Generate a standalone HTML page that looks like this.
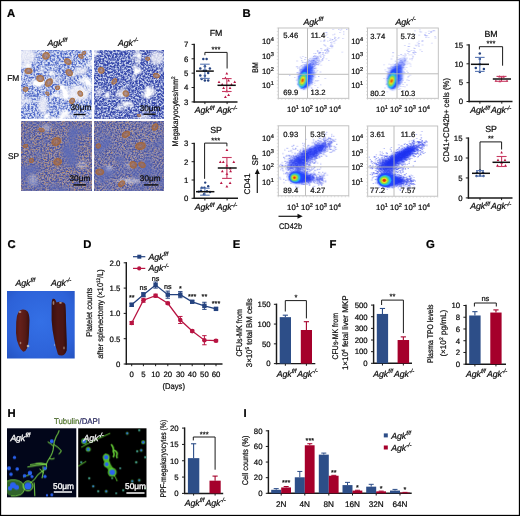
<!DOCTYPE html>
<html><head><meta charset="utf-8"><style>html,body{margin:0;padding:0;background:#fff;overflow:hidden}svg{display:block;will-change:transform}text{font-family:"Liberation Sans",sans-serif;stroke-width:0.22px;text-rendering:geometricPrecision}</style></head>
<body>
<svg width="520" height="516" viewBox="0 0 520 516" font-family='"Liberation Sans", sans-serif'>
<defs>
<filter id="fmA" x="0" y="0" width="100%" height="100%" color-interpolation-filters="sRGB">
 <feTurbulence type="fractalNoise" baseFrequency="0.55" numOctaves="2" seed="3" result="hf"/>
 <feColorMatrix in="hf" type="matrix" values="0 0 0 0 0.30  0 0 0 0 0.40  0 0 0 0 0.78  -3 0 0 0 1.95" result="dots"/>
 <feTurbulence type="fractalNoise" baseFrequency="0.08" numOctaves="2" seed="9" result="lf"/>
 <feColorMatrix in="lf" type="matrix" values="0 0 0 0 1  0 0 0 0 1  0 0 0 0 1  5 0 0 0 -2.75" result="white"/>
 <feMerge result="m"><feMergeNode in="dots"/><feMergeNode in="white"/></feMerge>
 <feGaussianBlur in="m" stdDeviation="0.3"/>
</filter>
<filter id="fmB" x="0" y="0" width="100%" height="100%" color-interpolation-filters="sRGB">
 <feTurbulence type="fractalNoise" baseFrequency="0.55" numOctaves="2" seed="5" result="hf"/>
 <feColorMatrix in="hf" type="matrix" values="0 0 0 0 0.21  0 0 0 0 0.28  0 0 0 0 0.67  -3 0 0 0 2.1" result="dots"/>
 <feTurbulence type="fractalNoise" baseFrequency="0.08" numOctaves="2" seed="4" result="lf"/>
 <feColorMatrix in="lf" type="matrix" values="0 0 0 0 1  0 0 0 0 1  0 0 0 0 1  5 0 0 0 -3.0" result="white"/>
 <feMerge result="m"><feMergeNode in="dots"/><feMergeNode in="white"/></feMerge>
 <feGaussianBlur in="m" stdDeviation="0.3"/>
</filter>
<filter id="spA" x="0" y="0" width="100%" height="100%" color-interpolation-filters="sRGB">
 <feTurbulence type="fractalNoise" baseFrequency="0.6" numOctaves="2" seed="11" result="hf"/>
 <feColorMatrix in="hf" type="matrix" values="0 0 0 0 0.27  0 0 0 0 0.32  0 0 0 0 0.64  -3 0 0 0 1.95" result="dots"/>
 <feTurbulence type="fractalNoise" baseFrequency="0.7" numOctaves="1" seed="12" result="hf2"/>
 <feColorMatrix in="hf2" type="matrix" values="0 0 0 0 0.72  0 0 0 0 0.53  0 0 0 0 0.36  -3 0 0 0 1.75" result="tan"/>
 <feTurbulence type="fractalNoise" baseFrequency="0.05" numOctaves="2" seed="13" result="lf"/>
 <feColorMatrix in="lf" type="matrix" values="0 0 0 0 0.36  0 0 0 0 0.42  0 0 0 0 0.72  3 0 0 0 -1.45" result="bl"/>
 <feMerge result="m"><feMergeNode in="tan"/><feMergeNode in="dots"/><feMergeNode in="bl"/></feMerge>
 <feGaussianBlur in="m" stdDeviation="0.45"/>
</filter>
<filter id="spB" x="0" y="0" width="100%" height="100%" color-interpolation-filters="sRGB">
 <feTurbulence type="fractalNoise" baseFrequency="0.6" numOctaves="2" seed="21" result="hf"/>
 <feColorMatrix in="hf" type="matrix" values="0 0 0 0 0.27  0 0 0 0 0.32  0 0 0 0 0.64  -3 0 0 0 1.95" result="dots"/>
 <feTurbulence type="fractalNoise" baseFrequency="0.7" numOctaves="1" seed="22" result="hf2"/>
 <feColorMatrix in="hf2" type="matrix" values="0 0 0 0 0.72  0 0 0 0 0.53  0 0 0 0 0.36  -3 0 0 0 1.5" result="tan"/>
 <feTurbulence type="fractalNoise" baseFrequency="0.05" numOctaves="2" seed="23" result="lf"/>
 <feColorMatrix in="lf" type="matrix" values="0 0 0 0 0.36  0 0 0 0 0.42  0 0 0 0 0.72  3 0 0 0 -1.45" result="bl"/>
 <feMerge result="m"><feMergeNode in="tan"/><feMergeNode in="dots"/><feMergeNode in="bl"/></feMerge>
 <feGaussianBlur in="m" stdDeviation="0.45"/>
</filter>
<filter id="b05"><feGaussianBlur stdDeviation="0.5"/></filter>
<filter id="b1" x="-50%" y="-50%" width="200%" height="200%"><feGaussianBlur stdDeviation="1"/></filter>
<filter id="b15" x="-50%" y="-50%" width="200%" height="200%"><feGaussianBlur stdDeviation="1.5"/></filter>
<filter id="b25" x="-50%" y="-50%" width="200%" height="200%"><feGaussianBlur stdDeviation="2.5"/></filter>
<radialGradient id="mk" cx="50%" cy="50%" r="50%"><stop offset="0" stop-color="#9a8090" stop-opacity="0.75"/><stop offset="0.5" stop-color="#a87858" stop-opacity="0.88"/><stop offset="0.75" stop-color="#a86838" stop-opacity="0.92"/><stop offset="0.9" stop-color="#b88858" stop-opacity="0.55"/><stop offset="1" stop-color="#c09068" stop-opacity="0"/></radialGradient>
<radialGradient id="mk2" cx="50%" cy="50%" r="50%"><stop offset="0" stop-color="#9a7068" stop-opacity="0.6"/><stop offset="0.5" stop-color="#a46a44" stop-opacity="0.8"/><stop offset="0.78" stop-color="#a8642e" stop-opacity="0.85"/><stop offset="1" stop-color="#b07848" stop-opacity="0"/></radialGradient>
<radialGradient id="cbg" cx="50%" cy="45%" r="75%"><stop offset="0" stop-color="#3470e6"/><stop offset="0.7" stop-color="#2d62d8"/><stop offset="1" stop-color="#2452c0"/></radialGradient>
<linearGradient id="spl1" x1="0" y1="0" x2="1" y2="0"><stop offset="0" stop-color="#521815"/><stop offset="0.3" stop-color="#66201a"/><stop offset="0.7" stop-color="#541a16"/><stop offset="1" stop-color="#3a0f0d"/></linearGradient><linearGradient id="spl2" x1="0" y1="0" x2="1" y2="0"><stop offset="0" stop-color="#3a0f0e"/><stop offset="0.4" stop-color="#4e1714"/><stop offset="0.75" stop-color="#4a1614"/><stop offset="1" stop-color="#300c0b"/></linearGradient>
</defs>
<rect x="0.00" y="0.00" width="520.00" height="516.00" fill="#fff"/>
<text x="7.00" y="16.60" font-size="11.3" font-weight="bold" fill="#000" stroke="#000">A</text>
<text x="242.50" y="16.50" font-size="11.3" font-weight="bold" fill="#000" stroke="#000">B</text>
<text x="7.60" y="248.30" font-size="11.3" font-weight="bold" fill="#000" stroke="#000">C</text>
<text x="83.20" y="248.30" font-size="11.3" font-weight="bold" fill="#000" stroke="#000">D</text>
<text x="232.80" y="248.30" font-size="11.3" font-weight="bold" fill="#000" stroke="#000">E</text>
<text x="329.60" y="248.30" font-size="11.3" font-weight="bold" fill="#000" stroke="#000">F</text>
<text x="426.00" y="248.30" font-size="11.3" font-weight="bold" fill="#000" stroke="#000">G</text>
<text x="7.50" y="416.90" font-size="11.3" font-weight="bold" fill="#000" stroke="#000">H</text>
<text x="243.60" y="416.70" font-size="11.3" font-weight="bold" fill="#000" stroke="#000">I</text>
<svg x="21" y="50" width="71" height="69" overflow="hidden">
<rect x="0" y="0" width="71" height="69" fill="#d8e0f4"/>
<rect x="0" y="0" width="71" height="69" filter="url(#fmA)"/>
<ellipse cx="6" cy="6" rx="9" ry="8" fill="#f4f4fa" opacity="0.85" filter="url(#b15)"/>
<ellipse cx="57" cy="43" rx="10" ry="8" fill="#f4f4fa" opacity="0.9" filter="url(#b15)"/>
<ellipse cx="22" cy="55" rx="5" ry="9" fill="#f4f4fa" opacity="0.85" filter="url(#b15)"/>
<ellipse cx="46" cy="66" rx="6" ry="3" fill="#f4f4fa" opacity="0.8" filter="url(#b15)"/>
<ellipse cx="60" cy="21" rx="7" ry="4" fill="#f4f4fa" opacity="0.8" filter="url(#b15)"/>
<ellipse cx="1" cy="50" rx="3" ry="8" fill="#f4f4fa" opacity="0.7" filter="url(#b15)"/>
<ellipse cx="35" cy="30" rx="4" ry="3" fill="#f4f4fa" opacity="0.6" filter="url(#b15)"/>
<ellipse cx="0" cy="0" rx="4.6" ry="4.2" fill="url(#mk)" transform="translate(25.0 5.8) rotate(-44)"/>
<ellipse cx="0" cy="0" rx="4.6" ry="3.5" fill="url(#mk)" transform="translate(46.8 11.6) rotate(32)"/>
<ellipse cx="0" cy="0" rx="4.6" ry="3.7" fill="url(#mk)" transform="translate(7.5 21.0) rotate(-1)"/>
<ellipse cx="0" cy="0" rx="4.6" ry="4.1" fill="url(#mk)" transform="translate(19.2 28.5) rotate(18)"/>
<ellipse cx="0" cy="0" rx="5.5" ry="3.9" fill="url(#mk)" transform="translate(27.9 32.6) rotate(-49)"/>
<ellipse cx="0" cy="0" rx="4.6" ry="3.7" fill="url(#mk)" transform="translate(48.2 22.7) rotate(40)"/>
<ellipse cx="0" cy="0" rx="3.4" ry="2.4" fill="url(#mk)" transform="translate(59.9 6.4) rotate(31)"/>
<ellipse cx="0" cy="0" rx="3.4" ry="3.0" fill="url(#mk)" transform="translate(4.6 39.2) rotate(-7)"/>
<ellipse cx="0" cy="0" rx="2.9" ry="2.7" fill="url(#mk)" transform="translate(36.6 37.8) rotate(-33)"/>
<ellipse cx="0" cy="0" rx="2.9" ry="2.0" fill="url(#mk)" transform="translate(26.4 43.6) rotate(48)"/>
<ellipse cx="0" cy="0" rx="3.8" ry="3.2" fill="url(#mk)" transform="translate(51.1 50.9) rotate(-57)"/>
<ellipse cx="0" cy="0" rx="3.8" ry="3.1" fill="url(#mk)" transform="translate(59.3 43.6) rotate(53)"/>
<ellipse cx="0" cy="0" rx="2.8" ry="2.2" fill="url(#mk)" transform="translate(62.8 3.0) rotate(-34)"/>
</svg>
<svg x="94" y="50" width="70" height="69" overflow="hidden">
<rect x="0" y="0" width="70" height="69" fill="#cfd8f0"/>
<rect x="0" y="0" width="70" height="69" filter="url(#fmB)"/>
<ellipse cx="28" cy="44" rx="6" ry="4" fill="#f4f4fa" opacity="0.85" filter="url(#b15)"/>
<ellipse cx="63" cy="8" rx="7" ry="7" fill="#f4f4fa" opacity="0.8" filter="url(#b15)"/>
<ellipse cx="5" cy="42" rx="3" ry="4" fill="#f4f4fa" opacity="0.7" filter="url(#b15)"/>
<ellipse cx="52" cy="60" rx="4" ry="3" fill="#f4f4fa" opacity="0.5" filter="url(#b15)"/>
<ellipse cx="0" cy="0" rx="4.0" ry="3.7" fill="url(#mk)" transform="translate(7.2 20.3) rotate(55)"/>
<ellipse cx="0" cy="0" rx="4.0" ry="2.9" fill="url(#mk)" transform="translate(20.3 31.4) rotate(-53)"/>
<ellipse cx="0" cy="0" rx="4.0" ry="3.5" fill="url(#mk)" transform="translate(31.9 43.6) rotate(40)"/>
<ellipse cx="0" cy="0" rx="4.0" ry="3.1" fill="url(#mk)" transform="translate(62.4 25.6) rotate(20)"/>
<ellipse cx="0" cy="0" rx="2.8" ry="2.4" fill="url(#mk)" transform="translate(53.7 8.7) rotate(13)"/>
<ellipse cx="0" cy="0" rx="2.4" ry="1.8" fill="url(#mk)" transform="translate(45.0 65.4) rotate(10)"/>
</svg>
<svg x="21" y="121" width="71" height="70" overflow="hidden">
<rect x="0" y="0" width="71" height="70" fill="#a098b0"/>
<rect x="0" y="0" width="71" height="70" filter="url(#spA)"/>
<ellipse cx="25" cy="7" rx="5" ry="3.5" fill="#f4f4fa" opacity="0.35" filter="url(#b15)"/>
<ellipse cx="12" cy="59" rx="5" ry="6" fill="#f4f4fa" opacity="0.3" filter="url(#b15)"/>
<ellipse cx="61" cy="44" rx="5" ry="5" fill="#f4f4fa" opacity="0.25" filter="url(#b15)"/>
<ellipse cx="0" cy="0" rx="5.8" ry="4.8" fill="url(#mk2)" transform="translate(35.2 20.6) rotate(-31)"/>
<ellipse cx="0" cy="0" rx="5.0" ry="4.3" fill="url(#mk2)" transform="translate(36.6 40.9) rotate(-16)"/>
<ellipse cx="0" cy="0" rx="3.6" ry="2.6" fill="url(#mk2)" transform="translate(20.6 9.0) rotate(15)"/>
<ellipse cx="0" cy="0" rx="3.1" ry="2.8" fill="url(#mk2)" transform="translate(10.4 39.5) rotate(-58)"/>
<ellipse cx="0" cy="0" rx="3.1" ry="2.4" fill="url(#mk2)" transform="translate(4.6 25.0) rotate(-29)"/>
</svg>
<svg x="94" y="121" width="70" height="70" overflow="hidden">
<rect x="0" y="0" width="70" height="70" fill="#a098b0"/>
<rect x="0" y="0" width="70" height="70" filter="url(#spB)"/>
<ellipse cx="35" cy="60" rx="12" ry="2.2" fill="#f4f4fa" opacity="0.55" filter="url(#b15)"/>
<ellipse cx="15" cy="47" rx="3" ry="3" fill="#f4f4fa" opacity="0.4" filter="url(#b15)"/>
<ellipse cx="35" cy="44" rx="4" ry="2.5" fill="#f4f4fa" opacity="0.3" filter="url(#b15)"/>
<ellipse cx="0" cy="0" rx="5.2" ry="3.7" fill="url(#mk2)" transform="translate(32.0 13.3) rotate(-32)"/>
<ellipse cx="0" cy="0" rx="6.2" ry="4.6" fill="url(#mk2)" transform="translate(46.5 25.0) rotate(-12)"/>
<ellipse cx="0" cy="0" rx="4.6" ry="3.6" fill="url(#mk2)" transform="translate(61.0 6.0) rotate(-52)"/>
<ellipse cx="0" cy="0" rx="4.6" ry="4.1" fill="url(#mk2)" transform="translate(39.2 43.8) rotate(50)"/>
<ellipse cx="0" cy="0" rx="4.6" ry="3.4" fill="url(#mk2)" transform="translate(48.0 43.8) rotate(32)"/>
<ellipse cx="0" cy="0" rx="5.0" ry="3.9" fill="url(#mk2)" transform="translate(5.8 51.0) rotate(4)"/>
<ellipse cx="0" cy="0" rx="4.6" ry="3.3" fill="url(#mk2)" transform="translate(27.6 62.7) rotate(-39)"/>
<ellipse cx="0" cy="0" rx="3.2" ry="3.0" fill="url(#mk2)" transform="translate(4.3 25.0) rotate(-34)"/>
</svg>
<text x="80.90" y="109.70" font-size="8.2" text-anchor="middle" fill="#0a0a0a" stroke="#0a0a0a">30μm</text>
<line x1="73.60" y1="114.50" x2="85.50" y2="114.50" stroke="#0a0a0a" stroke-width="1.4"/>
<text x="150.00" y="111.30" font-size="8.2" text-anchor="middle" fill="#0a0a0a" stroke="#0a0a0a">30μm</text>
<line x1="143.50" y1="114.20" x2="155.70" y2="114.20" stroke="#0a0a0a" stroke-width="1.4"/>
<text x="79.90" y="180.50" font-size="8.2" text-anchor="middle" fill="#0a0a0a" stroke="#0a0a0a">30μm</text>
<line x1="73.30" y1="184.90" x2="85.90" y2="184.90" stroke="#0a0a0a" stroke-width="1.4"/>
<text x="150.20" y="181.20" font-size="8.2" text-anchor="middle" fill="#0a0a0a" stroke="#0a0a0a">30μm</text>
<line x1="143.90" y1="184.90" x2="158.50" y2="184.90" stroke="#0a0a0a" stroke-width="1.4"/>
<text x="47.50" y="45.60" font-size="8.8" font-style="italic" stroke="#1a1a1a" letter-spacing="-0.15">Agk<tspan font-size="5.98" dy="-3.52" dx="0.3">f/f</tspan></text>
<text x="118.00" y="45.60" font-size="8.8" font-style="italic" stroke="#1a1a1a" letter-spacing="-0.15">Agk<tspan font-size="5.98" dy="-3.52" dx="0.3">-/-</tspan></text>
<text x="7.20" y="81.40" font-size="8.4" stroke="#1a1a1a">FM</text>
<text x="8.00" y="159.00" font-size="8.4" stroke="#1a1a1a">SP</text>
<text x="177.95" y="111.40" font-size="8.2" text-anchor="middle" stroke="#1a1a1a" textLength="70" lengthAdjust="spacingAndGlyphs" transform="rotate(-90 177.95 111.40)">Megakaryocytes/mm<tspan font-size="5.2" dy="-3.2">2</tspan></text>
<text x="216.00" y="36.30" font-size="8.8" text-anchor="middle" stroke="#1a1a1a">FM</text>
<line x1="194.20" y1="43.70" x2="194.20" y2="102.55" stroke="#1a1a1a" stroke-width="1.45"/>
<line x1="193.55" y1="101.90" x2="237.50" y2="101.90" stroke="#1a1a1a" stroke-width="1.45"/>
<line x1="191.60" y1="44.40" x2="194.20" y2="44.40" stroke="#1a1a1a" stroke-width="1"/>
<text x="188.30" y="47.21" font-size="7.8" text-anchor="end" stroke="#1a1a1a">7</text>
<line x1="191.60" y1="58.78" x2="194.20" y2="58.78" stroke="#1a1a1a" stroke-width="1"/>
<text x="188.30" y="61.58" font-size="7.8" text-anchor="end" stroke="#1a1a1a">6</text>
<line x1="191.60" y1="73.15" x2="194.20" y2="73.15" stroke="#1a1a1a" stroke-width="1"/>
<text x="188.30" y="75.96" font-size="7.8" text-anchor="end" stroke="#1a1a1a">5</text>
<line x1="191.60" y1="87.53" x2="194.20" y2="87.53" stroke="#1a1a1a" stroke-width="1"/>
<text x="188.30" y="90.33" font-size="7.8" text-anchor="end" stroke="#1a1a1a">4</text>
<line x1="191.60" y1="101.90" x2="194.20" y2="101.90" stroke="#1a1a1a" stroke-width="1"/>
<text x="188.30" y="104.71" font-size="7.8" text-anchor="end" stroke="#1a1a1a">3</text>
<line x1="204.90" y1="101.90" x2="204.90" y2="104.10" stroke="#1a1a1a" stroke-width="1"/>
<line x1="227.10" y1="101.90" x2="227.10" y2="104.10" stroke="#1a1a1a" stroke-width="1"/>
<text x="194.80" y="113.30" font-size="8.8" font-style="italic" stroke="#1a1a1a" letter-spacing="-0.15">Agk<tspan font-size="5.98" dy="-3.52" dx="0.3">f/f</tspan></text>
<text x="216.80" y="113.30" font-size="8.8" font-style="italic" stroke="#1a1a1a" letter-spacing="-0.15">Agk<tspan font-size="5.98" dy="-3.52" dx="0.3">-/-</tspan></text>
<circle cx="203.3" cy="59.0" r="1.25" fill="#24427f"/>
<circle cx="206.6" cy="59.0" r="1.25" fill="#24427f"/>
<circle cx="204.9" cy="66.2" r="1.25" fill="#24427f"/>
<circle cx="200.3" cy="68.5" r="1.25" fill="#24427f"/>
<circle cx="209.9" cy="68.5" r="1.25" fill="#24427f"/>
<circle cx="203.9" cy="70.7" r="1.25" fill="#24427f"/>
<circle cx="205.9" cy="70.7" r="1.25" fill="#24427f"/>
<circle cx="208.2" cy="73.1" r="1.25" fill="#24427f"/>
<circle cx="200.3" cy="75.6" r="1.25" fill="#24427f"/>
<circle cx="204.9" cy="75.8" r="1.25" fill="#24427f"/>
<circle cx="201.6" cy="79.0" r="1.25" fill="#24427f"/>
<circle cx="204.9" cy="80.4" r="1.25" fill="#24427f"/>
<circle cx="208.2" cy="80.4" r="1.25" fill="#24427f"/>
<line x1="204.90" y1="64.20" x2="204.90" y2="78.40" stroke="#5a78b4" stroke-width="1.1"/>
<line x1="200.10" y1="64.20" x2="209.70" y2="64.20" stroke="#5a78b4" stroke-width="1.1"/>
<line x1="200.10" y1="78.40" x2="209.70" y2="78.40" stroke="#5a78b4" stroke-width="1.1"/>
<line x1="196.00" y1="71.10" x2="213.80" y2="71.10" stroke="#111" stroke-width="1.5"/>
<path d="M226.8 72.0L228.2 74.5L225.4 74.5Z" fill="#b81442"/>
<path d="M225.4 76.5L226.8 79.0L224.0 79.0Z" fill="#b81442"/>
<path d="M228.6 79.0L230.0 81.5L227.2 81.5Z" fill="#b81442"/>
<path d="M219.0 80.5L220.4 83.0L217.6 83.0Z" fill="#b81442"/>
<path d="M234.7 80.5L236.1 83.0L233.3 83.0Z" fill="#b81442"/>
<path d="M222.2 83.1L223.6 85.6L220.8 85.6Z" fill="#b81442"/>
<path d="M231.5 83.1L232.9 85.6L230.1 85.6Z" fill="#b81442"/>
<path d="M223.6 86.5L225.0 89.0L222.2 89.0Z" fill="#b81442"/>
<path d="M230.0 86.5L231.4 89.0L228.6 89.0Z" fill="#b81442"/>
<path d="M226.8 89.8L228.2 92.3L225.4 92.3Z" fill="#b81442"/>
<path d="M228.6 93.4L230.0 95.9L227.2 95.9Z" fill="#b81442"/>
<path d="M225.4 95.5L226.8 98.0L224.0 98.0Z" fill="#b81442"/>
<line x1="226.80" y1="78.60" x2="226.80" y2="91.50" stroke="#c83a62" stroke-width="1.1"/>
<line x1="222.00" y1="78.60" x2="231.60" y2="78.60" stroke="#c83a62" stroke-width="1.1"/>
<line x1="222.00" y1="91.50" x2="231.60" y2="91.50" stroke="#c83a62" stroke-width="1.1"/>
<line x1="217.50" y1="85.30" x2="235.80" y2="85.30" stroke="#111" stroke-width="1.5"/>
<path d="M204.90 55.20V52.40H227.10V68.50" fill="none" stroke="#1a1a1a" stroke-width="1"/>
<text x="216.00" y="52.00" font-size="7.5" text-anchor="middle" stroke="#1a1a1a">***</text>
<text x="216.00" y="132.60" font-size="8.8" text-anchor="middle" stroke="#1a1a1a">SP</text>
<line x1="194.20" y1="142.70" x2="194.20" y2="198.95" stroke="#1a1a1a" stroke-width="1.45"/>
<line x1="193.55" y1="198.30" x2="238.00" y2="198.30" stroke="#1a1a1a" stroke-width="1.45"/>
<line x1="191.60" y1="143.40" x2="194.20" y2="143.40" stroke="#1a1a1a" stroke-width="1"/>
<text x="188.30" y="146.21" font-size="7.8" text-anchor="end" stroke="#1a1a1a">3</text>
<line x1="191.60" y1="161.70" x2="194.20" y2="161.70" stroke="#1a1a1a" stroke-width="1"/>
<text x="188.30" y="164.51" font-size="7.8" text-anchor="end" stroke="#1a1a1a">2</text>
<line x1="191.60" y1="180.00" x2="194.20" y2="180.00" stroke="#1a1a1a" stroke-width="1"/>
<text x="188.30" y="182.81" font-size="7.8" text-anchor="end" stroke="#1a1a1a">1</text>
<line x1="191.60" y1="198.30" x2="194.20" y2="198.30" stroke="#1a1a1a" stroke-width="1"/>
<text x="188.30" y="201.11" font-size="7.8" text-anchor="end" stroke="#1a1a1a">0</text>
<line x1="204.90" y1="198.30" x2="204.90" y2="200.50" stroke="#1a1a1a" stroke-width="1"/>
<line x1="227.10" y1="198.30" x2="227.10" y2="200.50" stroke="#1a1a1a" stroke-width="1"/>
<text x="194.80" y="210.30" font-size="8.8" font-style="italic" stroke="#1a1a1a" letter-spacing="-0.15">Agk<tspan font-size="5.98" dy="-3.52" dx="0.3">f/f</tspan></text>
<text x="216.80" y="210.30" font-size="8.8" font-style="italic" stroke="#1a1a1a" letter-spacing="-0.15">Agk<tspan font-size="5.98" dy="-3.52" dx="0.3">-/-</tspan></text>
<circle cx="205.2" cy="182.6" r="1.2" fill="#24427f"/>
<circle cx="201.8" cy="187.8" r="1.2" fill="#24427f"/>
<circle cx="204.4" cy="187.6" r="1.2" fill="#24427f"/>
<circle cx="208.2" cy="186.3" r="1.2" fill="#24427f"/>
<circle cx="201.0" cy="190.8" r="1.2" fill="#24427f"/>
<circle cx="207.0" cy="191.3" r="1.2" fill="#24427f"/>
<circle cx="204.0" cy="194.2" r="1.2" fill="#24427f"/>
<circle cx="210.0" cy="192.0" r="1.2" fill="#24427f"/>
<circle cx="198.7" cy="191.6" r="1.2" fill="#24427f"/>
<line x1="204.90" y1="188.20" x2="204.90" y2="195.20" stroke="#5a78b4" stroke-width="1.1"/>
<line x1="200.10" y1="188.20" x2="209.70" y2="188.20" stroke="#5a78b4" stroke-width="1.1"/>
<line x1="200.10" y1="195.20" x2="209.70" y2="195.20" stroke="#5a78b4" stroke-width="1.1"/>
<line x1="196.00" y1="191.70" x2="214.40" y2="191.70" stroke="#111" stroke-width="1.5"/>
<path d="M226.9 148.5L228.3 151.0L225.5 151.0Z" fill="#b81442"/>
<path d="M220.3 160.5L221.7 163.0L218.9 163.0Z" fill="#b81442"/>
<path d="M223.3 160.5L224.7 163.0L221.9 163.0Z" fill="#b81442"/>
<path d="M233.8 160.5L235.2 163.0L232.4 163.0Z" fill="#b81442"/>
<path d="M226.9 164.1L228.3 166.6L225.5 166.6Z" fill="#b81442"/>
<path d="M230.2 167.0L231.6 169.5L228.8 169.5Z" fill="#b81442"/>
<path d="M222.3 169.7L223.7 172.2L220.9 172.2Z" fill="#b81442"/>
<path d="M230.6 169.7L232.0 172.2L229.2 172.2Z" fill="#b81442"/>
<path d="M226.9 172.5L228.3 175.0L225.5 175.0Z" fill="#b81442"/>
<path d="M221.3 181.5L222.7 184.0L219.9 184.0Z" fill="#b81442"/>
<path d="M230.1 181.5L231.5 184.0L228.7 184.0Z" fill="#b81442"/>
<path d="M226.9 185.0L228.3 187.5L225.5 187.5Z" fill="#b81442"/>
<line x1="226.90" y1="157.50" x2="226.90" y2="178.40" stroke="#c83a62" stroke-width="1.1"/>
<line x1="222.10" y1="157.50" x2="231.70" y2="157.50" stroke="#c83a62" stroke-width="1.1"/>
<line x1="222.10" y1="178.40" x2="231.70" y2="178.40" stroke="#c83a62" stroke-width="1.1"/>
<line x1="217.80" y1="168.00" x2="236.70" y2="168.00" stroke="#111" stroke-width="1.5"/>
<path d="M204.60 178.80V143.10H226.90V146.30" fill="none" stroke="#1a1a1a" stroke-width="1"/>
<text x="215.75" y="142.50" font-size="7.5" text-anchor="middle" stroke="#1a1a1a">***</text>
<svg x="278.3" y="28" width="70.5" height="70.3" overflow="hidden"><g transform="translate(-278.3 -28)">
<g filter="url(#b15)" opacity="0.45">
<ellipse cx="0" cy="0" rx="9" ry="3.5" fill="#3050ff" transform="translate(311 65) rotate(-55)"/>
</g>
<path d="M307.6 61.6h0.8v0.8h-0.8zM309.8 62.9h0.8v0.8h-0.8zM304.6 70.7h0.8v0.8h-0.8zM332.0 45.3h0.8v0.8h-0.8zM307.1 69.6h0.8v0.8h-0.8zM309.9 71.5h0.8v0.8h-0.8zM319.4 51.8h0.8v0.8h-0.8zM305.5 71.9h0.8v0.8h-0.8zM307.0 71.2h0.8v0.8h-0.8zM308.7 64.8h0.8v0.8h-0.8zM313.0 58.2h0.8v0.8h-0.8zM318.6 53.4h0.8v0.8h-0.8zM322.7 52.1h0.8v0.8h-0.8zM311.3 70.2h0.8v0.8h-0.8zM312.3 63.8h0.8v0.8h-0.8zM308.8 69.5h0.8v0.8h-0.8zM320.2 52.1h0.8v0.8h-0.8zM304.2 75.2h0.8v0.8h-0.8zM329.0 48.0h0.8v0.8h-0.8zM308.8 72.7h0.8v0.8h-0.8zM305.2 70.3h0.8v0.8h-0.8zM306.9 69.9h0.8v0.8h-0.8zM323.1 56.2h0.8v0.8h-0.8zM306.7 74.8h0.8v0.8h-0.8zM326.3 51.3h0.8v0.8h-0.8zM304.7 72.5h0.8v0.8h-0.8zM328.6 59.9h0.8v0.8h-0.8zM307.1 73.3h0.8v0.8h-0.8zM309.1 68.6h0.8v0.8h-0.8zM305.2 71.2h0.8v0.8h-0.8zM316.0 58.8h0.8v0.8h-0.8zM332.8 29.0h0.8v0.8h-0.8zM334.9 39.7h0.8v0.8h-0.8zM338.5 29.3h0.8v0.8h-0.8zM306.7 66.9h0.8v0.8h-0.8zM310.3 69.6h0.8v0.8h-0.8zM317.2 56.9h0.8v0.8h-0.8zM307.1 71.7h0.8v0.8h-0.8zM323.3 56.9h0.8v0.8h-0.8zM317.7 58.5h0.8v0.8h-0.8zM327.0 49.9h0.8v0.8h-0.8zM319.0 55.4h0.8v0.8h-0.8zM309.4 68.5h0.8v0.8h-0.8zM305.8 73.6h0.8v0.8h-0.8zM306.7 73.2h0.8v0.8h-0.8zM319.0 60.0h0.8v0.8h-0.8zM343.3 33.8h0.8v0.8h-0.8zM321.1 49.7h0.8v0.8h-0.8zM309.3 72.3h0.8v0.8h-0.8zM324.2 49.9h0.8v0.8h-0.8zM314.7 54.9h0.8v0.8h-0.8zM309.8 68.1h0.8v0.8h-0.8zM315.5 53.3h0.8v0.8h-0.8zM323.4 40.6h0.8v0.8h-0.8zM332.2 39.4h0.8v0.8h-0.8zM340.1 29.7h0.8v0.8h-0.8zM332.5 39.0h0.8v0.8h-0.8zM316.3 57.9h0.8v0.8h-0.8zM322.7 58.1h0.8v0.8h-0.8zM310.5 63.2h0.8v0.8h-0.8zM312.8 63.3h0.8v0.8h-0.8zM331.7 47.5h0.8v0.8h-0.8zM314.1 66.2h0.8v0.8h-0.8zM309.8 57.9h0.8v0.8h-0.8zM309.4 69.7h0.8v0.8h-0.8zM322.8 53.7h0.8v0.8h-0.8zM331.8 41.8h0.8v0.8h-0.8zM304.4 71.9h0.8v0.8h-0.8zM341.2 28.8h0.8v0.8h-0.8zM316.9 58.8h0.8v0.8h-0.8zM316.7 57.4h0.8v0.8h-0.8zM326.9 48.4h0.8v0.8h-0.8zM305.5 71.4h0.8v0.8h-0.8zM305.3 71.6h0.8v0.8h-0.8zM312.1 66.3h0.8v0.8h-0.8zM306.3 71.7h0.8v0.8h-0.8zM320.8 48.1h0.8v0.8h-0.8zM331.1 43.6h0.8v0.8h-0.8zM317.1 64.2h0.8v0.8h-0.8zM307.9 70.4h0.8v0.8h-0.8zM315.3 56.2h0.8v0.8h-0.8zM324.1 44.9h0.8v0.8h-0.8zM323.8 55.1h0.8v0.8h-0.8zM308.7 71.0h0.8v0.8h-0.8zM325.5 51.9h0.8v0.8h-0.8zM308.9 65.1h0.8v0.8h-0.8zM319.1 52.3h0.8v0.8h-0.8zM330.3 42.2h0.8v0.8h-0.8zM309.0 59.9h0.8v0.8h-0.8zM306.5 64.6h0.8v0.8h-0.8zM333.8 41.1h0.8v0.8h-0.8zM322.3 58.6h0.8v0.8h-0.8zM325.7 35.3h0.8v0.8h-0.8zM311.1 67.6h0.8v0.8h-0.8zM312.3 66.1h0.8v0.8h-0.8zM311.6 68.3h0.8v0.8h-0.8zM316.6 55.8h0.8v0.8h-0.8zM306.2 71.5h0.8v0.8h-0.8zM331.2 46.3h0.8v0.8h-0.8zM330.1 45.5h0.8v0.8h-0.8zM314.0 55.7h0.8v0.8h-0.8zM326.8 49.4h0.8v0.8h-0.8zM343.5 31.4h0.8v0.8h-0.8zM314.2 64.5h0.8v0.8h-0.8zM313.8 53.2h0.8v0.8h-0.8zM315.5 61.2h0.8v0.8h-0.8zM335.0 36.9h0.8v0.8h-0.8zM338.6 37.2h0.8v0.8h-0.8zM318.3 61.4h0.8v0.8h-0.8zM313.9 61.0h0.8v0.8h-0.8zM324.4 40.5h0.8v0.8h-0.8zM327.1 52.6h0.8v0.8h-0.8zM316.3 63.8h0.8v0.8h-0.8zM307.2 69.5h0.8v0.8h-0.8zM314.0 59.8h0.8v0.8h-0.8zM312.8 64.1h0.8v0.8h-0.8zM320.7 54.6h0.8v0.8h-0.8zM330.8 44.7h0.8v0.8h-0.8zM306.9 68.8h0.8v0.8h-0.8zM309.2 66.4h0.8v0.8h-0.8zM328.5 51.3h0.8v0.8h-0.8zM308.5 71.7h0.8v0.8h-0.8zM310.4 65.9h0.8v0.8h-0.8zM316.4 61.7h0.8v0.8h-0.8zM317.2 51.4h0.8v0.8h-0.8zM325.1 31.9h0.8v0.8h-0.8zM307.4 67.0h0.8v0.8h-0.8zM334.4 38.1h0.8v0.8h-0.8zM341.9 51.7h0.8v0.8h-0.8zM337.9 38.0h0.8v0.8h-0.8zM324.7 50.0h0.8v0.8h-0.8zM323.8 44.0h0.8v0.8h-0.8zM304.5 72.9h0.8v0.8h-0.8zM306.7 74.2h0.8v0.8h-0.8zM339.7 32.3h0.8v0.8h-0.8zM314.6 58.2h0.8v0.8h-0.8zM323.1 52.4h0.8v0.8h-0.8zM308.2 72.1h0.8v0.8h-0.8zM313.5 60.2h0.8v0.8h-0.8zM307.8 73.8h0.8v0.8h-0.8zM307.7 71.4h0.8v0.8h-0.8zM324.8 49.6h0.8v0.8h-0.8zM311.6 62.4h0.8v0.8h-0.8zM305.1 69.2h0.8v0.8h-0.8zM304.3 71.6h0.8v0.8h-0.8zM311.7 66.7h0.8v0.8h-0.8zM320.3 61.5h0.8v0.8h-0.8zM326.8 33.8h0.8v0.8h-0.8zM316.0 57.2h0.8v0.8h-0.8zM319.1 60.8h0.8v0.8h-0.8zM310.4 68.0h0.8v0.8h-0.8zM329.6 40.3h0.8v0.8h-0.8zM327.6 40.8h0.8v0.8h-0.8zM327.9 50.1h0.8v0.8h-0.8zM315.5 63.1h0.8v0.8h-0.8zM318.4 52.4h0.8v0.8h-0.8zM317.3 50.9h0.8v0.8h-0.8zM313.8 66.0h0.8v0.8h-0.8zM324.2 39.4h0.8v0.8h-0.8zM304.2 70.4h0.8v0.8h-0.8zM307.4 69.9h0.8v0.8h-0.8zM306.5 71.2h0.8v0.8h-0.8zM309.6 68.5h0.8v0.8h-0.8zM317.9 60.5h0.8v0.8h-0.8zM304.0 70.4h0.8v0.8h-0.8zM306.8 71.6h0.8v0.8h-0.8zM314.7 65.3h0.8v0.8h-0.8zM326.0 58.5h0.8v0.8h-0.8zM308.7 64.3h0.8v0.8h-0.8zM309.5 69.7h0.8v0.8h-0.8zM315.7 63.1h0.8v0.8h-0.8zM310.0 68.8h0.8v0.8h-0.8zM307.4 74.1h0.8v0.8h-0.8zM313.6 63.8h0.8v0.8h-0.8zM309.7 71.7h0.8v0.8h-0.8zM307.5 70.9h0.8v0.8h-0.8zM315.3 62.2h0.8v0.8h-0.8zM319.1 58.8h0.8v0.8h-0.8zM317.6 62.4h0.8v0.8h-0.8zM321.8 59.1h0.8v0.8h-0.8zM313.0 64.2h0.8v0.8h-0.8zM317.4 62.3h0.8v0.8h-0.8zM319.0 53.0h0.8v0.8h-0.8zM313.0 59.9h0.8v0.8h-0.8zM322.2 60.0h0.8v0.8h-0.8zM325.4 49.6h0.8v0.8h-0.8zM309.6 70.0h0.8v0.8h-0.8zM313.3 56.1h0.8v0.8h-0.8zM327.5 49.2h0.8v0.8h-0.8zM307.1 72.4h0.8v0.8h-0.8zM311.0 64.0h0.8v0.8h-0.8zM316.9 60.1h0.8v0.8h-0.8zM317.2 50.1h0.8v0.8h-0.8zM308.9 66.7h0.8v0.8h-0.8zM309.5 63.6h0.8v0.8h-0.8zM308.1 73.7h0.8v0.8h-0.8zM319.7 52.8h0.8v0.8h-0.8zM311.6 68.8h0.8v0.8h-0.8zM306.7 61.6h0.8v0.8h-0.8zM306.2 67.0h0.8v0.8h-0.8zM332.8 34.4h0.8v0.8h-0.8zM306.7 71.3h0.8v0.8h-0.8zM304.5 71.1h0.8v0.8h-0.8zM320.6 57.2h0.8v0.8h-0.8zM306.6 74.0h0.8v0.8h-0.8zM305.3 74.1h0.8v0.8h-0.8zM322.6 52.5h0.8v0.8h-0.8zM309.7 65.1h0.8v0.8h-0.8zM305.8 69.6h0.8v0.8h-0.8zM312.8 62.3h0.8v0.8h-0.8zM305.5 70.8h0.8v0.8h-0.8zM335.8 39.6h0.8v0.8h-0.8zM308.8 68.3h0.8v0.8h-0.8zM311.6 68.6h0.8v0.8h-0.8zM320.7 40.7h0.8v0.8h-0.8zM318.9 62.8h0.8v0.8h-0.8zM334.5 36.8h0.8v0.8h-0.8zM311.5 59.9h0.8v0.8h-0.8zM303.5 71.1h0.8v0.8h-0.8zM308.3 73.0h0.8v0.8h-0.8zM342.7 37.9h0.8v0.8h-0.8zM306.5 69.1h0.8v0.8h-0.8zM308.3 72.7h0.8v0.8h-0.8zM315.3 57.9h0.8v0.8h-0.8zM312.4 67.0h0.8v0.8h-0.8zM310.1 60.9h0.8v0.8h-0.8zM327.2 47.5h0.8v0.8h-0.8zM326.3 32.3h0.8v0.8h-0.8zM334.5 33.8h0.8v0.8h-0.8zM325.2 45.6h0.8v0.8h-0.8zM313.9 67.8h0.8v0.8h-0.8zM305.9 71.2h0.8v0.8h-0.8zM346.5 29.1h0.8v0.8h-0.8zM304.7 69.5h0.8v0.8h-0.8zM308.5 71.6h0.8v0.8h-0.8zM318.3 56.8h0.8v0.8h-0.8zM306.7 72.6h0.8v0.8h-0.8zM307.1 67.8h0.8v0.8h-0.8zM308.0 71.5h0.8v0.8h-0.8zM306.9 69.6h0.8v0.8h-0.8zM317.5 56.3h0.8v0.8h-0.8zM310.9 67.0h0.8v0.8h-0.8zM304.9 66.0h0.8v0.8h-0.8zM313.8 63.1h0.8v0.8h-0.8zM313.1 60.0h0.8v0.8h-0.8zM304.6 72.2h0.8v0.8h-0.8zM327.6 36.9h0.8v0.8h-0.8zM307.4 72.3h0.8v0.8h-0.8zM309.4 68.0h0.8v0.8h-0.8zM322.7 54.1h0.8v0.8h-0.8zM318.3 63.7h0.8v0.8h-0.8zM307.3 69.4h0.8v0.8h-0.8zM334.0 42.7h0.8v0.8h-0.8zM327.9 51.5h0.8v0.8h-0.8zM316.3 62.0h0.8v0.8h-0.8zM330.1 46.2h0.8v0.8h-0.8zM312.4 64.5h0.8v0.8h-0.8zM332.5 46.2h0.8v0.8h-0.8zM318.0 64.6h0.8v0.8h-0.8zM308.6 69.0h0.8v0.8h-0.8zM305.9 69.1h0.8v0.8h-0.8zM309.6 66.1h0.8v0.8h-0.8zM305.5 67.1h0.8v0.8h-0.8zM330.8 39.5h0.8v0.8h-0.8zM310.1 64.9h0.8v0.8h-0.8zM316.4 58.5h0.8v0.8h-0.8zM318.3 58.5h0.8v0.8h-0.8zM315.0 62.1h0.8v0.8h-0.8zM310.0 64.5h0.8v0.8h-0.8zM306.9 69.1h0.8v0.8h-0.8zM309.7 67.0h0.8v0.8h-0.8zM308.5 72.7h0.8v0.8h-0.8zM325.5 53.0h0.8v0.8h-0.8zM329.9 38.4h0.8v0.8h-0.8zM307.9 70.9h0.8v0.8h-0.8zM315.7 67.5h0.8v0.8h-0.8zM308.6 64.4h0.8v0.8h-0.8zM308.1 59.2h0.8v0.8h-0.8zM303.3 77.4h0.8v0.8h-0.8zM306.2 73.7h0.8v0.8h-0.8zM300.1 79.8h0.8v0.8h-0.8zM316.6 71.5h0.8v0.8h-0.8zM303.0 64.3h0.8v0.8h-0.8zM311.9 73.8h0.8v0.8h-0.8zM302.6 82.1h0.8v0.8h-0.8zM311.2 77.5h0.8v0.8h-0.8zM297.3 72.2h0.8v0.8h-0.8zM310.4 63.8h0.8v0.8h-0.8zM312.1 83.7h0.8v0.8h-0.8zM312.7 67.6h0.8v0.8h-0.8zM303.1 80.1h0.8v0.8h-0.8zM312.5 82.2h0.8v0.8h-0.8zM313.6 72.3h0.8v0.8h-0.8zM304.7 59.1h0.8v0.8h-0.8zM311.3 90.1h0.8v0.8h-0.8zM304.5 69.4h0.8v0.8h-0.8zM310.6 75.8h0.8v0.8h-0.8zM299.5 67.6h0.8v0.8h-0.8zM301.0 88.2h0.8v0.8h-0.8zM303.1 79.4h0.8v0.8h-0.8zM317.5 87.2h0.8v0.8h-0.8zM314.8 85.2h0.8v0.8h-0.8zM300.2 70.4h0.8v0.8h-0.8zM303.0 70.8h0.8v0.8h-0.8zM321.4 60.4h0.8v0.8h-0.8zM310.1 63.7h0.8v0.8h-0.8zM314.4 82.7h0.8v0.8h-0.8zM304.2 88.5h0.8v0.8h-0.8zM307.4 82.8h0.8v0.8h-0.8zM308.7 68.8h0.8v0.8h-0.8zM304.9 72.1h0.8v0.8h-0.8zM310.4 73.9h0.8v0.8h-0.8zM320.0 71.6h0.8v0.8h-0.8zM304.4 67.6h0.8v0.8h-0.8zM302.7 62.2h0.8v0.8h-0.8zM301.6 79.8h0.8v0.8h-0.8zM307.3 71.7h0.8v0.8h-0.8zM308.9 81.0h0.8v0.8h-0.8zM310.4 78.8h0.8v0.8h-0.8zM303.9 71.0h0.8v0.8h-0.8zM302.7 72.3h0.8v0.8h-0.8zM302.5 70.2h0.8v0.8h-0.8zM306.0 71.4h0.8v0.8h-0.8zM305.5 69.3h0.8v0.8h-0.8zM314.2 70.4h0.8v0.8h-0.8zM301.4 74.5h0.8v0.8h-0.8zM301.0 65.0h0.8v0.8h-0.8zM307.5 60.5h0.8v0.8h-0.8zM289.3 75.2h0.8v0.8h-0.8zM312.7 60.5h0.8v0.8h-0.8zM302.1 77.3h0.8v0.8h-0.8zM296.1 66.4h0.8v0.8h-0.8zM300.4 71.5h0.8v0.8h-0.8zM296.1 79.7h0.8v0.8h-0.8zM306.2 75.3h0.8v0.8h-0.8zM305.2 57.1h0.8v0.8h-0.8zM306.2 62.9h0.8v0.8h-0.8zM307.1 66.6h0.8v0.8h-0.8zM305.3 71.4h0.8v0.8h-0.8zM311.2 78.8h0.8v0.8h-0.8zM301.5 72.9h0.8v0.8h-0.8zM315.0 76.7h0.8v0.8h-0.8zM303.0 72.1h0.8v0.8h-0.8zM305.1 80.1h0.8v0.8h-0.8zM307.2 75.8h0.8v0.8h-0.8zM319.2 62.7h0.8v0.8h-0.8zM301.4 60.0h0.8v0.8h-0.8zM298.2 79.4h0.8v0.8h-0.8zM308.6 85.2h0.8v0.8h-0.8zM296.1 66.4h0.8v0.8h-0.8zM314.9 80.7h0.8v0.8h-0.8zM311.9 79.5h0.8v0.8h-0.8zM307.2 72.9h0.8v0.8h-0.8zM307.2 79.3h0.8v0.8h-0.8zM306.1 75.4h0.8v0.8h-0.8zM315.0 64.6h0.8v0.8h-0.8zM302.9 77.2h0.8v0.8h-0.8zM305.6 71.8h0.8v0.8h-0.8zM318.5 76.1h0.8v0.8h-0.8zM304.7 81.2h0.8v0.8h-0.8zM320.8 64.7h0.8v0.8h-0.8zM303.3 73.9h0.8v0.8h-0.8zM303.5 89.3h0.8v0.8h-0.8zM309.9 70.0h0.8v0.8h-0.8zM309.7 67.0h0.8v0.8h-0.8zM303.7 73.8h0.8v0.8h-0.8zM320.1 56.1h0.8v0.8h-0.8zM309.3 83.1h0.8v0.8h-0.8zM311.1 87.4h0.8v0.8h-0.8zM309.5 74.1h0.8v0.8h-0.8zM306.3 66.6h0.8v0.8h-0.8zM316.0 64.1h0.8v0.8h-0.8zM306.3 69.1h0.8v0.8h-0.8zM302.7 56.3h0.8v0.8h-0.8zM304.9 74.0h0.8v0.8h-0.8zM307.8 79.3h0.8v0.8h-0.8zM306.1 68.2h0.8v0.8h-0.8zM308.7 78.0h0.8v0.8h-0.8zM302.0 61.6h0.8v0.8h-0.8zM301.4 80.9h0.8v0.8h-0.8zM312.5 66.4h0.8v0.8h-0.8zM307.6 79.3h0.8v0.8h-0.8zM314.3 68.1h0.8v0.8h-0.8zM305.7 83.6h0.8v0.8h-0.8zM320.3 84.5h0.8v0.8h-0.8zM300.7 76.4h0.8v0.8h-0.8zM305.4 72.6h0.8v0.8h-0.8zM303.4 69.4h0.8v0.8h-0.8zM306.9 86.5h0.8v0.8h-0.8zM310.8 76.2h0.8v0.8h-0.8zM307.1 67.4h0.8v0.8h-0.8zM305.7 82.3h0.8v0.8h-0.8zM311.6 87.7h0.8v0.8h-0.8zM308.4 72.8h0.8v0.8h-0.8zM298.1 76.0h0.8v0.8h-0.8zM297.5 84.4h0.8v0.8h-0.8zM303.5 73.0h0.8v0.8h-0.8zM299.6 69.3h0.8v0.8h-0.8zM301.9 81.5h0.8v0.8h-0.8zM308.4 64.1h0.8v0.8h-0.8zM296.4 72.5h0.8v0.8h-0.8zM304.3 64.7h0.8v0.8h-0.8zM310.2 71.6h0.8v0.8h-0.8zM307.6 68.6h0.8v0.8h-0.8zM303.9 69.5h0.8v0.8h-0.8zM298.2 77.7h0.8v0.8h-0.8zM309.2 60.1h0.8v0.8h-0.8zM307.6 81.7h0.8v0.8h-0.8zM308.3 82.7h0.8v0.8h-0.8zM305.5 73.0h0.8v0.8h-0.8zM299.9 66.2h0.8v0.8h-0.8zM297.0 66.3h0.8v0.8h-0.8zM308.3 76.9h0.8v0.8h-0.8zM313.4 74.0h0.8v0.8h-0.8zM301.6 76.2h0.8v0.8h-0.8zM306.2 86.4h0.8v0.8h-0.8zM317.8 80.2h0.8v0.8h-0.8zM300.7 69.1h0.8v0.8h-0.8zM308.0 67.7h0.8v0.8h-0.8zM309.9 78.1h0.8v0.8h-0.8zM311.6 74.7h0.8v0.8h-0.8zM302.1 66.7h0.8v0.8h-0.8zM306.3 83.0h0.8v0.8h-0.8zM315.7 80.3h0.8v0.8h-0.8zM309.0 78.1h0.8v0.8h-0.8zM311.5 82.7h0.8v0.8h-0.8zM311.7 61.5h0.8v0.8h-0.8zM312.2 75.9h0.8v0.8h-0.8zM304.5 76.9h0.8v0.8h-0.8zM308.6 72.6h0.8v0.8h-0.8zM297.7 73.8h0.8v0.8h-0.8zM310.1 72.6h0.8v0.8h-0.8zM298.3 76.4h0.8v0.8h-0.8zM311.0 74.4h0.8v0.8h-0.8zM309.3 70.4h0.8v0.8h-0.8zM303.4 76.9h0.8v0.8h-0.8zM305.0 74.4h0.8v0.8h-0.8zM324.9 78.3h0.8v0.8h-0.8zM307.7 60.8h0.8v0.8h-0.8zM307.5 78.7h0.8v0.8h-0.8zM303.1 71.2h0.8v0.8h-0.8zM294.6 77.2h0.8v0.8h-0.8zM303.7 78.1h0.8v0.8h-0.8zM314.5 71.8h0.8v0.8h-0.8zM312.4 74.9h0.8v0.8h-0.8zM305.9 70.9h0.8v0.8h-0.8zM302.3 82.6h0.8v0.8h-0.8zM311.8 65.5h0.8v0.8h-0.8zM311.6 67.5h0.8v0.8h-0.8zM298.7 82.0h0.8v0.8h-0.8zM300.0 81.9h0.8v0.8h-0.8zM308.1 79.8h0.8v0.8h-0.8zM309.8 81.7h0.8v0.8h-0.8zM308.9 77.3h0.8v0.8h-0.8zM308.4 81.2h0.8v0.8h-0.8zM304.8 80.6h0.8v0.8h-0.8zM315.3 72.5h0.8v0.8h-0.8zM309.4 69.1h0.8v0.8h-0.8zM305.4 75.0h0.8v0.8h-0.8zM305.1 66.4h0.8v0.8h-0.8zM306.8 74.4h0.8v0.8h-0.8zM308.8 78.3h0.8v0.8h-0.8zM297.2 83.6h0.8v0.8h-0.8zM306.1 67.2h0.8v0.8h-0.8zM305.0 76.3h0.8v0.8h-0.8zM311.8 70.3h0.8v0.8h-0.8zM307.9 61.0h0.8v0.8h-0.8zM307.9 72.2h0.8v0.8h-0.8zM304.6 79.6h0.8v0.8h-0.8zM316.9 80.7h0.8v0.8h-0.8zM302.7 84.5h0.8v0.8h-0.8zM305.2 72.7h0.8v0.8h-0.8zM303.8 76.4h0.8v0.8h-0.8zM310.0 74.1h0.8v0.8h-0.8zM305.8 71.9h0.8v0.8h-0.8zM304.8 80.3h0.8v0.8h-0.8zM304.1 71.9h0.8v0.8h-0.8zM305.8 67.4h0.8v0.8h-0.8zM305.7 62.0h0.8v0.8h-0.8zM309.2 77.1h0.8v0.8h-0.8zM305.4 84.6h0.8v0.8h-0.8zM302.5 77.2h0.8v0.8h-0.8zM309.6 69.0h0.8v0.8h-0.8zM305.7 79.7h0.8v0.8h-0.8zM307.3 75.1h0.8v0.8h-0.8zM314.7 74.6h0.8v0.8h-0.8zM297.8 67.5h0.8v0.8h-0.8zM311.6 72.0h0.8v0.8h-0.8zM301.1 58.2h0.8v0.8h-0.8zM308.8 84.2h0.8v0.8h-0.8zM300.1 56.8h0.8v0.8h-0.8zM309.7 69.0h0.8v0.8h-0.8zM305.4 70.6h0.8v0.8h-0.8zM302.1 76.3h0.8v0.8h-0.8zM312.0 75.7h0.8v0.8h-0.8zM304.0 80.8h0.8v0.8h-0.8zM306.4 77.3h0.8v0.8h-0.8zM301.9 77.9h0.8v0.8h-0.8zM311.1 82.6h0.8v0.8h-0.8zM307.2 76.3h0.8v0.8h-0.8zM303.9 79.6h0.8v0.8h-0.8zM311.2 81.1h0.8v0.8h-0.8zM304.9 63.9h0.8v0.8h-0.8zM306.6 71.5h0.8v0.8h-0.8zM302.9 77.5h0.8v0.8h-0.8zM312.2 75.9h0.8v0.8h-0.8zM313.1 76.0h0.8v0.8h-0.8zM301.7 68.7h0.8v0.8h-0.8zM305.1 78.1h0.8v0.8h-0.8zM312.0 74.0h0.8v0.8h-0.8zM312.5 66.9h0.8v0.8h-0.8zM306.4 84.1h0.8v0.8h-0.8zM309.4 80.8h0.8v0.8h-0.8zM296.8 60.6h0.8v0.8h-0.8zM302.3 80.5h0.8v0.8h-0.8zM315.8 68.4h0.8v0.8h-0.8zM301.7 65.5h0.8v0.8h-0.8zM302.2 77.1h0.8v0.8h-0.8zM305.3 86.9h0.8v0.8h-0.8zM310.9 68.0h0.8v0.8h-0.8zM308.3 71.9h0.8v0.8h-0.8zM311.3 79.7h0.8v0.8h-0.8zM305.1 79.6h0.8v0.8h-0.8zM310.1 72.4h0.8v0.8h-0.8zM308.4 78.1h0.8v0.8h-0.8zM305.3 68.0h0.8v0.8h-0.8zM313.9 73.1h0.8v0.8h-0.8zM303.8 76.4h0.8v0.8h-0.8zM299.0 73.4h0.8v0.8h-0.8zM299.7 69.9h0.8v0.8h-0.8zM297.4 67.7h0.8v0.8h-0.8zM311.9 71.7h0.8v0.8h-0.8zM300.5 85.8h0.8v0.8h-0.8zM303.6 84.0h0.8v0.8h-0.8zM304.2 62.2h0.8v0.8h-0.8zM317.0 69.9h0.8v0.8h-0.8zM311.1 81.8h0.8v0.8h-0.8z" fill="#1a2ee8" opacity="0.5"/>
<g transform="translate(303 80) rotate(16)" filter="url(#b05)">
<ellipse cx="2" cy="-4" rx="7.5" ry="12.5" fill="#2448ff" opacity="0.75" filter="url(#b1)"/>
<ellipse cx="1" cy="-2" rx="5.5" ry="10.5" fill="#2448ff"/>
<ellipse cx="0" cy="0" rx="4.2" ry="8.3" fill="#22b8ec"/>
<ellipse cx="-0.3" cy="0.5" rx="3.1" ry="5.8" fill="#7fdc4c"/>
<ellipse cx="-0.3" cy="0.5" rx="2" ry="3.7" fill="#f2e41c"/>
<ellipse cx="-0.3" cy="0.5" rx="1.05" ry="1.9" fill="#e6300c"/>
</g></g></svg>
<line x1="307.50" y1="28.00" x2="307.50" y2="98.30" stroke="#b4b4b4" stroke-width="0.9"/>
<line x1="278.30" y1="74.30" x2="348.80" y2="74.30" stroke="#b4b4b4" stroke-width="0.9"/>
<rect x="278.3" y="28" width="70.5" height="70.3" fill="none" stroke="#bcbcbc" stroke-width="0.9"/>
<path d="M278.3 98.3v1.5M281.8 98.3v1.5M285.4 98.3v1.5M288.9 98.3v1.5M292.4 98.3v1.5M295.9 98.3v1.5M299.4 98.3v1.5M303.0 98.3v1.5M306.5 98.3v1.5M310.0 98.3v1.5M313.6 98.3v1.5M317.1 98.3v1.5M320.6 98.3v1.5M324.1 98.3v1.5M327.7 98.3v1.5M331.2 98.3v1.5M334.7 98.3v1.5M338.2 98.3v1.5M341.8 98.3v1.5M345.3 98.3v1.5M348.8 98.3v1.5M278.3 28.0h-1.5M278.3 31.5h-1.5M278.3 35.0h-1.5M278.3 38.5h-1.5M278.3 42.1h-1.5M278.3 45.6h-1.5M278.3 49.1h-1.5M278.3 52.6h-1.5M278.3 56.1h-1.5M278.3 59.6h-1.5M278.3 63.1h-1.5M278.3 66.7h-1.5M278.3 70.2h-1.5M278.3 73.7h-1.5M278.3 77.2h-1.5M278.3 80.7h-1.5M278.3 84.2h-1.5M278.3 87.8h-1.5M278.3 91.3h-1.5M278.3 94.8h-1.5M278.3 98.3h-1.5" stroke="#c8c8c8" stroke-width="0.6"/>
<text x="290.70" y="38.30" font-size="7.7" text-anchor="middle" stroke="#1a1a1a">5.46</text>
<text x="318.00" y="38.30" font-size="7.7" text-anchor="middle" stroke="#1a1a1a">11.4</text>
<text x="290.70" y="95.40" font-size="7.7" text-anchor="middle" stroke="#1a1a1a">69.9</text>
<text x="318.00" y="95.40" font-size="7.7" text-anchor="middle" stroke="#1a1a1a">13.2</text>
<svg x="367.5" y="28" width="70.8" height="70.3" overflow="hidden"><g transform="translate(-367.5 -28)">
<g filter="url(#b15)" opacity="0.45">
<ellipse cx="0" cy="0" rx="9" ry="3.5" fill="#3050ff" transform="translate(400 65.5) rotate(-55)"/>
</g>
<path d="M400.4 60.1h0.8v0.8h-0.8zM397.0 71.9h0.8v0.8h-0.8zM398.2 67.2h0.8v0.8h-0.8zM403.1 55.2h0.8v0.8h-0.8zM394.7 72.2h0.8v0.8h-0.8zM435.1 37.6h0.8v0.8h-0.8zM394.6 71.1h0.8v0.8h-0.8zM400.4 65.6h0.8v0.8h-0.8zM396.6 71.5h0.8v0.8h-0.8zM398.9 72.0h0.8v0.8h-0.8zM394.6 72.5h0.8v0.8h-0.8zM397.1 68.0h0.8v0.8h-0.8zM414.4 51.5h0.8v0.8h-0.8zM415.3 44.7h0.8v0.8h-0.8zM404.1 57.6h0.8v0.8h-0.8zM394.4 68.6h0.8v0.8h-0.8zM398.0 64.5h0.8v0.8h-0.8zM395.5 73.6h0.8v0.8h-0.8zM404.8 58.6h0.8v0.8h-0.8zM395.7 71.1h0.8v0.8h-0.8zM404.5 63.9h0.8v0.8h-0.8zM399.9 65.5h0.8v0.8h-0.8zM407.1 63.6h0.8v0.8h-0.8zM394.8 73.8h0.8v0.8h-0.8zM412.6 55.9h0.8v0.8h-0.8zM395.8 72.8h0.8v0.8h-0.8zM414.6 30.5h0.8v0.8h-0.8zM397.1 70.9h0.8v0.8h-0.8zM395.9 67.7h0.8v0.8h-0.8zM394.7 75.1h0.8v0.8h-0.8zM398.6 68.2h0.8v0.8h-0.8zM391.9 69.5h0.8v0.8h-0.8zM399.0 65.0h0.8v0.8h-0.8zM409.7 58.6h0.8v0.8h-0.8zM401.1 61.7h0.8v0.8h-0.8zM398.6 68.3h0.8v0.8h-0.8zM419.4 29.4h0.8v0.8h-0.8zM413.3 53.3h0.8v0.8h-0.8zM395.8 67.7h0.8v0.8h-0.8zM396.7 70.9h0.8v0.8h-0.8zM392.3 72.3h0.8v0.8h-0.8zM401.0 54.5h0.8v0.8h-0.8zM411.2 54.4h0.8v0.8h-0.8zM404.8 60.4h0.8v0.8h-0.8zM413.7 47.8h0.8v0.8h-0.8zM418.6 46.0h0.8v0.8h-0.8zM430.6 31.1h0.8v0.8h-0.8zM416.1 45.4h0.8v0.8h-0.8zM397.1 72.0h0.8v0.8h-0.8zM406.8 50.0h0.8v0.8h-0.8zM393.0 71.5h0.8v0.8h-0.8zM400.0 68.5h0.8v0.8h-0.8zM397.8 67.5h0.8v0.8h-0.8zM394.3 74.4h0.8v0.8h-0.8zM410.4 38.0h0.8v0.8h-0.8zM401.5 67.7h0.8v0.8h-0.8zM402.8 67.6h0.8v0.8h-0.8zM398.7 69.7h0.8v0.8h-0.8zM434.0 30.5h0.8v0.8h-0.8zM397.9 71.4h0.8v0.8h-0.8zM398.1 69.8h0.8v0.8h-0.8zM414.4 54.3h0.8v0.8h-0.8zM409.0 54.5h0.8v0.8h-0.8zM404.6 60.2h0.8v0.8h-0.8zM393.7 70.0h0.8v0.8h-0.8zM398.5 63.5h0.8v0.8h-0.8zM398.6 66.0h0.8v0.8h-0.8zM401.8 63.8h0.8v0.8h-0.8zM395.8 73.8h0.8v0.8h-0.8zM399.8 71.1h0.8v0.8h-0.8zM399.7 68.5h0.8v0.8h-0.8zM402.9 63.2h0.8v0.8h-0.8zM400.0 70.5h0.8v0.8h-0.8zM414.4 34.1h0.8v0.8h-0.8zM399.1 64.5h0.8v0.8h-0.8zM398.7 67.3h0.8v0.8h-0.8zM400.5 64.9h0.8v0.8h-0.8zM396.0 75.4h0.8v0.8h-0.8zM409.0 62.7h0.8v0.8h-0.8zM425.3 32.4h0.8v0.8h-0.8zM413.5 50.2h0.8v0.8h-0.8zM424.4 34.5h0.8v0.8h-0.8zM428.1 37.0h0.8v0.8h-0.8zM395.4 73.3h0.8v0.8h-0.8zM412.5 51.9h0.8v0.8h-0.8zM394.7 74.3h0.8v0.8h-0.8zM411.5 59.4h0.8v0.8h-0.8zM401.4 61.4h0.8v0.8h-0.8zM411.1 49.9h0.8v0.8h-0.8zM404.4 55.8h0.8v0.8h-0.8zM397.5 67.8h0.8v0.8h-0.8zM411.6 58.3h0.8v0.8h-0.8zM405.4 59.4h0.8v0.8h-0.8zM397.4 63.6h0.8v0.8h-0.8zM422.0 41.1h0.8v0.8h-0.8zM395.7 72.4h0.8v0.8h-0.8zM395.0 73.2h0.8v0.8h-0.8zM404.4 45.3h0.8v0.8h-0.8zM395.5 75.9h0.8v0.8h-0.8zM403.5 67.2h0.8v0.8h-0.8zM398.8 64.7h0.8v0.8h-0.8zM398.7 71.6h0.8v0.8h-0.8zM424.5 35.0h0.8v0.8h-0.8zM395.2 74.2h0.8v0.8h-0.8zM417.2 42.4h0.8v0.8h-0.8zM395.7 70.7h0.8v0.8h-0.8zM405.5 54.8h0.8v0.8h-0.8zM394.7 72.1h0.8v0.8h-0.8zM391.7 71.0h0.8v0.8h-0.8zM414.8 51.7h0.8v0.8h-0.8zM395.1 70.0h0.8v0.8h-0.8zM393.7 70.8h0.8v0.8h-0.8zM404.5 60.0h0.8v0.8h-0.8zM400.7 67.6h0.8v0.8h-0.8zM401.8 62.3h0.8v0.8h-0.8zM400.6 67.9h0.8v0.8h-0.8zM396.4 71.1h0.8v0.8h-0.8zM396.3 71.5h0.8v0.8h-0.8zM396.9 65.9h0.8v0.8h-0.8zM394.8 71.7h0.8v0.8h-0.8zM398.7 65.3h0.8v0.8h-0.8zM412.8 55.8h0.8v0.8h-0.8zM398.1 68.4h0.8v0.8h-0.8zM394.5 69.4h0.8v0.8h-0.8zM399.2 58.5h0.8v0.8h-0.8zM404.0 62.9h0.8v0.8h-0.8zM399.6 66.6h0.8v0.8h-0.8zM415.6 52.0h0.8v0.8h-0.8zM408.0 48.7h0.8v0.8h-0.8zM407.4 53.0h0.8v0.8h-0.8zM401.7 69.5h0.8v0.8h-0.8zM408.6 51.4h0.8v0.8h-0.8zM431.4 42.7h0.8v0.8h-0.8zM400.0 66.9h0.8v0.8h-0.8zM401.1 65.8h0.8v0.8h-0.8zM395.0 72.9h0.8v0.8h-0.8zM396.1 70.7h0.8v0.8h-0.8zM398.2 59.0h0.8v0.8h-0.8zM396.0 74.9h0.8v0.8h-0.8zM432.1 30.7h0.8v0.8h-0.8zM400.9 71.4h0.8v0.8h-0.8zM408.9 43.4h0.8v0.8h-0.8zM393.2 69.2h0.8v0.8h-0.8zM394.6 71.5h0.8v0.8h-0.8zM424.5 34.0h0.8v0.8h-0.8zM403.8 65.1h0.8v0.8h-0.8zM398.3 67.9h0.8v0.8h-0.8zM419.4 31.5h0.8v0.8h-0.8zM426.0 35.8h0.8v0.8h-0.8zM406.5 57.7h0.8v0.8h-0.8zM434.8 35.9h0.8v0.8h-0.8zM398.3 55.0h0.8v0.8h-0.8zM393.8 72.4h0.8v0.8h-0.8zM407.9 46.2h0.8v0.8h-0.8zM414.7 48.3h0.8v0.8h-0.8zM398.9 68.1h0.8v0.8h-0.8zM399.5 73.1h0.8v0.8h-0.8zM394.8 71.4h0.8v0.8h-0.8zM428.4 30.7h0.8v0.8h-0.8zM394.4 72.1h0.8v0.8h-0.8zM394.8 68.3h0.8v0.8h-0.8zM418.4 40.7h0.8v0.8h-0.8zM397.5 67.5h0.8v0.8h-0.8zM398.0 71.8h0.8v0.8h-0.8zM400.9 68.8h0.8v0.8h-0.8zM399.2 68.1h0.8v0.8h-0.8zM396.7 58.7h0.8v0.8h-0.8zM422.1 44.6h0.8v0.8h-0.8zM398.6 68.5h0.8v0.8h-0.8zM400.6 67.5h0.8v0.8h-0.8zM413.2 52.0h0.8v0.8h-0.8zM433.2 30.2h0.8v0.8h-0.8zM402.4 61.8h0.8v0.8h-0.8zM425.3 35.0h0.8v0.8h-0.8zM403.1 64.6h0.8v0.8h-0.8zM396.5 73.3h0.8v0.8h-0.8zM430.8 32.1h0.8v0.8h-0.8zM404.8 53.6h0.8v0.8h-0.8zM420.0 49.5h0.8v0.8h-0.8zM409.3 50.9h0.8v0.8h-0.8zM400.9 63.8h0.8v0.8h-0.8zM395.3 71.6h0.8v0.8h-0.8zM403.9 64.1h0.8v0.8h-0.8zM407.6 51.3h0.8v0.8h-0.8zM401.5 71.6h0.8v0.8h-0.8zM394.6 71.6h0.8v0.8h-0.8zM397.2 67.9h0.8v0.8h-0.8zM396.3 68.6h0.8v0.8h-0.8zM425.6 37.3h0.8v0.8h-0.8zM410.2 65.7h0.8v0.8h-0.8zM404.3 61.5h0.8v0.8h-0.8zM395.9 69.3h0.8v0.8h-0.8zM422.1 40.1h0.8v0.8h-0.8zM395.2 75.4h0.8v0.8h-0.8zM420.9 31.6h0.8v0.8h-0.8zM395.4 71.8h0.8v0.8h-0.8zM393.1 72.4h0.8v0.8h-0.8zM399.2 72.7h0.8v0.8h-0.8zM394.9 71.7h0.8v0.8h-0.8zM398.2 71.1h0.8v0.8h-0.8zM395.8 73.4h0.8v0.8h-0.8zM418.8 43.1h0.8v0.8h-0.8zM399.5 67.9h0.8v0.8h-0.8zM394.8 75.5h0.8v0.8h-0.8zM396.9 69.1h0.8v0.8h-0.8zM412.4 57.5h0.8v0.8h-0.8zM417.9 44.5h0.8v0.8h-0.8zM418.9 34.7h0.8v0.8h-0.8zM428.8 33.1h0.8v0.8h-0.8zM396.0 66.2h0.8v0.8h-0.8zM397.1 68.1h0.8v0.8h-0.8zM395.2 72.6h0.8v0.8h-0.8zM398.8 69.6h0.8v0.8h-0.8zM426.9 35.2h0.8v0.8h-0.8zM408.9 46.1h0.8v0.8h-0.8zM395.9 71.7h0.8v0.8h-0.8zM399.9 60.8h0.8v0.8h-0.8zM418.4 44.7h0.8v0.8h-0.8zM421.6 51.0h0.8v0.8h-0.8zM396.7 69.7h0.8v0.8h-0.8zM414.1 51.5h0.8v0.8h-0.8zM396.5 73.9h0.8v0.8h-0.8zM398.2 69.3h0.8v0.8h-0.8zM400.5 78.4h0.8v0.8h-0.8zM395.8 76.1h0.8v0.8h-0.8zM404.4 86.4h0.8v0.8h-0.8zM392.9 52.5h0.8v0.8h-0.8zM399.5 62.2h0.8v0.8h-0.8zM396.4 77.1h0.8v0.8h-0.8zM404.3 72.4h0.8v0.8h-0.8zM395.5 69.4h0.8v0.8h-0.8zM397.8 64.5h0.8v0.8h-0.8zM399.2 76.2h0.8v0.8h-0.8zM403.5 71.4h0.8v0.8h-0.8zM397.9 75.2h0.8v0.8h-0.8zM396.0 66.5h0.8v0.8h-0.8zM393.0 74.1h0.8v0.8h-0.8zM398.8 81.4h0.8v0.8h-0.8zM392.8 75.6h0.8v0.8h-0.8zM399.5 80.1h0.8v0.8h-0.8zM397.5 75.3h0.8v0.8h-0.8zM394.2 73.9h0.8v0.8h-0.8zM395.1 60.7h0.8v0.8h-0.8zM392.3 55.8h0.8v0.8h-0.8zM398.9 80.3h0.8v0.8h-0.8zM394.2 75.0h0.8v0.8h-0.8zM397.0 71.8h0.8v0.8h-0.8zM404.2 72.3h0.8v0.8h-0.8zM397.9 73.2h0.8v0.8h-0.8zM407.1 61.5h0.8v0.8h-0.8zM397.3 63.8h0.8v0.8h-0.8zM392.2 66.6h0.8v0.8h-0.8zM400.4 65.6h0.8v0.8h-0.8zM390.6 71.3h0.8v0.8h-0.8zM390.9 66.3h0.8v0.8h-0.8zM404.8 68.8h0.8v0.8h-0.8zM391.8 84.0h0.8v0.8h-0.8zM396.6 82.1h0.8v0.8h-0.8zM387.3 71.5h0.8v0.8h-0.8zM398.8 75.4h0.8v0.8h-0.8zM399.1 83.0h0.8v0.8h-0.8zM399.4 81.9h0.8v0.8h-0.8zM400.3 68.1h0.8v0.8h-0.8zM397.2 83.5h0.8v0.8h-0.8zM391.0 77.7h0.8v0.8h-0.8zM399.6 83.7h0.8v0.8h-0.8zM387.0 91.5h0.8v0.8h-0.8zM387.7 73.7h0.8v0.8h-0.8zM410.1 63.7h0.8v0.8h-0.8zM408.5 75.8h0.8v0.8h-0.8zM406.7 84.6h0.8v0.8h-0.8zM397.0 67.9h0.8v0.8h-0.8zM394.5 64.1h0.8v0.8h-0.8zM388.6 76.6h0.8v0.8h-0.8zM388.2 76.5h0.8v0.8h-0.8zM395.8 72.8h0.8v0.8h-0.8zM390.5 64.5h0.8v0.8h-0.8zM400.6 66.6h0.8v0.8h-0.8zM393.0 72.4h0.8v0.8h-0.8zM399.9 88.5h0.8v0.8h-0.8zM406.9 79.6h0.8v0.8h-0.8zM399.9 78.7h0.8v0.8h-0.8zM395.0 72.2h0.8v0.8h-0.8zM386.7 77.9h0.8v0.8h-0.8zM393.4 76.6h0.8v0.8h-0.8zM408.5 80.2h0.8v0.8h-0.8zM402.5 80.3h0.8v0.8h-0.8zM393.1 68.9h0.8v0.8h-0.8zM388.2 69.4h0.8v0.8h-0.8zM397.1 78.9h0.8v0.8h-0.8zM399.3 71.1h0.8v0.8h-0.8zM390.0 74.1h0.8v0.8h-0.8zM397.9 58.9h0.8v0.8h-0.8zM396.7 63.0h0.8v0.8h-0.8zM393.7 72.7h0.8v0.8h-0.8zM390.8 69.9h0.8v0.8h-0.8zM396.2 66.2h0.8v0.8h-0.8zM399.9 78.6h0.8v0.8h-0.8zM399.1 65.8h0.8v0.8h-0.8zM395.1 71.3h0.8v0.8h-0.8zM396.8 79.3h0.8v0.8h-0.8zM393.2 73.9h0.8v0.8h-0.8zM400.6 71.2h0.8v0.8h-0.8zM400.1 73.5h0.8v0.8h-0.8zM388.4 73.4h0.8v0.8h-0.8zM396.9 70.6h0.8v0.8h-0.8zM406.6 70.8h0.8v0.8h-0.8zM388.1 72.5h0.8v0.8h-0.8zM394.9 77.5h0.8v0.8h-0.8zM410.0 74.7h0.8v0.8h-0.8zM400.6 68.3h0.8v0.8h-0.8zM391.0 68.4h0.8v0.8h-0.8zM395.1 70.3h0.8v0.8h-0.8zM396.1 68.8h0.8v0.8h-0.8zM389.5 67.8h0.8v0.8h-0.8zM400.4 65.0h0.8v0.8h-0.8zM400.4 85.9h0.8v0.8h-0.8zM391.0 80.4h0.8v0.8h-0.8zM400.7 53.9h0.8v0.8h-0.8zM400.8 78.5h0.8v0.8h-0.8zM391.8 86.9h0.8v0.8h-0.8zM386.3 83.4h0.8v0.8h-0.8zM397.6 66.0h0.8v0.8h-0.8zM396.7 62.2h0.8v0.8h-0.8zM399.4 77.7h0.8v0.8h-0.8zM402.8 84.2h0.8v0.8h-0.8zM392.3 77.4h0.8v0.8h-0.8zM392.7 52.0h0.8v0.8h-0.8zM401.3 82.4h0.8v0.8h-0.8zM397.3 86.7h0.8v0.8h-0.8zM395.8 60.7h0.8v0.8h-0.8zM393.6 71.6h0.8v0.8h-0.8zM397.6 70.6h0.8v0.8h-0.8zM383.8 64.4h0.8v0.8h-0.8zM395.3 82.0h0.8v0.8h-0.8zM392.4 63.8h0.8v0.8h-0.8zM393.5 80.5h0.8v0.8h-0.8zM402.9 66.3h0.8v0.8h-0.8zM399.8 83.5h0.8v0.8h-0.8zM400.5 65.3h0.8v0.8h-0.8zM399.4 69.9h0.8v0.8h-0.8zM393.3 88.1h0.8v0.8h-0.8zM395.9 77.4h0.8v0.8h-0.8zM402.8 85.9h0.8v0.8h-0.8zM397.6 69.0h0.8v0.8h-0.8zM395.8 68.5h0.8v0.8h-0.8zM395.4 72.7h0.8v0.8h-0.8zM387.9 67.7h0.8v0.8h-0.8zM388.3 73.2h0.8v0.8h-0.8zM400.5 79.1h0.8v0.8h-0.8zM397.1 66.4h0.8v0.8h-0.8zM395.7 63.4h0.8v0.8h-0.8zM399.2 62.0h0.8v0.8h-0.8zM392.6 86.6h0.8v0.8h-0.8zM398.4 66.3h0.8v0.8h-0.8zM394.9 65.9h0.8v0.8h-0.8zM391.7 70.4h0.8v0.8h-0.8zM391.4 75.0h0.8v0.8h-0.8zM402.0 67.1h0.8v0.8h-0.8zM390.9 67.5h0.8v0.8h-0.8zM392.7 74.5h0.8v0.8h-0.8zM392.4 67.0h0.8v0.8h-0.8zM392.3 81.0h0.8v0.8h-0.8zM401.4 81.4h0.8v0.8h-0.8zM397.1 66.5h0.8v0.8h-0.8zM403.6 90.2h0.8v0.8h-0.8zM392.5 69.0h0.8v0.8h-0.8zM402.1 78.8h0.8v0.8h-0.8zM398.3 89.2h0.8v0.8h-0.8zM395.1 67.6h0.8v0.8h-0.8zM394.0 75.3h0.8v0.8h-0.8zM397.1 83.0h0.8v0.8h-0.8zM400.3 68.2h0.8v0.8h-0.8zM400.1 72.2h0.8v0.8h-0.8zM404.4 82.2h0.8v0.8h-0.8zM392.8 77.7h0.8v0.8h-0.8zM388.9 77.0h0.8v0.8h-0.8zM396.5 77.0h0.8v0.8h-0.8zM389.4 67.2h0.8v0.8h-0.8zM393.0 71.9h0.8v0.8h-0.8zM399.7 67.4h0.8v0.8h-0.8zM385.0 69.4h0.8v0.8h-0.8zM400.3 80.0h0.8v0.8h-0.8zM389.0 78.4h0.8v0.8h-0.8zM396.6 79.0h0.8v0.8h-0.8zM397.0 83.0h0.8v0.8h-0.8zM392.1 89.8h0.8v0.8h-0.8zM402.1 64.7h0.8v0.8h-0.8zM387.5 81.3h0.8v0.8h-0.8zM387.4 67.6h0.8v0.8h-0.8zM398.7 72.4h0.8v0.8h-0.8zM396.9 57.3h0.8v0.8h-0.8zM391.8 77.4h0.8v0.8h-0.8zM407.5 76.6h0.8v0.8h-0.8zM396.2 74.4h0.8v0.8h-0.8zM401.6 78.3h0.8v0.8h-0.8zM391.1 58.6h0.8v0.8h-0.8zM394.7 70.5h0.8v0.8h-0.8zM406.1 67.0h0.8v0.8h-0.8zM400.1 58.4h0.8v0.8h-0.8zM400.3 63.7h0.8v0.8h-0.8zM396.1 71.9h0.8v0.8h-0.8zM396.5 73.5h0.8v0.8h-0.8zM389.6 77.9h0.8v0.8h-0.8zM391.0 73.1h0.8v0.8h-0.8zM391.2 73.2h0.8v0.8h-0.8zM395.3 71.9h0.8v0.8h-0.8zM391.5 82.5h0.8v0.8h-0.8zM394.9 73.9h0.8v0.8h-0.8zM383.8 77.9h0.8v0.8h-0.8zM387.2 71.8h0.8v0.8h-0.8zM384.6 87.6h0.8v0.8h-0.8zM386.1 71.3h0.8v0.8h-0.8zM388.9 63.7h0.8v0.8h-0.8zM386.1 84.3h0.8v0.8h-0.8zM407.7 72.3h0.8v0.8h-0.8zM400.4 69.6h0.8v0.8h-0.8zM389.9 86.9h0.8v0.8h-0.8zM399.4 64.6h0.8v0.8h-0.8zM395.2 73.1h0.8v0.8h-0.8zM394.2 72.6h0.8v0.8h-0.8zM392.1 72.6h0.8v0.8h-0.8zM393.5 70.8h0.8v0.8h-0.8zM391.6 84.9h0.8v0.8h-0.8zM393.4 71.6h0.8v0.8h-0.8zM397.1 73.3h0.8v0.8h-0.8zM388.6 79.7h0.8v0.8h-0.8zM389.0 68.2h0.8v0.8h-0.8zM398.0 71.6h0.8v0.8h-0.8zM391.8 73.2h0.8v0.8h-0.8zM391.0 68.6h0.8v0.8h-0.8z" fill="#1a2ee8" opacity="0.5"/>
<g transform="translate(392 80.5) rotate(16)" filter="url(#b05)">
<ellipse cx="2" cy="-4" rx="7.5" ry="12.5" fill="#2448ff" opacity="0.75" filter="url(#b1)"/>
<ellipse cx="1" cy="-2" rx="5.5" ry="10.5" fill="#2448ff"/>
<ellipse cx="0" cy="0" rx="4.2" ry="8.3" fill="#22b8ec"/>
<ellipse cx="-0.3" cy="0.5" rx="3.1" ry="5.8" fill="#7fdc4c"/>
<ellipse cx="-0.3" cy="0.5" rx="2" ry="3.7" fill="#f2e41c"/>
<ellipse cx="-0.3" cy="0.5" rx="1.05" ry="1.9" fill="#e6300c"/>
</g></g></svg>
<line x1="397.00" y1="28.00" x2="397.00" y2="98.30" stroke="#b4b4b4" stroke-width="0.9"/>
<line x1="367.50" y1="73.80" x2="438.30" y2="73.80" stroke="#b4b4b4" stroke-width="0.9"/>
<rect x="367.5" y="28" width="70.8" height="70.3" fill="none" stroke="#bcbcbc" stroke-width="0.9"/>
<path d="M367.5 98.3v1.5M371.0 98.3v1.5M374.6 98.3v1.5M378.1 98.3v1.5M381.7 98.3v1.5M385.2 98.3v1.5M388.7 98.3v1.5M392.3 98.3v1.5M395.8 98.3v1.5M399.4 98.3v1.5M402.9 98.3v1.5M406.4 98.3v1.5M410.0 98.3v1.5M413.5 98.3v1.5M417.1 98.3v1.5M420.6 98.3v1.5M424.1 98.3v1.5M427.7 98.3v1.5M431.2 98.3v1.5M434.8 98.3v1.5M438.3 98.3v1.5M367.5 28.0h-1.5M367.5 31.5h-1.5M367.5 35.0h-1.5M367.5 38.5h-1.5M367.5 42.1h-1.5M367.5 45.6h-1.5M367.5 49.1h-1.5M367.5 52.6h-1.5M367.5 56.1h-1.5M367.5 59.6h-1.5M367.5 63.1h-1.5M367.5 66.7h-1.5M367.5 70.2h-1.5M367.5 73.7h-1.5M367.5 77.2h-1.5M367.5 80.7h-1.5M367.5 84.2h-1.5M367.5 87.8h-1.5M367.5 91.3h-1.5M367.5 94.8h-1.5M367.5 98.3h-1.5" stroke="#c8c8c8" stroke-width="0.6"/>
<text x="377.70" y="38.70" font-size="7.7" text-anchor="middle" stroke="#1a1a1a">3.74</text>
<text x="407.90" y="38.70" font-size="7.7" text-anchor="middle" stroke="#1a1a1a">5.73</text>
<text x="377.70" y="96.40" font-size="7.7" text-anchor="middle" stroke="#1a1a1a">80.2</text>
<text x="407.90" y="96.40" font-size="7.7" text-anchor="middle" stroke="#1a1a1a">10.3</text>
<svg x="278.3" y="125.8" width="70.5" height="70" overflow="hidden"><g transform="translate(-278.3 -125.8)">
<g filter="url(#b15)" opacity="0.80">
<ellipse cx="0" cy="0" rx="18" ry="5" fill="#2038ff" transform="translate(310.5 153.6) rotate(-30)"/>
<ellipse cx="303.5" cy="178.1" rx="11" ry="4.5" fill="#2038ff"/>
<ellipse cx="297.5" cy="163.6" rx="9" ry="6" fill="#2038ff" opacity="0.7"/>
</g>
<path d="M316.2 141.3h0.8v0.8h-0.8zM302.2 162.1h0.8v0.8h-0.8zM304.2 172.8h0.8v0.8h-0.8zM297.2 161.4h0.8v0.8h-0.8zM297.4 179.8h0.8v0.8h-0.8zM302.8 152.1h0.8v0.8h-0.8zM296.9 146.1h0.8v0.8h-0.8zM296.8 181.2h0.8v0.8h-0.8zM318.3 145.1h0.8v0.8h-0.8zM308.0 156.7h0.8v0.8h-0.8zM304.5 143.4h0.8v0.8h-0.8zM308.2 176.5h0.8v0.8h-0.8zM305.8 179.9h0.8v0.8h-0.8zM298.2 179.1h0.8v0.8h-0.8zM294.2 162.5h0.8v0.8h-0.8zM298.4 161.9h0.8v0.8h-0.8zM319.3 181.2h0.8v0.8h-0.8zM301.8 166.8h0.8v0.8h-0.8zM303.5 155.9h0.8v0.8h-0.8zM313.0 149.1h0.8v0.8h-0.8zM302.1 180.6h0.8v0.8h-0.8zM326.2 155.8h0.8v0.8h-0.8zM314.1 182.1h0.8v0.8h-0.8zM307.3 181.8h0.8v0.8h-0.8zM306.0 163.4h0.8v0.8h-0.8zM305.1 162.4h0.8v0.8h-0.8zM310.0 178.9h0.8v0.8h-0.8zM307.5 163.5h0.8v0.8h-0.8zM303.0 163.4h0.8v0.8h-0.8zM305.9 159.5h0.8v0.8h-0.8zM295.6 157.5h0.8v0.8h-0.8zM305.2 175.9h0.8v0.8h-0.8zM316.4 149.6h0.8v0.8h-0.8zM320.4 146.0h0.8v0.8h-0.8zM303.1 180.6h0.8v0.8h-0.8zM309.0 157.8h0.8v0.8h-0.8zM321.6 146.4h0.8v0.8h-0.8zM300.8 174.1h0.8v0.8h-0.8zM302.0 181.2h0.8v0.8h-0.8zM331.0 148.8h0.8v0.8h-0.8zM302.9 158.7h0.8v0.8h-0.8zM299.3 159.5h0.8v0.8h-0.8zM307.0 168.3h0.8v0.8h-0.8zM320.4 153.1h0.8v0.8h-0.8zM300.2 178.2h0.8v0.8h-0.8zM302.9 173.0h0.8v0.8h-0.8zM306.1 154.3h0.8v0.8h-0.8zM313.9 176.7h0.8v0.8h-0.8zM287.8 169.4h0.8v0.8h-0.8zM318.3 177.2h0.8v0.8h-0.8zM314.5 147.7h0.8v0.8h-0.8zM329.5 143.2h0.8v0.8h-0.8zM292.5 163.0h0.8v0.8h-0.8zM322.1 178.1h0.8v0.8h-0.8zM319.2 144.5h0.8v0.8h-0.8zM324.3 148.7h0.8v0.8h-0.8zM291.3 166.7h0.8v0.8h-0.8zM296.8 165.8h0.8v0.8h-0.8zM297.8 167.3h0.8v0.8h-0.8zM327.7 141.0h0.8v0.8h-0.8zM298.2 156.4h0.8v0.8h-0.8zM313.5 151.2h0.8v0.8h-0.8zM304.3 156.6h0.8v0.8h-0.8zM298.2 176.4h0.8v0.8h-0.8zM312.5 158.7h0.8v0.8h-0.8zM313.6 150.2h0.8v0.8h-0.8zM292.5 158.8h0.8v0.8h-0.8zM313.3 167.8h0.8v0.8h-0.8zM325.7 145.7h0.8v0.8h-0.8zM320.6 181.6h0.8v0.8h-0.8zM300.4 178.0h0.8v0.8h-0.8zM320.6 149.0h0.8v0.8h-0.8zM312.6 152.0h0.8v0.8h-0.8zM311.8 176.1h0.8v0.8h-0.8zM303.7 151.8h0.8v0.8h-0.8zM312.1 174.6h0.8v0.8h-0.8zM296.1 156.9h0.8v0.8h-0.8zM313.9 146.5h0.8v0.8h-0.8zM303.1 160.1h0.8v0.8h-0.8zM287.1 165.6h0.8v0.8h-0.8zM320.7 145.7h0.8v0.8h-0.8zM322.9 145.6h0.8v0.8h-0.8zM291.0 164.2h0.8v0.8h-0.8zM302.5 142.7h0.8v0.8h-0.8zM302.6 152.7h0.8v0.8h-0.8zM302.0 163.0h0.8v0.8h-0.8zM332.4 150.4h0.8v0.8h-0.8zM301.1 160.2h0.8v0.8h-0.8zM299.8 164.0h0.8v0.8h-0.8zM303.3 162.2h0.8v0.8h-0.8zM294.1 156.5h0.8v0.8h-0.8zM311.9 173.0h0.8v0.8h-0.8zM299.0 167.8h0.8v0.8h-0.8zM303.8 177.4h0.8v0.8h-0.8zM316.5 149.8h0.8v0.8h-0.8zM298.9 156.1h0.8v0.8h-0.8zM295.1 178.1h0.8v0.8h-0.8zM321.3 156.0h0.8v0.8h-0.8zM297.1 180.1h0.8v0.8h-0.8zM306.7 160.6h0.8v0.8h-0.8zM316.4 146.1h0.8v0.8h-0.8zM299.5 180.6h0.8v0.8h-0.8zM328.3 144.4h0.8v0.8h-0.8zM301.1 157.7h0.8v0.8h-0.8zM301.3 162.2h0.8v0.8h-0.8zM298.1 161.4h0.8v0.8h-0.8zM321.5 144.9h0.8v0.8h-0.8zM287.1 161.2h0.8v0.8h-0.8zM300.8 155.3h0.8v0.8h-0.8zM287.4 166.1h0.8v0.8h-0.8zM291.8 160.3h0.8v0.8h-0.8zM321.1 149.4h0.8v0.8h-0.8zM308.3 156.1h0.8v0.8h-0.8zM308.8 174.9h0.8v0.8h-0.8zM313.8 173.2h0.8v0.8h-0.8zM288.0 162.0h0.8v0.8h-0.8zM297.4 161.5h0.8v0.8h-0.8zM304.7 167.6h0.8v0.8h-0.8zM282.5 169.6h0.8v0.8h-0.8zM318.2 148.5h0.8v0.8h-0.8zM309.5 149.4h0.8v0.8h-0.8zM307.7 179.2h0.8v0.8h-0.8zM317.8 144.9h0.8v0.8h-0.8zM311.1 180.5h0.8v0.8h-0.8zM327.0 139.1h0.8v0.8h-0.8zM288.0 164.9h0.8v0.8h-0.8zM321.7 143.4h0.8v0.8h-0.8zM314.8 151.9h0.8v0.8h-0.8zM294.1 162.3h0.8v0.8h-0.8zM323.1 145.0h0.8v0.8h-0.8zM299.9 170.9h0.8v0.8h-0.8zM305.3 176.7h0.8v0.8h-0.8zM295.9 161.2h0.8v0.8h-0.8zM298.8 177.7h0.8v0.8h-0.8zM315.1 141.8h0.8v0.8h-0.8zM325.1 181.4h0.8v0.8h-0.8zM300.4 179.8h0.8v0.8h-0.8zM315.0 174.3h0.8v0.8h-0.8zM318.2 147.4h0.8v0.8h-0.8zM299.9 181.2h0.8v0.8h-0.8zM304.3 171.0h0.8v0.8h-0.8zM319.4 146.0h0.8v0.8h-0.8zM306.0 180.5h0.8v0.8h-0.8zM316.3 178.0h0.8v0.8h-0.8zM290.2 161.6h0.8v0.8h-0.8zM308.1 151.6h0.8v0.8h-0.8zM325.4 144.2h0.8v0.8h-0.8zM303.4 170.4h0.8v0.8h-0.8zM312.6 177.0h0.8v0.8h-0.8zM315.8 179.1h0.8v0.8h-0.8zM323.2 146.7h0.8v0.8h-0.8zM288.1 179.4h0.8v0.8h-0.8zM307.7 152.9h0.8v0.8h-0.8zM323.1 181.3h0.8v0.8h-0.8zM313.7 148.0h0.8v0.8h-0.8zM292.9 168.2h0.8v0.8h-0.8zM313.8 152.0h0.8v0.8h-0.8zM325.3 142.3h0.8v0.8h-0.8zM292.5 162.0h0.8v0.8h-0.8zM316.0 149.7h0.8v0.8h-0.8zM302.3 166.2h0.8v0.8h-0.8zM323.1 139.1h0.8v0.8h-0.8zM333.9 150.4h0.8v0.8h-0.8zM297.7 154.9h0.8v0.8h-0.8zM302.3 175.4h0.8v0.8h-0.8zM296.5 163.1h0.8v0.8h-0.8zM310.9 152.0h0.8v0.8h-0.8zM296.7 164.7h0.8v0.8h-0.8zM304.6 183.7h0.8v0.8h-0.8zM309.4 170.8h0.8v0.8h-0.8zM298.4 159.9h0.8v0.8h-0.8zM317.3 153.3h0.8v0.8h-0.8zM321.4 182.5h0.8v0.8h-0.8zM298.7 162.5h0.8v0.8h-0.8zM315.9 150.8h0.8v0.8h-0.8zM296.5 171.1h0.8v0.8h-0.8zM305.7 157.3h0.8v0.8h-0.8zM297.1 167.0h0.8v0.8h-0.8zM298.3 170.0h0.8v0.8h-0.8zM321.1 141.1h0.8v0.8h-0.8zM311.1 153.6h0.8v0.8h-0.8zM301.8 169.1h0.8v0.8h-0.8zM310.6 159.1h0.8v0.8h-0.8zM307.6 173.3h0.8v0.8h-0.8zM322.2 147.2h0.8v0.8h-0.8zM296.3 175.7h0.8v0.8h-0.8zM307.5 156.6h0.8v0.8h-0.8zM328.3 143.8h0.8v0.8h-0.8zM306.8 154.8h0.8v0.8h-0.8zM305.8 158.9h0.8v0.8h-0.8zM320.0 148.0h0.8v0.8h-0.8zM316.5 151.2h0.8v0.8h-0.8zM304.5 180.6h0.8v0.8h-0.8zM303.0 161.8h0.8v0.8h-0.8zM327.7 145.6h0.8v0.8h-0.8zM300.2 150.3h0.8v0.8h-0.8zM292.6 174.3h0.8v0.8h-0.8zM290.4 166.2h0.8v0.8h-0.8zM320.1 147.1h0.8v0.8h-0.8zM291.9 163.0h0.8v0.8h-0.8zM286.7 167.0h0.8v0.8h-0.8zM325.4 139.8h0.8v0.8h-0.8zM324.9 141.7h0.8v0.8h-0.8zM289.3 164.2h0.8v0.8h-0.8zM306.8 166.3h0.8v0.8h-0.8zM298.7 181.1h0.8v0.8h-0.8zM305.8 155.0h0.8v0.8h-0.8zM311.9 153.6h0.8v0.8h-0.8zM295.4 178.5h0.8v0.8h-0.8zM310.5 162.3h0.8v0.8h-0.8zM327.6 143.0h0.8v0.8h-0.8zM312.7 154.6h0.8v0.8h-0.8zM300.1 175.4h0.8v0.8h-0.8zM310.3 154.0h0.8v0.8h-0.8zM331.1 140.7h0.8v0.8h-0.8zM303.0 152.9h0.8v0.8h-0.8zM322.0 150.6h0.8v0.8h-0.8zM305.4 160.8h0.8v0.8h-0.8zM304.8 159.2h0.8v0.8h-0.8zM294.1 159.8h0.8v0.8h-0.8zM299.3 177.3h0.8v0.8h-0.8zM309.4 179.7h0.8v0.8h-0.8zM303.5 179.0h0.8v0.8h-0.8zM329.7 151.7h0.8v0.8h-0.8zM320.3 178.5h0.8v0.8h-0.8zM314.6 144.4h0.8v0.8h-0.8zM306.9 172.3h0.8v0.8h-0.8zM321.2 185.0h0.8v0.8h-0.8zM313.1 155.1h0.8v0.8h-0.8zM304.6 159.6h0.8v0.8h-0.8zM302.2 164.1h0.8v0.8h-0.8zM300.1 161.9h0.8v0.8h-0.8zM295.9 186.9h0.8v0.8h-0.8zM291.3 161.0h0.8v0.8h-0.8zM319.6 177.9h0.8v0.8h-0.8zM314.6 146.3h0.8v0.8h-0.8zM307.7 149.1h0.8v0.8h-0.8zM312.6 179.7h0.8v0.8h-0.8zM320.8 147.1h0.8v0.8h-0.8zM316.4 179.8h0.8v0.8h-0.8zM323.2 140.3h0.8v0.8h-0.8zM299.6 164.3h0.8v0.8h-0.8zM309.6 151.0h0.8v0.8h-0.8zM316.6 154.7h0.8v0.8h-0.8zM303.5 149.2h0.8v0.8h-0.8zM310.1 174.4h0.8v0.8h-0.8zM309.3 163.7h0.8v0.8h-0.8zM289.7 154.7h0.8v0.8h-0.8zM294.7 160.3h0.8v0.8h-0.8zM317.2 179.9h0.8v0.8h-0.8zM316.6 176.5h0.8v0.8h-0.8zM299.6 164.4h0.8v0.8h-0.8zM305.9 171.3h0.8v0.8h-0.8zM330.8 142.3h0.8v0.8h-0.8zM289.0 168.0h0.8v0.8h-0.8zM307.0 159.6h0.8v0.8h-0.8zM321.5 152.8h0.8v0.8h-0.8zM308.3 161.0h0.8v0.8h-0.8zM300.4 159.8h0.8v0.8h-0.8zM298.6 170.5h0.8v0.8h-0.8zM313.5 181.3h0.8v0.8h-0.8zM305.8 181.1h0.8v0.8h-0.8zM301.6 165.9h0.8v0.8h-0.8zM323.9 154.2h0.8v0.8h-0.8zM316.2 143.7h0.8v0.8h-0.8zM300.1 165.8h0.8v0.8h-0.8zM294.6 162.8h0.8v0.8h-0.8zM319.5 168.7h0.8v0.8h-0.8zM305.2 177.8h0.8v0.8h-0.8zM302.8 177.4h0.8v0.8h-0.8zM309.9 164.9h0.8v0.8h-0.8zM330.6 141.4h0.8v0.8h-0.8zM300.3 167.8h0.8v0.8h-0.8zM297.7 157.3h0.8v0.8h-0.8zM315.5 149.4h0.8v0.8h-0.8zM303.9 161.9h0.8v0.8h-0.8zM286.1 169.2h0.8v0.8h-0.8zM292.6 159.8h0.8v0.8h-0.8zM307.7 152.4h0.8v0.8h-0.8zM297.5 181.5h0.8v0.8h-0.8zM320.1 151.2h0.8v0.8h-0.8zM296.5 170.1h0.8v0.8h-0.8zM298.4 173.9h0.8v0.8h-0.8zM303.0 144.8h0.8v0.8h-0.8zM285.7 179.9h0.8v0.8h-0.8zM298.1 160.3h0.8v0.8h-0.8zM308.8 182.9h0.8v0.8h-0.8zM309.8 162.7h0.8v0.8h-0.8zM306.0 152.8h0.8v0.8h-0.8zM299.9 167.7h0.8v0.8h-0.8zM309.4 152.3h0.8v0.8h-0.8zM327.0 145.9h0.8v0.8h-0.8zM325.5 143.0h0.8v0.8h-0.8zM333.8 140.2h0.8v0.8h-0.8zM296.5 178.0h0.8v0.8h-0.8zM297.5 177.0h0.8v0.8h-0.8zM320.1 140.3h0.8v0.8h-0.8zM298.4 171.6h0.8v0.8h-0.8zM298.2 161.2h0.8v0.8h-0.8zM294.4 175.5h0.8v0.8h-0.8zM301.8 163.2h0.8v0.8h-0.8zM295.0 152.5h0.8v0.8h-0.8zM315.8 175.0h0.8v0.8h-0.8zM318.1 139.9h0.8v0.8h-0.8zM290.3 167.2h0.8v0.8h-0.8zM313.7 154.2h0.8v0.8h-0.8zM312.7 175.1h0.8v0.8h-0.8zM313.0 175.8h0.8v0.8h-0.8zM298.4 181.2h0.8v0.8h-0.8zM328.8 145.7h0.8v0.8h-0.8zM297.9 159.4h0.8v0.8h-0.8zM298.6 181.0h0.8v0.8h-0.8zM308.8 182.7h0.8v0.8h-0.8zM295.4 164.2h0.8v0.8h-0.8zM317.5 181.6h0.8v0.8h-0.8zM297.7 180.5h0.8v0.8h-0.8zM308.4 179.6h0.8v0.8h-0.8zM296.0 155.0h0.8v0.8h-0.8zM299.5 176.1h0.8v0.8h-0.8zM299.8 165.7h0.8v0.8h-0.8zM309.1 181.1h0.8v0.8h-0.8zM302.9 160.1h0.8v0.8h-0.8zM330.9 145.4h0.8v0.8h-0.8zM323.1 144.1h0.8v0.8h-0.8zM327.5 147.0h0.8v0.8h-0.8zM306.3 180.9h0.8v0.8h-0.8zM311.2 146.0h0.8v0.8h-0.8zM305.4 152.9h0.8v0.8h-0.8zM295.6 167.5h0.8v0.8h-0.8zM319.1 138.0h0.8v0.8h-0.8zM295.4 161.0h0.8v0.8h-0.8zM291.1 167.5h0.8v0.8h-0.8zM301.6 171.7h0.8v0.8h-0.8zM296.5 157.9h0.8v0.8h-0.8zM316.4 176.1h0.8v0.8h-0.8zM293.2 155.8h0.8v0.8h-0.8zM319.7 177.5h0.8v0.8h-0.8zM294.1 160.3h0.8v0.8h-0.8zM309.3 160.2h0.8v0.8h-0.8zM325.6 145.6h0.8v0.8h-0.8zM309.0 148.1h0.8v0.8h-0.8zM303.2 174.3h0.8v0.8h-0.8zM308.6 153.0h0.8v0.8h-0.8zM323.1 174.5h0.8v0.8h-0.8zM295.8 175.1h0.8v0.8h-0.8zM303.5 157.6h0.8v0.8h-0.8zM325.7 155.2h0.8v0.8h-0.8zM317.3 144.4h0.8v0.8h-0.8zM309.0 153.8h0.8v0.8h-0.8zM318.1 178.6h0.8v0.8h-0.8zM316.4 177.0h0.8v0.8h-0.8zM303.4 164.0h0.8v0.8h-0.8zM316.3 157.9h0.8v0.8h-0.8zM299.0 158.9h0.8v0.8h-0.8zM327.6 138.7h0.8v0.8h-0.8zM320.7 151.0h0.8v0.8h-0.8zM316.7 151.2h0.8v0.8h-0.8zM293.4 164.8h0.8v0.8h-0.8zM323.6 142.5h0.8v0.8h-0.8zM301.3 166.2h0.8v0.8h-0.8zM322.9 151.5h0.8v0.8h-0.8zM287.9 172.5h0.8v0.8h-0.8zM307.1 157.8h0.8v0.8h-0.8zM324.5 143.6h0.8v0.8h-0.8zM291.9 145.9h0.8v0.8h-0.8zM293.4 161.5h0.8v0.8h-0.8zM327.9 143.1h0.8v0.8h-0.8zM300.1 165.6h0.8v0.8h-0.8zM299.3 177.9h0.8v0.8h-0.8zM303.3 151.0h0.8v0.8h-0.8zM300.1 177.3h0.8v0.8h-0.8zM294.0 159.9h0.8v0.8h-0.8zM329.2 148.0h0.8v0.8h-0.8zM298.2 175.4h0.8v0.8h-0.8zM297.6 158.4h0.8v0.8h-0.8zM311.6 158.4h0.8v0.8h-0.8zM305.9 163.4h0.8v0.8h-0.8zM311.0 173.7h0.8v0.8h-0.8zM308.8 148.3h0.8v0.8h-0.8zM315.5 156.1h0.8v0.8h-0.8zM306.8 175.6h0.8v0.8h-0.8zM294.3 175.7h0.8v0.8h-0.8zM289.3 172.3h0.8v0.8h-0.8zM325.7 140.2h0.8v0.8h-0.8zM296.2 175.4h0.8v0.8h-0.8zM318.9 143.2h0.8v0.8h-0.8zM305.6 172.5h0.8v0.8h-0.8zM302.2 156.6h0.8v0.8h-0.8zM293.0 165.9h0.8v0.8h-0.8zM317.0 183.1h0.8v0.8h-0.8zM312.4 155.3h0.8v0.8h-0.8zM299.8 150.8h0.8v0.8h-0.8zM326.2 151.0h0.8v0.8h-0.8zM299.6 174.3h0.8v0.8h-0.8zM305.1 176.9h0.8v0.8h-0.8zM306.1 158.8h0.8v0.8h-0.8zM283.5 178.7h0.8v0.8h-0.8zM304.0 163.5h0.8v0.8h-0.8zM299.9 155.5h0.8v0.8h-0.8zM314.7 157.8h0.8v0.8h-0.8zM311.1 169.1h0.8v0.8h-0.8zM335.7 148.9h0.8v0.8h-0.8zM307.7 149.6h0.8v0.8h-0.8zM324.4 140.5h0.8v0.8h-0.8zM311.7 167.2h0.8v0.8h-0.8zM324.4 145.1h0.8v0.8h-0.8zM323.4 150.4h0.8v0.8h-0.8zM322.1 177.1h0.8v0.8h-0.8zM308.9 153.0h0.8v0.8h-0.8zM300.1 176.3h0.8v0.8h-0.8zM327.4 141.1h0.8v0.8h-0.8zM297.8 163.7h0.8v0.8h-0.8zM325.7 143.7h0.8v0.8h-0.8zM294.4 162.2h0.8v0.8h-0.8zM295.0 170.6h0.8v0.8h-0.8zM320.9 149.8h0.8v0.8h-0.8zM310.4 157.8h0.8v0.8h-0.8zM325.4 148.4h0.8v0.8h-0.8zM307.4 155.0h0.8v0.8h-0.8zM302.3 181.2h0.8v0.8h-0.8zM306.3 150.7h0.8v0.8h-0.8zM290.2 178.7h0.8v0.8h-0.8zM309.1 179.0h0.8v0.8h-0.8zM316.7 177.1h0.8v0.8h-0.8zM320.1 176.2h0.8v0.8h-0.8zM302.5 173.7h0.8v0.8h-0.8zM308.5 157.9h0.8v0.8h-0.8zM289.7 171.3h0.8v0.8h-0.8zM296.6 157.8h0.8v0.8h-0.8zM321.4 179.3h0.8v0.8h-0.8zM291.9 152.3h0.8v0.8h-0.8zM314.2 146.4h0.8v0.8h-0.8zM320.7 181.8h0.8v0.8h-0.8zM303.2 175.0h0.8v0.8h-0.8zM315.2 149.6h0.8v0.8h-0.8zM309.6 151.1h0.8v0.8h-0.8zM294.8 174.3h0.8v0.8h-0.8zM299.9 175.6h0.8v0.8h-0.8zM328.6 137.4h0.8v0.8h-0.8zM319.7 152.7h0.8v0.8h-0.8zM290.2 161.4h0.8v0.8h-0.8zM289.0 155.6h0.8v0.8h-0.8zM303.8 176.2h0.8v0.8h-0.8zM291.1 159.9h0.8v0.8h-0.8zM304.2 182.1h0.8v0.8h-0.8zM283.3 156.7h0.8v0.8h-0.8zM335.1 138.7h0.8v0.8h-0.8zM324.3 141.1h0.8v0.8h-0.8zM284.3 158.3h0.8v0.8h-0.8zM300.7 177.3h0.8v0.8h-0.8zM302.4 179.6h0.8v0.8h-0.8zM298.0 158.5h0.8v0.8h-0.8zM297.2 182.1h0.8v0.8h-0.8zM301.7 183.7h0.8v0.8h-0.8zM297.6 155.3h0.8v0.8h-0.8zM299.4 178.8h0.8v0.8h-0.8zM308.1 150.0h0.8v0.8h-0.8zM293.6 177.2h0.8v0.8h-0.8zM296.8 161.0h0.8v0.8h-0.8zM298.3 167.5h0.8v0.8h-0.8zM301.1 179.6h0.8v0.8h-0.8zM304.4 167.2h0.8v0.8h-0.8zM306.2 174.5h0.8v0.8h-0.8zM302.2 176.8h0.8v0.8h-0.8zM304.4 155.5h0.8v0.8h-0.8zM309.7 166.7h0.8v0.8h-0.8zM329.8 143.3h0.8v0.8h-0.8zM329.3 146.6h0.8v0.8h-0.8zM292.1 167.7h0.8v0.8h-0.8zM305.9 173.5h0.8v0.8h-0.8zM325.0 147.7h0.8v0.8h-0.8zM307.3 162.0h0.8v0.8h-0.8zM292.4 162.2h0.8v0.8h-0.8zM312.8 179.8h0.8v0.8h-0.8zM295.6 163.1h0.8v0.8h-0.8zM335.5 147.1h0.8v0.8h-0.8zM295.8 171.8h0.8v0.8h-0.8zM300.6 173.7h0.8v0.8h-0.8zM325.7 142.0h0.8v0.8h-0.8zM298.8 162.5h0.8v0.8h-0.8zM302.9 154.1h0.8v0.8h-0.8zM331.3 142.6h0.8v0.8h-0.8zM299.0 183.1h0.8v0.8h-0.8zM315.9 144.3h0.8v0.8h-0.8zM315.1 150.1h0.8v0.8h-0.8zM325.2 148.5h0.8v0.8h-0.8zM305.4 176.0h0.8v0.8h-0.8zM323.8 146.3h0.8v0.8h-0.8zM292.6 163.5h0.8v0.8h-0.8zM288.5 168.9h0.8v0.8h-0.8zM320.8 141.1h0.8v0.8h-0.8zM299.1 177.0h0.8v0.8h-0.8zM318.9 176.3h0.8v0.8h-0.8zM310.5 152.7h0.8v0.8h-0.8zM296.6 159.8h0.8v0.8h-0.8zM329.6 141.3h0.8v0.8h-0.8zM297.5 159.2h0.8v0.8h-0.8zM318.5 148.3h0.8v0.8h-0.8zM302.8 166.8h0.8v0.8h-0.8zM308.8 158.3h0.8v0.8h-0.8zM311.2 149.1h0.8v0.8h-0.8zM318.3 141.5h0.8v0.8h-0.8zM291.1 174.2h0.8v0.8h-0.8zM302.4 179.1h0.8v0.8h-0.8zM310.2 149.2h0.8v0.8h-0.8zM303.1 161.5h0.8v0.8h-0.8zM314.1 151.3h0.8v0.8h-0.8zM317.0 157.9h0.8v0.8h-0.8zM291.3 178.3h0.8v0.8h-0.8zM294.0 160.0h0.8v0.8h-0.8zM324.3 139.5h0.8v0.8h-0.8zM290.7 179.6h0.8v0.8h-0.8zM291.9 163.0h0.8v0.8h-0.8zM325.4 144.7h0.8v0.8h-0.8zM321.0 177.4h0.8v0.8h-0.8zM299.7 154.3h0.8v0.8h-0.8zM286.5 171.9h0.8v0.8h-0.8zM296.1 161.1h0.8v0.8h-0.8zM305.8 176.3h0.8v0.8h-0.8zM324.0 145.8h0.8v0.8h-0.8zM297.4 175.2h0.8v0.8h-0.8zM317.8 173.9h0.8v0.8h-0.8zM306.5 156.9h0.8v0.8h-0.8zM305.4 157.2h0.8v0.8h-0.8zM303.6 184.0h0.8v0.8h-0.8zM302.9 174.2h0.8v0.8h-0.8zM301.7 167.6h0.8v0.8h-0.8zM286.7 162.0h0.8v0.8h-0.8zM295.3 165.4h0.8v0.8h-0.8zM299.1 157.4h0.8v0.8h-0.8zM297.9 176.5h0.8v0.8h-0.8zM323.5 146.8h0.8v0.8h-0.8zM319.1 178.1h0.8v0.8h-0.8zM302.1 175.6h0.8v0.8h-0.8zM325.1 150.6h0.8v0.8h-0.8zM324.5 140.8h0.8v0.8h-0.8zM297.2 179.1h0.8v0.8h-0.8zM299.0 182.1h0.8v0.8h-0.8zM318.3 172.1h0.8v0.8h-0.8zM305.0 176.8h0.8v0.8h-0.8zM305.2 156.5h0.8v0.8h-0.8zM298.8 158.2h0.8v0.8h-0.8zM319.1 144.7h0.8v0.8h-0.8zM293.1 158.0h0.8v0.8h-0.8zM295.8 162.9h0.8v0.8h-0.8zM318.6 146.6h0.8v0.8h-0.8zM300.7 168.8h0.8v0.8h-0.8zM313.4 141.5h0.8v0.8h-0.8zM293.9 166.9h0.8v0.8h-0.8zM290.6 170.2h0.8v0.8h-0.8zM321.2 179.9h0.8v0.8h-0.8zM302.3 158.7h0.8v0.8h-0.8zM331.3 140.7h0.8v0.8h-0.8zM305.4 138.9h0.8v0.8h-0.8zM282.7 153.3h0.8v0.8h-0.8zM314.8 147.4h0.8v0.8h-0.8zM295.3 164.1h0.8v0.8h-0.8zM312.2 178.8h0.8v0.8h-0.8zM296.9 175.4h0.8v0.8h-0.8zM314.4 162.3h0.8v0.8h-0.8zM314.0 143.0h0.8v0.8h-0.8zM289.2 166.6h0.8v0.8h-0.8zM324.8 136.8h0.8v0.8h-0.8zM299.2 164.3h0.8v0.8h-0.8zM288.6 167.0h0.8v0.8h-0.8zM307.9 178.0h0.8v0.8h-0.8zM309.2 164.4h0.8v0.8h-0.8zM304.6 177.3h0.8v0.8h-0.8zM294.7 162.7h0.8v0.8h-0.8zM304.5 157.7h0.8v0.8h-0.8zM303.3 165.4h0.8v0.8h-0.8zM310.6 156.2h0.8v0.8h-0.8zM307.9 168.9h0.8v0.8h-0.8zM314.2 146.6h0.8v0.8h-0.8zM309.3 177.0h0.8v0.8h-0.8zM308.0 154.5h0.8v0.8h-0.8zM291.5 155.5h0.8v0.8h-0.8zM330.4 138.4h0.8v0.8h-0.8zM297.8 161.0h0.8v0.8h-0.8zM291.0 150.3h0.8v0.8h-0.8zM290.5 170.1h0.8v0.8h-0.8zM296.0 163.5h0.8v0.8h-0.8zM301.2 183.2h0.8v0.8h-0.8zM310.8 152.8h0.8v0.8h-0.8zM308.3 164.5h0.8v0.8h-0.8zM295.8 154.9h0.8v0.8h-0.8zM309.7 170.5h0.8v0.8h-0.8zM305.0 151.0h0.8v0.8h-0.8zM313.2 149.1h0.8v0.8h-0.8zM297.6 162.1h0.8v0.8h-0.8zM313.3 155.3h0.8v0.8h-0.8zM285.8 165.3h0.8v0.8h-0.8zM297.5 157.0h0.8v0.8h-0.8zM319.6 178.3h0.8v0.8h-0.8zM298.0 176.4h0.8v0.8h-0.8zM303.8 155.6h0.8v0.8h-0.8zM311.1 169.2h0.8v0.8h-0.8zM295.9 173.4h0.8v0.8h-0.8zM325.7 148.1h0.8v0.8h-0.8zM310.8 169.9h0.8v0.8h-0.8zM321.3 179.9h0.8v0.8h-0.8zM321.7 184.1h0.8v0.8h-0.8zM319.0 180.0h0.8v0.8h-0.8zM288.5 158.3h0.8v0.8h-0.8zM316.4 178.9h0.8v0.8h-0.8zM295.4 163.5h0.8v0.8h-0.8zM306.5 160.9h0.8v0.8h-0.8zM323.5 139.6h0.8v0.8h-0.8zM318.8 177.0h0.8v0.8h-0.8zM297.0 167.0h0.8v0.8h-0.8zM306.0 172.6h0.8v0.8h-0.8zM291.3 171.5h0.8v0.8h-0.8zM296.9 166.2h0.8v0.8h-0.8zM297.0 162.7h0.8v0.8h-0.8zM302.3 171.4h0.8v0.8h-0.8zM296.8 179.6h0.8v0.8h-0.8zM308.3 156.7h0.8v0.8h-0.8zM316.9 152.3h0.8v0.8h-0.8zM299.1 169.0h0.8v0.8h-0.8zM308.1 152.9h0.8v0.8h-0.8zM300.1 151.8h0.8v0.8h-0.8zM290.9 172.3h0.8v0.8h-0.8zM307.4 152.3h0.8v0.8h-0.8zM297.4 166.4h0.8v0.8h-0.8zM297.6 177.1h0.8v0.8h-0.8zM299.3 178.7h0.8v0.8h-0.8zM299.6 179.8h0.8v0.8h-0.8zM294.8 159.6h0.8v0.8h-0.8zM304.0 146.1h0.8v0.8h-0.8zM322.6 144.9h0.8v0.8h-0.8zM304.4 166.3h0.8v0.8h-0.8zM311.4 167.5h0.8v0.8h-0.8zM299.1 179.2h0.8v0.8h-0.8zM320.3 177.3h0.8v0.8h-0.8zM305.6 178.9h0.8v0.8h-0.8zM284.6 149.5h0.8v0.8h-0.8zM307.3 159.0h0.8v0.8h-0.8zM314.8 155.6h0.8v0.8h-0.8zM296.5 182.3h0.8v0.8h-0.8zM317.0 169.3h0.8v0.8h-0.8zM325.0 138.1h0.8v0.8h-0.8zM298.0 157.5h0.8v0.8h-0.8zM317.9 148.8h0.8v0.8h-0.8zM300.7 163.4h0.8v0.8h-0.8zM331.9 141.8h0.8v0.8h-0.8zM306.5 168.0h0.8v0.8h-0.8zM302.9 171.9h0.8v0.8h-0.8zM313.0 156.3h0.8v0.8h-0.8zM331.0 146.2h0.8v0.8h-0.8zM305.2 157.8h0.8v0.8h-0.8zM294.0 162.5h0.8v0.8h-0.8zM295.4 176.5h0.8v0.8h-0.8zM299.1 160.9h0.8v0.8h-0.8zM291.6 165.7h0.8v0.8h-0.8zM297.2 169.0h0.8v0.8h-0.8zM304.9 160.7h0.8v0.8h-0.8zM314.6 153.5h0.8v0.8h-0.8zM302.7 159.9h0.8v0.8h-0.8zM305.6 176.3h0.8v0.8h-0.8zM289.7 167.5h0.8v0.8h-0.8zM283.8 182.2h0.8v0.8h-0.8zM319.0 149.8h0.8v0.8h-0.8zM310.9 153.3h0.8v0.8h-0.8zM327.1 140.7h0.8v0.8h-0.8zM307.2 177.5h0.8v0.8h-0.8zM327.6 141.1h0.8v0.8h-0.8zM296.7 179.6h0.8v0.8h-0.8zM312.6 151.8h0.8v0.8h-0.8zM297.3 175.2h0.8v0.8h-0.8zM287.4 169.3h0.8v0.8h-0.8zM322.3 144.7h0.8v0.8h-0.8zM301.8 153.4h0.8v0.8h-0.8zM297.1 181.8h0.8v0.8h-0.8zM303.0 178.9h0.8v0.8h-0.8zM310.8 155.5h0.8v0.8h-0.8zM292.6 168.3h0.8v0.8h-0.8zM327.8 143.1h0.8v0.8h-0.8zM314.4 150.9h0.8v0.8h-0.8zM304.1 159.3h0.8v0.8h-0.8zM296.8 158.4h0.8v0.8h-0.8zM298.5 175.8h0.8v0.8h-0.8zM312.7 168.8h0.8v0.8h-0.8zM308.8 151.8h0.8v0.8h-0.8zM304.1 159.5h0.8v0.8h-0.8zM305.4 153.0h0.8v0.8h-0.8zM301.0 171.4h0.8v0.8h-0.8zM308.0 181.2h0.8v0.8h-0.8zM318.7 179.3h0.8v0.8h-0.8zM309.9 150.9h0.8v0.8h-0.8zM317.1 162.6h0.8v0.8h-0.8zM298.8 163.3h0.8v0.8h-0.8zM290.5 164.4h0.8v0.8h-0.8zM293.2 165.0h0.8v0.8h-0.8zM332.0 141.6h0.8v0.8h-0.8zM290.1 150.6h0.8v0.8h-0.8zM293.1 164.8h0.8v0.8h-0.8zM301.9 152.4h0.8v0.8h-0.8zM293.5 171.6h0.8v0.8h-0.8zM313.9 180.6h0.8v0.8h-0.8zM301.6 171.8h0.8v0.8h-0.8zM323.9 142.5h0.8v0.8h-0.8zM328.1 141.8h0.8v0.8h-0.8zM286.5 162.3h0.8v0.8h-0.8zM315.1 152.5h0.8v0.8h-0.8zM304.9 156.8h0.8v0.8h-0.8zM305.0 175.2h0.8v0.8h-0.8zM280.5 169.3h0.8v0.8h-0.8zM309.8 178.7h0.8v0.8h-0.8zM287.0 155.2h0.8v0.8h-0.8zM297.1 161.8h0.8v0.8h-0.8zM310.4 152.8h0.8v0.8h-0.8zM318.5 149.0h0.8v0.8h-0.8zM310.6 157.7h0.8v0.8h-0.8zM297.0 168.0h0.8v0.8h-0.8zM314.5 158.5h0.8v0.8h-0.8zM309.2 174.9h0.8v0.8h-0.8zM314.7 143.2h0.8v0.8h-0.8zM300.0 169.2h0.8v0.8h-0.8zM287.6 166.1h0.8v0.8h-0.8zM314.7 169.9h0.8v0.8h-0.8zM326.7 146.5h0.8v0.8h-0.8zM308.6 156.1h0.8v0.8h-0.8zM313.1 188.8h0.8v0.8h-0.8zM306.3 159.3h0.8v0.8h-0.8zM327.3 143.6h0.8v0.8h-0.8zM305.6 150.9h0.8v0.8h-0.8zM322.8 144.5h0.8v0.8h-0.8zM296.4 175.5h0.8v0.8h-0.8zM306.9 177.6h0.8v0.8h-0.8zM308.1 159.2h0.8v0.8h-0.8zM299.1 160.2h0.8v0.8h-0.8zM313.5 177.4h0.8v0.8h-0.8zM295.4 176.1h0.8v0.8h-0.8zM324.8 144.3h0.8v0.8h-0.8zM300.6 158.4h0.8v0.8h-0.8zM322.7 182.8h0.8v0.8h-0.8zM313.0 176.7h0.8v0.8h-0.8zM323.6 146.0h0.8v0.8h-0.8zM314.9 156.9h0.8v0.8h-0.8zM295.2 170.2h0.8v0.8h-0.8zM316.8 146.6h0.8v0.8h-0.8zM300.8 174.8h0.8v0.8h-0.8zM293.4 155.4h0.8v0.8h-0.8zM299.7 180.0h0.8v0.8h-0.8zM305.8 156.0h0.8v0.8h-0.8zM299.0 167.2h0.8v0.8h-0.8zM294.7 158.6h0.8v0.8h-0.8zM302.0 180.0h0.8v0.8h-0.8zM315.4 152.7h0.8v0.8h-0.8zM297.8 170.0h0.8v0.8h-0.8zM300.2 161.5h0.8v0.8h-0.8zM299.5 162.7h0.8v0.8h-0.8zM316.9 177.6h0.8v0.8h-0.8zM300.0 152.7h0.8v0.8h-0.8zM306.0 182.5h0.8v0.8h-0.8zM316.2 148.5h0.8v0.8h-0.8zM301.5 156.6h0.8v0.8h-0.8zM328.0 144.0h0.8v0.8h-0.8zM303.3 164.6h0.8v0.8h-0.8zM308.6 144.8h0.8v0.8h-0.8zM304.0 168.0h0.8v0.8h-0.8zM302.0 161.8h0.8v0.8h-0.8zM304.5 165.0h0.8v0.8h-0.8zM299.1 171.3h0.8v0.8h-0.8zM296.8 157.3h0.8v0.8h-0.8zM321.6 180.0h0.8v0.8h-0.8zM315.3 153.1h0.8v0.8h-0.8zM315.0 155.0h0.8v0.8h-0.8zM295.1 170.7h0.8v0.8h-0.8zM294.6 153.3h0.8v0.8h-0.8zM304.3 180.8h0.8v0.8h-0.8zM301.3 173.7h0.8v0.8h-0.8zM325.4 146.9h0.8v0.8h-0.8zM313.6 180.5h0.8v0.8h-0.8zM309.4 147.6h0.8v0.8h-0.8zM312.4 148.2h0.8v0.8h-0.8zM321.9 177.5h0.8v0.8h-0.8zM290.9 170.2h0.8v0.8h-0.8zM318.0 179.2h0.8v0.8h-0.8zM290.6 164.1h0.8v0.8h-0.8zM305.1 149.0h0.8v0.8h-0.8zM321.9 147.7h0.8v0.8h-0.8zM298.7 163.0h0.8v0.8h-0.8zM317.2 180.8h0.8v0.8h-0.8zM295.2 164.8h0.8v0.8h-0.8zM291.0 155.8h0.8v0.8h-0.8zM299.6 163.3h0.8v0.8h-0.8zM318.9 148.6h0.8v0.8h-0.8zM312.4 187.0h0.8v0.8h-0.8zM291.6 165.6h0.8v0.8h-0.8zM289.4 162.9h0.8v0.8h-0.8zM318.1 184.0h0.8v0.8h-0.8zM320.3 179.2h0.8v0.8h-0.8zM302.7 180.4h0.8v0.8h-0.8zM324.0 174.4h0.8v0.8h-0.8zM322.3 145.8h0.8v0.8h-0.8zM302.7 176.4h0.8v0.8h-0.8zM291.2 171.0h0.8v0.8h-0.8zM304.9 179.1h0.8v0.8h-0.8zM306.4 156.1h0.8v0.8h-0.8zM313.0 158.8h0.8v0.8h-0.8zM288.6 175.8h0.8v0.8h-0.8zM319.9 149.8h0.8v0.8h-0.8zM299.5 171.3h0.8v0.8h-0.8zM296.3 167.2h0.8v0.8h-0.8zM316.4 152.4h0.8v0.8h-0.8zM302.8 168.4h0.8v0.8h-0.8zM319.3 176.0h0.8v0.8h-0.8zM281.2 167.6h0.8v0.8h-0.8zM301.2 175.1h0.8v0.8h-0.8zM301.4 179.2h0.8v0.8h-0.8zM297.5 178.9h0.8v0.8h-0.8zM299.2 178.3h0.8v0.8h-0.8zM285.3 168.3h0.8v0.8h-0.8zM305.2 180.1h0.8v0.8h-0.8zM321.2 150.9h0.8v0.8h-0.8zM296.7 179.3h0.8v0.8h-0.8zM329.5 142.2h0.8v0.8h-0.8zM297.3 170.5h0.8v0.8h-0.8zM291.8 166.8h0.8v0.8h-0.8zM293.2 144.9h0.8v0.8h-0.8zM314.8 147.2h0.8v0.8h-0.8zM306.0 174.8h0.8v0.8h-0.8zM320.4 176.0h0.8v0.8h-0.8zM288.1 173.5h0.8v0.8h-0.8zM297.7 165.6h0.8v0.8h-0.8zM299.2 160.0h0.8v0.8h-0.8zM294.6 160.8h0.8v0.8h-0.8zM297.3 167.3h0.8v0.8h-0.8zM324.4 151.3h0.8v0.8h-0.8zM316.3 153.4h0.8v0.8h-0.8zM299.1 180.2h0.8v0.8h-0.8zM296.2 165.0h0.8v0.8h-0.8zM328.9 144.3h0.8v0.8h-0.8zM295.7 180.3h0.8v0.8h-0.8zM298.8 155.8h0.8v0.8h-0.8zM283.0 170.6h0.8v0.8h-0.8zM307.9 175.0h0.8v0.8h-0.8zM291.1 164.7h0.8v0.8h-0.8zM298.9 169.9h0.8v0.8h-0.8zM299.9 161.3h0.8v0.8h-0.8zM303.5 180.4h0.8v0.8h-0.8zM324.7 133.2h0.8v0.8h-0.8zM298.9 163.1h0.8v0.8h-0.8zM290.1 172.3h0.8v0.8h-0.8zM315.1 148.4h0.8v0.8h-0.8zM306.1 179.5h0.8v0.8h-0.8zM286.1 155.2h0.8v0.8h-0.8zM304.7 156.1h0.8v0.8h-0.8zM314.8 144.0h0.8v0.8h-0.8zM301.4 161.6h0.8v0.8h-0.8zM288.3 154.7h0.8v0.8h-0.8zM317.0 178.9h0.8v0.8h-0.8zM304.8 158.5h0.8v0.8h-0.8zM315.5 151.7h0.8v0.8h-0.8zM300.5 161.2h0.8v0.8h-0.8zM308.3 177.4h0.8v0.8h-0.8zM286.9 147.9h0.8v0.8h-0.8zM300.5 177.9h0.8v0.8h-0.8zM298.1 168.4h0.8v0.8h-0.8zM298.0 161.1h0.8v0.8h-0.8zM293.5 172.5h0.8v0.8h-0.8zM325.5 140.0h0.8v0.8h-0.8zM314.8 153.2h0.8v0.8h-0.8zM333.5 140.4h0.8v0.8h-0.8zM304.1 176.0h0.8v0.8h-0.8zM318.4 143.6h0.8v0.8h-0.8zM282.3 165.4h0.8v0.8h-0.8zM303.5 150.7h0.8v0.8h-0.8zM305.1 158.0h0.8v0.8h-0.8zM330.4 142.5h0.8v0.8h-0.8zM298.0 162.0h0.8v0.8h-0.8zM334.1 147.4h0.8v0.8h-0.8zM294.8 156.0h0.8v0.8h-0.8zM301.1 157.4h0.8v0.8h-0.8zM298.6 159.0h0.8v0.8h-0.8zM311.0 149.0h0.8v0.8h-0.8zM325.1 145.8h0.8v0.8h-0.8zM322.7 145.6h0.8v0.8h-0.8zM289.8 166.5h0.8v0.8h-0.8zM300.9 158.9h0.8v0.8h-0.8zM315.5 158.6h0.8v0.8h-0.8zM299.2 153.8h0.8v0.8h-0.8zM327.5 143.1h0.8v0.8h-0.8zM303.7 177.4h0.8v0.8h-0.8zM328.8 137.9h0.8v0.8h-0.8zM303.6 162.1h0.8v0.8h-0.8zM301.5 161.4h0.8v0.8h-0.8zM306.2 178.8h0.8v0.8h-0.8zM304.3 166.2h0.8v0.8h-0.8zM320.1 183.5h0.8v0.8h-0.8zM317.8 178.7h0.8v0.8h-0.8zM309.8 178.4h0.8v0.8h-0.8zM297.2 178.2h0.8v0.8h-0.8zM303.9 159.6h0.8v0.8h-0.8zM296.4 174.0h0.8v0.8h-0.8zM303.6 163.1h0.8v0.8h-0.8zM318.1 150.6h0.8v0.8h-0.8zM294.6 173.3h0.8v0.8h-0.8zM316.3 182.3h0.8v0.8h-0.8zM307.0 156.3h0.8v0.8h-0.8zM297.2 171.3h0.8v0.8h-0.8zM305.4 176.4h0.8v0.8h-0.8zM295.9 166.8h0.8v0.8h-0.8zM323.9 142.9h0.8v0.8h-0.8zM301.9 167.5h0.8v0.8h-0.8zM308.8 178.5h0.8v0.8h-0.8zM320.1 144.9h0.8v0.8h-0.8zM306.5 178.1h0.8v0.8h-0.8zM310.8 181.8h0.8v0.8h-0.8zM296.9 179.7h0.8v0.8h-0.8zM307.5 175.7h0.8v0.8h-0.8zM301.2 179.8h0.8v0.8h-0.8zM329.5 146.5h0.8v0.8h-0.8zM324.1 178.1h0.8v0.8h-0.8zM306.1 176.6h0.8v0.8h-0.8zM325.1 180.3h0.8v0.8h-0.8zM317.8 177.4h0.8v0.8h-0.8zM302.9 150.3h0.8v0.8h-0.8zM314.8 149.8h0.8v0.8h-0.8zM304.5 165.8h0.8v0.8h-0.8zM322.2 149.1h0.8v0.8h-0.8zM298.6 179.1h0.8v0.8h-0.8zM285.7 172.6h0.8v0.8h-0.8zM291.3 175.3h0.8v0.8h-0.8zM290.0 165.6h0.8v0.8h-0.8zM296.4 157.0h0.8v0.8h-0.8zM322.1 179.5h0.8v0.8h-0.8zM308.6 164.0h0.8v0.8h-0.8zM310.7 148.9h0.8v0.8h-0.8zM302.9 157.3h0.8v0.8h-0.8zM291.5 178.4h0.8v0.8h-0.8zM299.8 163.8h0.8v0.8h-0.8zM306.4 149.2h0.8v0.8h-0.8zM295.3 169.1h0.8v0.8h-0.8zM310.0 151.9h0.8v0.8h-0.8zM322.3 148.2h0.8v0.8h-0.8zM319.0 147.1h0.8v0.8h-0.8zM301.9 163.9h0.8v0.8h-0.8zM305.1 156.0h0.8v0.8h-0.8zM301.5 176.7h0.8v0.8h-0.8zM306.0 160.9h0.8v0.8h-0.8zM296.4 165.9h0.8v0.8h-0.8zM297.5 169.6h0.8v0.8h-0.8zM299.6 162.7h0.8v0.8h-0.8zM309.3 177.5h0.8v0.8h-0.8zM284.8 166.2h0.8v0.8h-0.8zM309.1 185.1h0.8v0.8h-0.8zM315.4 157.5h0.8v0.8h-0.8zM308.8 164.0h0.8v0.8h-0.8zM302.7 162.7h0.8v0.8h-0.8zM319.8 147.7h0.8v0.8h-0.8zM298.5 176.3h0.8v0.8h-0.8zM302.5 181.2h0.8v0.8h-0.8zM301.7 179.3h0.8v0.8h-0.8zM299.1 151.3h0.8v0.8h-0.8zM318.9 155.7h0.8v0.8h-0.8zM304.6 153.0h0.8v0.8h-0.8zM318.5 149.4h0.8v0.8h-0.8zM328.1 142.8h0.8v0.8h-0.8zM334.8 141.1h0.8v0.8h-0.8zM298.6 175.5h0.8v0.8h-0.8zM300.1 176.4h0.8v0.8h-0.8zM301.1 162.4h0.8v0.8h-0.8zM314.0 174.5h0.8v0.8h-0.8zM323.9 149.2h0.8v0.8h-0.8zM317.7 169.0h0.8v0.8h-0.8zM311.9 177.9h0.8v0.8h-0.8zM302.5 159.3h0.8v0.8h-0.8zM309.2 184.4h0.8v0.8h-0.8zM298.4 159.9h0.8v0.8h-0.8zM304.3 167.5h0.8v0.8h-0.8zM331.7 138.8h0.8v0.8h-0.8zM296.4 172.9h0.8v0.8h-0.8zM294.5 159.5h0.8v0.8h-0.8zM316.8 147.9h0.8v0.8h-0.8zM322.9 154.1h0.8v0.8h-0.8zM303.2 163.1h0.8v0.8h-0.8zM316.3 154.6h0.8v0.8h-0.8zM301.9 170.3h0.8v0.8h-0.8zM317.1 153.2h0.8v0.8h-0.8zM299.3 159.3h0.8v0.8h-0.8zM307.5 152.2h0.8v0.8h-0.8zM328.9 143.4h0.8v0.8h-0.8zM320.9 173.6h0.8v0.8h-0.8zM326.6 146.2h0.8v0.8h-0.8zM298.0 186.6h0.8v0.8h-0.8zM307.9 176.3h0.8v0.8h-0.8zM309.5 179.1h0.8v0.8h-0.8zM317.9 153.2h0.8v0.8h-0.8zM304.2 172.0h0.8v0.8h-0.8zM297.0 166.7h0.8v0.8h-0.8zM293.3 161.8h0.8v0.8h-0.8zM296.8 179.5h0.8v0.8h-0.8zM314.9 170.2h0.8v0.8h-0.8zM315.3 174.5h0.8v0.8h-0.8zM331.4 151.5h0.8v0.8h-0.8zM312.3 176.8h0.8v0.8h-0.8zM322.0 145.7h0.8v0.8h-0.8zM294.9 162.1h0.8v0.8h-0.8zM314.4 149.8h0.8v0.8h-0.8zM310.4 150.2h0.8v0.8h-0.8zM308.6 148.8h0.8v0.8h-0.8zM323.1 141.9h0.8v0.8h-0.8zM301.2 179.3h0.8v0.8h-0.8zM319.7 147.5h0.8v0.8h-0.8zM308.7 157.7h0.8v0.8h-0.8zM322.6 143.0h0.8v0.8h-0.8zM322.3 148.7h0.8v0.8h-0.8zM294.8 175.9h0.8v0.8h-0.8zM298.3 158.0h0.8v0.8h-0.8zM309.3 154.3h0.8v0.8h-0.8zM307.5 153.1h0.8v0.8h-0.8zM316.4 156.6h0.8v0.8h-0.8zM290.3 172.4h0.8v0.8h-0.8zM297.2 175.4h0.8v0.8h-0.8zM307.1 151.8h0.8v0.8h-0.8zM297.8 159.7h0.8v0.8h-0.8zM319.3 182.6h0.8v0.8h-0.8zM317.7 139.9h0.8v0.8h-0.8zM301.4 156.4h0.8v0.8h-0.8zM309.3 169.0h0.8v0.8h-0.8zM294.7 169.9h0.8v0.8h-0.8zM306.6 160.4h0.8v0.8h-0.8zM319.4 150.4h0.8v0.8h-0.8zM304.4 160.7h0.8v0.8h-0.8zM323.6 143.0h0.8v0.8h-0.8zM292.7 166.8h0.8v0.8h-0.8zM286.5 176.3h0.8v0.8h-0.8zM303.8 174.2h0.8v0.8h-0.8zM305.1 159.5h0.8v0.8h-0.8zM330.5 139.6h0.8v0.8h-0.8zM311.0 151.1h0.8v0.8h-0.8zM291.0 173.5h0.8v0.8h-0.8zM300.1 167.2h0.8v0.8h-0.8zM298.2 163.3h0.8v0.8h-0.8zM302.3 180.9h0.8v0.8h-0.8zM308.6 182.4h0.8v0.8h-0.8zM316.9 142.4h0.8v0.8h-0.8zM300.0 163.6h0.8v0.8h-0.8zM318.3 153.9h0.8v0.8h-0.8zM302.6 177.9h0.8v0.8h-0.8zM326.8 146.5h0.8v0.8h-0.8zM296.5 178.8h0.8v0.8h-0.8zM313.9 185.9h0.8v0.8h-0.8zM315.8 151.0h0.8v0.8h-0.8zM307.7 176.9h0.8v0.8h-0.8zM289.2 157.7h0.8v0.8h-0.8zM298.0 162.4h0.8v0.8h-0.8zM287.1 172.5h0.8v0.8h-0.8zM312.5 176.1h0.8v0.8h-0.8zM298.5 159.8h0.8v0.8h-0.8zM328.3 142.9h0.8v0.8h-0.8zM332.3 139.7h0.8v0.8h-0.8zM301.3 178.8h0.8v0.8h-0.8zM307.1 160.8h0.8v0.8h-0.8zM326.9 149.1h0.8v0.8h-0.8zM302.3 162.5h0.8v0.8h-0.8zM308.3 182.0h0.8v0.8h-0.8zM306.2 153.5h0.8v0.8h-0.8zM302.2 167.0h0.8v0.8h-0.8zM295.8 160.5h0.8v0.8h-0.8zM291.0 162.3h0.8v0.8h-0.8zM297.4 172.3h0.8v0.8h-0.8zM295.0 177.8h0.8v0.8h-0.8zM298.4 152.5h0.8v0.8h-0.8zM297.7 171.7h0.8v0.8h-0.8zM306.7 156.1h0.8v0.8h-0.8zM319.4 178.4h0.8v0.8h-0.8zM294.6 165.5h0.8v0.8h-0.8zM325.5 149.8h0.8v0.8h-0.8zM315.5 146.4h0.8v0.8h-0.8zM321.0 148.5h0.8v0.8h-0.8zM316.8 152.2h0.8v0.8h-0.8zM310.3 159.6h0.8v0.8h-0.8zM307.1 164.1h0.8v0.8h-0.8zM299.8 171.0h0.8v0.8h-0.8zM318.5 149.9h0.8v0.8h-0.8zM296.1 163.6h0.8v0.8h-0.8zM310.4 176.4h0.8v0.8h-0.8zM300.7 160.2h0.8v0.8h-0.8zM305.2 151.0h0.8v0.8h-0.8zM316.3 153.3h0.8v0.8h-0.8zM302.5 161.8h0.8v0.8h-0.8zM292.5 157.1h0.8v0.8h-0.8zM336.4 143.9h0.8v0.8h-0.8zM302.6 156.4h0.8v0.8h-0.8zM308.6 166.3h0.8v0.8h-0.8zM318.9 180.2h0.8v0.8h-0.8zM294.4 162.0h0.8v0.8h-0.8zM298.4 159.4h0.8v0.8h-0.8zM307.4 178.9h0.8v0.8h-0.8zM309.1 156.2h0.8v0.8h-0.8zM313.7 156.0h0.8v0.8h-0.8zM287.8 166.9h0.8v0.8h-0.8zM288.5 164.6h0.8v0.8h-0.8zM329.6 140.7h0.8v0.8h-0.8zM310.1 147.0h0.8v0.8h-0.8zM302.4 179.6h0.8v0.8h-0.8zM294.4 160.7h0.8v0.8h-0.8zM295.4 180.7h0.8v0.8h-0.8zM291.3 163.8h0.8v0.8h-0.8zM279.6 177.3h0.8v0.8h-0.8zM320.1 152.2h0.8v0.8h-0.8zM307.3 156.3h0.8v0.8h-0.8zM308.6 165.2h0.8v0.8h-0.8zM289.2 161.5h0.8v0.8h-0.8zM282.2 167.7h0.8v0.8h-0.8zM296.8 165.5h0.8v0.8h-0.8zM313.2 156.3h0.8v0.8h-0.8zM316.1 176.8h0.8v0.8h-0.8zM296.3 175.7h0.8v0.8h-0.8zM296.2 165.9h0.8v0.8h-0.8zM314.7 173.2h0.8v0.8h-0.8zM295.1 149.0h0.8v0.8h-0.8zM301.2 154.1h0.8v0.8h-0.8zM320.9 179.2h0.8v0.8h-0.8zM330.0 144.6h0.8v0.8h-0.8zM307.3 169.3h0.8v0.8h-0.8zM300.7 175.8h0.8v0.8h-0.8zM308.3 180.1h0.8v0.8h-0.8zM309.8 162.1h0.8v0.8h-0.8zM298.5 175.5h0.8v0.8h-0.8zM284.9 164.9h0.8v0.8h-0.8zM296.9 170.0h0.8v0.8h-0.8zM301.3 162.5h0.8v0.8h-0.8zM301.4 157.2h0.8v0.8h-0.8zM302.7 179.8h0.8v0.8h-0.8zM287.9 172.3h0.8v0.8h-0.8zM324.6 136.4h0.8v0.8h-0.8zM307.1 178.3h0.8v0.8h-0.8zM310.8 160.9h0.8v0.8h-0.8zM303.7 160.0h0.8v0.8h-0.8zM305.9 160.5h0.8v0.8h-0.8zM322.9 180.4h0.8v0.8h-0.8zM316.8 148.2h0.8v0.8h-0.8zM318.2 179.4h0.8v0.8h-0.8zM301.8 176.5h0.8v0.8h-0.8zM308.4 167.5h0.8v0.8h-0.8zM330.5 139.5h0.8v0.8h-0.8zM299.7 152.6h0.8v0.8h-0.8zM322.6 144.0h0.8v0.8h-0.8zM304.9 158.0h0.8v0.8h-0.8zM298.2 159.7h0.8v0.8h-0.8zM322.6 147.8h0.8v0.8h-0.8zM290.4 159.8h0.8v0.8h-0.8zM308.2 160.5h0.8v0.8h-0.8zM307.5 154.2h0.8v0.8h-0.8zM301.2 159.7h0.8v0.8h-0.8zM309.0 181.1h0.8v0.8h-0.8zM299.3 165.5h0.8v0.8h-0.8zM319.4 149.4h0.8v0.8h-0.8zM315.5 144.8h0.8v0.8h-0.8zM305.5 154.2h0.8v0.8h-0.8zM305.3 180.3h0.8v0.8h-0.8zM303.5 166.5h0.8v0.8h-0.8zM298.6 165.8h0.8v0.8h-0.8zM285.8 173.2h0.8v0.8h-0.8zM317.3 143.1h0.8v0.8h-0.8zM298.6 166.5h0.8v0.8h-0.8zM299.5 176.5h0.8v0.8h-0.8zM300.1 159.7h0.8v0.8h-0.8zM328.9 145.4h0.8v0.8h-0.8zM292.6 170.5h0.8v0.8h-0.8zM310.2 173.5h0.8v0.8h-0.8zM330.4 148.9h0.8v0.8h-0.8zM309.6 179.3h0.8v0.8h-0.8zM297.4 164.5h0.8v0.8h-0.8zM299.6 180.7h0.8v0.8h-0.8zM304.7 151.5h0.8v0.8h-0.8zM298.1 168.4h0.8v0.8h-0.8zM309.0 177.2h0.8v0.8h-0.8zM302.3 156.0h0.8v0.8h-0.8zM307.6 178.4h0.8v0.8h-0.8zM297.0 156.8h0.8v0.8h-0.8zM314.3 156.4h0.8v0.8h-0.8zM307.1 159.8h0.8v0.8h-0.8zM319.9 183.7h0.8v0.8h-0.8zM321.8 147.1h0.8v0.8h-0.8zM328.0 138.3h0.8v0.8h-0.8zM306.3 173.4h0.8v0.8h-0.8zM292.6 162.7h0.8v0.8h-0.8zM289.5 161.7h0.8v0.8h-0.8zM313.8 182.1h0.8v0.8h-0.8zM315.3 157.5h0.8v0.8h-0.8zM303.3 172.6h0.8v0.8h-0.8zM313.1 177.3h0.8v0.8h-0.8zM311.1 154.1h0.8v0.8h-0.8zM314.0 173.7h0.8v0.8h-0.8zM309.9 153.8h0.8v0.8h-0.8zM308.5 156.9h0.8v0.8h-0.8zM300.5 172.8h0.8v0.8h-0.8zM288.9 159.7h0.8v0.8h-0.8zM308.1 179.2h0.8v0.8h-0.8zM304.7 154.3h0.8v0.8h-0.8zM295.6 174.8h0.8v0.8h-0.8zM329.1 138.3h0.8v0.8h-0.8zM305.3 180.5h0.8v0.8h-0.8zM314.5 166.9h0.8v0.8h-0.8zM312.1 162.2h0.8v0.8h-0.8zM301.0 165.3h0.8v0.8h-0.8zM314.7 180.0h0.8v0.8h-0.8zM297.0 163.8h0.8v0.8h-0.8zM297.1 175.7h0.8v0.8h-0.8zM303.0 160.4h0.8v0.8h-0.8zM319.3 146.7h0.8v0.8h-0.8zM307.6 177.7h0.8v0.8h-0.8zM302.3 178.4h0.8v0.8h-0.8zM324.2 145.8h0.8v0.8h-0.8zM295.6 167.3h0.8v0.8h-0.8zM290.0 159.8h0.8v0.8h-0.8zM294.0 180.2h0.8v0.8h-0.8zM307.3 145.6h0.8v0.8h-0.8zM321.7 182.2h0.8v0.8h-0.8zM301.2 180.0h0.8v0.8h-0.8zM301.0 156.0h0.8v0.8h-0.8zM296.8 177.3h0.8v0.8h-0.8zM325.2 148.6h0.8v0.8h-0.8zM322.7 144.7h0.8v0.8h-0.8zM304.1 180.2h0.8v0.8h-0.8zM300.9 165.8h0.8v0.8h-0.8zM303.8 150.3h0.8v0.8h-0.8zM325.9 147.0h0.8v0.8h-0.8zM313.6 178.0h0.8v0.8h-0.8zM285.5 161.1h0.8v0.8h-0.8zM310.1 148.3h0.8v0.8h-0.8zM290.7 158.9h0.8v0.8h-0.8zM319.7 178.9h0.8v0.8h-0.8zM298.0 158.7h0.8v0.8h-0.8zM280.1 178.6h0.8v0.8h-0.8zM299.7 176.9h0.8v0.8h-0.8zM303.8 169.4h0.8v0.8h-0.8zM315.9 143.8h0.8v0.8h-0.8zM304.4 180.7h0.8v0.8h-0.8zM306.7 171.6h0.8v0.8h-0.8zM315.0 148.3h0.8v0.8h-0.8zM297.2 152.8h0.8v0.8h-0.8zM307.4 168.8h0.8v0.8h-0.8zM295.5 180.8h0.8v0.8h-0.8zM304.1 161.4h0.8v0.8h-0.8zM297.9 161.9h0.8v0.8h-0.8zM299.9 162.0h0.8v0.8h-0.8zM287.3 166.7h0.8v0.8h-0.8zM323.0 149.8h0.8v0.8h-0.8zM309.4 180.2h0.8v0.8h-0.8zM305.8 176.8h0.8v0.8h-0.8zM295.1 166.7h0.8v0.8h-0.8zM311.7 179.4h0.8v0.8h-0.8zM304.3 157.0h0.8v0.8h-0.8zM316.3 146.1h0.8v0.8h-0.8zM302.7 181.8h0.8v0.8h-0.8zM324.0 146.4h0.8v0.8h-0.8zM305.2 153.4h0.8v0.8h-0.8zM306.2 169.0h0.8v0.8h-0.8zM295.4 155.9h0.8v0.8h-0.8zM299.9 176.5h0.8v0.8h-0.8zM314.0 159.4h0.8v0.8h-0.8zM297.1 165.3h0.8v0.8h-0.8zM289.9 169.3h0.8v0.8h-0.8zM306.1 168.5h0.8v0.8h-0.8zM316.5 144.7h0.8v0.8h-0.8zM325.0 143.0h0.8v0.8h-0.8zM317.6 154.7h0.8v0.8h-0.8zM331.2 141.5h0.8v0.8h-0.8zM298.4 162.6h0.8v0.8h-0.8zM314.1 152.8h0.8v0.8h-0.8zM302.1 177.0h0.8v0.8h-0.8zM301.2 179.7h0.8v0.8h-0.8zM291.7 161.2h0.8v0.8h-0.8zM322.3 178.2h0.8v0.8h-0.8zM304.1 162.4h0.8v0.8h-0.8zM296.3 155.9h0.8v0.8h-0.8zM289.2 165.2h0.8v0.8h-0.8zM311.2 147.9h0.8v0.8h-0.8zM295.8 177.9h0.8v0.8h-0.8zM329.3 141.3h0.8v0.8h-0.8zM302.9 183.9h0.8v0.8h-0.8zM319.5 144.8h0.8v0.8h-0.8zM308.7 149.8h0.8v0.8h-0.8zM333.7 140.7h0.8v0.8h-0.8zM300.1 169.1h0.8v0.8h-0.8zM304.0 159.0h0.8v0.8h-0.8zM317.1 178.6h0.8v0.8h-0.8zM301.0 161.1h0.8v0.8h-0.8zM301.7 154.1h0.8v0.8h-0.8zM290.1 166.2h0.8v0.8h-0.8zM297.5 168.7h0.8v0.8h-0.8zM300.8 173.0h0.8v0.8h-0.8zM301.8 182.0h0.8v0.8h-0.8zM320.2 177.7h0.8v0.8h-0.8zM315.2 180.3h0.8v0.8h-0.8zM317.7 145.7h0.8v0.8h-0.8zM294.8 158.8h0.8v0.8h-0.8zM289.9 168.6h0.8v0.8h-0.8zM304.5 158.0h0.8v0.8h-0.8zM303.4 158.8h0.8v0.8h-0.8zM313.9 180.2h0.8v0.8h-0.8zM294.1 159.3h0.8v0.8h-0.8zM297.5 176.0h0.8v0.8h-0.8zM300.8 178.3h0.8v0.8h-0.8zM331.3 135.8h0.8v0.8h-0.8zM305.2 149.3h0.8v0.8h-0.8zM323.7 150.4h0.8v0.8h-0.8zM319.7 149.9h0.8v0.8h-0.8zM301.0 175.7h0.8v0.8h-0.8zM319.2 156.4h0.8v0.8h-0.8zM312.1 176.4h0.8v0.8h-0.8zM306.2 177.4h0.8v0.8h-0.8zM292.5 148.3h0.8v0.8h-0.8zM319.6 143.0h0.8v0.8h-0.8zM328.2 140.2h0.8v0.8h-0.8zM296.3 158.1h0.8v0.8h-0.8zM309.4 177.5h0.8v0.8h-0.8zM287.5 167.9h0.8v0.8h-0.8zM302.1 168.5h0.8v0.8h-0.8zM305.9 158.1h0.8v0.8h-0.8zM309.3 176.4h0.8v0.8h-0.8zM297.5 149.7h0.8v0.8h-0.8zM319.6 181.8h0.8v0.8h-0.8zM327.4 150.4h0.8v0.8h-0.8zM333.9 145.9h0.8v0.8h-0.8zM302.1 147.6h0.8v0.8h-0.8zM309.4 148.6h0.8v0.8h-0.8zM321.8 175.8h0.8v0.8h-0.8zM328.2 144.1h0.8v0.8h-0.8zM294.1 158.0h0.8v0.8h-0.8zM300.1 149.4h0.8v0.8h-0.8zM319.4 144.7h0.8v0.8h-0.8zM301.3 154.5h0.8v0.8h-0.8zM303.5 175.6h0.8v0.8h-0.8zM289.9 161.0h0.8v0.8h-0.8zM303.4 179.7h0.8v0.8h-0.8zM328.0 144.2h0.8v0.8h-0.8zM329.7 145.8h0.8v0.8h-0.8zM303.2 160.0h0.8v0.8h-0.8zM296.5 166.3h0.8v0.8h-0.8zM309.2 175.6h0.8v0.8h-0.8zM324.1 173.1h0.8v0.8h-0.8zM329.8 144.0h0.8v0.8h-0.8zM315.7 181.1h0.8v0.8h-0.8zM326.6 146.1h0.8v0.8h-0.8zM295.8 154.5h0.8v0.8h-0.8zM288.0 163.4h0.8v0.8h-0.8zM292.9 157.2h0.8v0.8h-0.8zM301.0 158.6h0.8v0.8h-0.8zM328.0 145.1h0.8v0.8h-0.8zM312.7 145.6h0.8v0.8h-0.8zM320.0 149.7h0.8v0.8h-0.8zM304.7 181.0h0.8v0.8h-0.8zM298.0 156.7h0.8v0.8h-0.8zM317.8 146.6h0.8v0.8h-0.8zM313.7 181.9h0.8v0.8h-0.8zM319.6 179.1h0.8v0.8h-0.8zM305.7 178.1h0.8v0.8h-0.8zM325.1 144.1h0.8v0.8h-0.8zM304.4 169.3h0.8v0.8h-0.8zM288.9 167.5h0.8v0.8h-0.8zM315.9 145.1h0.8v0.8h-0.8zM300.4 161.5h0.8v0.8h-0.8zM323.6 143.2h0.8v0.8h-0.8zM289.6 177.0h0.8v0.8h-0.8zM308.0 180.0h0.8v0.8h-0.8zM303.4 162.0h0.8v0.8h-0.8zM306.3 157.6h0.8v0.8h-0.8zM299.1 160.8h0.8v0.8h-0.8zM300.9 156.3h0.8v0.8h-0.8zM300.4 166.9h0.8v0.8h-0.8zM306.1 149.5h0.8v0.8h-0.8zM298.7 161.6h0.8v0.8h-0.8zM303.7 167.4h0.8v0.8h-0.8zM325.7 134.1h0.8v0.8h-0.8zM306.8 152.6h0.8v0.8h-0.8zM309.2 162.2h0.8v0.8h-0.8zM305.5 176.3h0.8v0.8h-0.8zM319.8 145.0h0.8v0.8h-0.8zM295.6 185.7h0.8v0.8h-0.8zM307.3 170.9h0.8v0.8h-0.8zM298.3 154.6h0.8v0.8h-0.8zM321.8 146.6h0.8v0.8h-0.8zM315.3 140.8h0.8v0.8h-0.8zM323.4 138.0h0.8v0.8h-0.8zM320.3 145.1h0.8v0.8h-0.8zM301.1 179.9h0.8v0.8h-0.8zM287.1 164.3h0.8v0.8h-0.8zM323.3 140.2h0.8v0.8h-0.8zM322.5 178.8h0.8v0.8h-0.8zM316.4 178.9h0.8v0.8h-0.8zM293.2 166.3h0.8v0.8h-0.8zM296.2 164.8h0.8v0.8h-0.8zM300.7 158.9h0.8v0.8h-0.8zM295.0 165.5h0.8v0.8h-0.8zM290.2 156.7h0.8v0.8h-0.8zM308.0 157.4h0.8v0.8h-0.8zM321.5 178.4h0.8v0.8h-0.8zM297.8 171.6h0.8v0.8h-0.8zM309.9 148.5h0.8v0.8h-0.8zM306.1 153.6h0.8v0.8h-0.8zM312.7 153.7h0.8v0.8h-0.8zM307.2 162.7h0.8v0.8h-0.8zM306.3 154.4h0.8v0.8h-0.8zM293.6 165.0h0.8v0.8h-0.8zM312.2 160.2h0.8v0.8h-0.8zM319.5 179.3h0.8v0.8h-0.8zM319.5 180.6h0.8v0.8h-0.8zM327.6 142.9h0.8v0.8h-0.8zM294.2 162.1h0.8v0.8h-0.8zM310.7 178.7h0.8v0.8h-0.8zM304.6 153.9h0.8v0.8h-0.8zM324.7 141.8h0.8v0.8h-0.8zM312.5 157.2h0.8v0.8h-0.8zM291.2 166.7h0.8v0.8h-0.8zM306.2 178.2h0.8v0.8h-0.8zM317.8 151.0h0.8v0.8h-0.8zM313.6 163.0h0.8v0.8h-0.8zM306.9 155.4h0.8v0.8h-0.8zM319.4 145.9h0.8v0.8h-0.8zM294.1 160.9h0.8v0.8h-0.8zM291.4 157.2h0.8v0.8h-0.8zM318.9 151.7h0.8v0.8h-0.8zM294.0 175.7h0.8v0.8h-0.8zM288.6 169.6h0.8v0.8h-0.8zM299.2 161.6h0.8v0.8h-0.8zM283.8 157.3h0.8v0.8h-0.8zM307.6 145.3h0.8v0.8h-0.8zM298.3 177.1h0.8v0.8h-0.8zM329.1 148.9h0.8v0.8h-0.8zM318.2 185.1h0.8v0.8h-0.8zM313.9 153.9h0.8v0.8h-0.8zM297.8 173.0h0.8v0.8h-0.8zM293.3 162.3h0.8v0.8h-0.8zM302.2 167.0h0.8v0.8h-0.8zM293.2 161.7h0.8v0.8h-0.8zM300.4 163.1h0.8v0.8h-0.8zM315.6 160.5h0.8v0.8h-0.8zM291.6 160.3h0.8v0.8h-0.8zM307.1 150.5h0.8v0.8h-0.8zM319.6 151.3h0.8v0.8h-0.8zM313.2 173.7h0.8v0.8h-0.8zM313.3 153.5h0.8v0.8h-0.8zM324.6 142.3h0.8v0.8h-0.8zM300.1 173.0h0.8v0.8h-0.8zM291.8 168.0h0.8v0.8h-0.8zM289.7 160.3h0.8v0.8h-0.8zM315.6 156.0h0.8v0.8h-0.8zM301.2 181.2h0.8v0.8h-0.8zM326.6 140.2h0.8v0.8h-0.8zM304.5 175.7h0.8v0.8h-0.8zM298.2 156.5h0.8v0.8h-0.8zM305.7 172.7h0.8v0.8h-0.8zM299.0 161.4h0.8v0.8h-0.8zM299.1 172.1h0.8v0.8h-0.8zM311.5 150.0h0.8v0.8h-0.8zM310.3 151.7h0.8v0.8h-0.8zM310.3 179.7h0.8v0.8h-0.8zM306.2 157.3h0.8v0.8h-0.8zM316.0 157.1h0.8v0.8h-0.8zM313.7 178.4h0.8v0.8h-0.8zM302.8 154.7h0.8v0.8h-0.8zM310.0 175.1h0.8v0.8h-0.8zM299.0 162.2h0.8v0.8h-0.8zM315.5 160.7h0.8v0.8h-0.8zM293.5 156.3h0.8v0.8h-0.8zM312.0 142.4h0.8v0.8h-0.8zM330.1 138.0h0.8v0.8h-0.8zM316.6 155.5h0.8v0.8h-0.8zM298.8 177.9h0.8v0.8h-0.8zM326.6 145.3h0.8v0.8h-0.8zM305.8 156.6h0.8v0.8h-0.8zM326.9 174.5h0.8v0.8h-0.8zM311.1 154.1h0.8v0.8h-0.8zM304.4 161.0h0.8v0.8h-0.8zM305.1 180.4h0.8v0.8h-0.8zM314.6 152.6h0.8v0.8h-0.8zM320.3 163.5h0.8v0.8h-0.8zM306.7 178.3h0.8v0.8h-0.8zM299.0 178.5h0.8v0.8h-0.8zM314.5 151.2h0.8v0.8h-0.8zM304.5 160.1h0.8v0.8h-0.8zM298.3 174.7h0.8v0.8h-0.8zM328.0 144.2h0.8v0.8h-0.8zM290.2 165.7h0.8v0.8h-0.8zM299.3 179.0h0.8v0.8h-0.8zM305.0 170.5h0.8v0.8h-0.8zM296.2 174.0h0.8v0.8h-0.8zM297.9 160.8h0.8v0.8h-0.8zM320.6 149.4h0.8v0.8h-0.8zM301.8 159.0h0.8v0.8h-0.8zM317.0 146.5h0.8v0.8h-0.8zM285.2 173.3h0.8v0.8h-0.8zM318.8 156.7h0.8v0.8h-0.8zM311.6 150.3h0.8v0.8h-0.8zM325.6 143.9h0.8v0.8h-0.8zM310.0 151.0h0.8v0.8h-0.8zM296.0 155.6h0.8v0.8h-0.8zM291.3 161.6h0.8v0.8h-0.8zM319.3 175.5h0.8v0.8h-0.8zM299.6 153.1h0.8v0.8h-0.8zM301.2 153.4h0.8v0.8h-0.8zM300.7 181.1h0.8v0.8h-0.8zM309.2 177.7h0.8v0.8h-0.8zM288.1 169.6h0.8v0.8h-0.8zM287.9 170.1h0.8v0.8h-0.8zM301.9 182.4h0.8v0.8h-0.8zM305.6 162.8h0.8v0.8h-0.8zM314.8 150.2h0.8v0.8h-0.8zM321.5 184.3h0.8v0.8h-0.8zM298.8 175.2h0.8v0.8h-0.8zM290.6 169.9h0.8v0.8h-0.8zM315.9 178.2h0.8v0.8h-0.8zM304.2 152.8h0.8v0.8h-0.8zM298.9 175.9h0.8v0.8h-0.8zM298.9 156.2h0.8v0.8h-0.8zM293.3 170.8h0.8v0.8h-0.8zM293.3 165.6h0.8v0.8h-0.8zM296.1 155.1h0.8v0.8h-0.8zM288.4 150.8h0.8v0.8h-0.8zM302.3 181.0h0.8v0.8h-0.8zM321.5 150.1h0.8v0.8h-0.8zM301.0 158.9h0.8v0.8h-0.8zM330.8 143.2h0.8v0.8h-0.8zM299.8 170.4h0.8v0.8h-0.8zM294.6 157.4h0.8v0.8h-0.8zM284.4 160.8h0.8v0.8h-0.8zM307.5 176.1h0.8v0.8h-0.8zM301.7 173.7h0.8v0.8h-0.8zM318.8 182.4h0.8v0.8h-0.8zM308.0 161.8h0.8v0.8h-0.8zM298.8 162.5h0.8v0.8h-0.8zM286.5 167.2h0.8v0.8h-0.8zM303.9 163.9h0.8v0.8h-0.8zM296.1 168.7h0.8v0.8h-0.8zM302.3 164.4h0.8v0.8h-0.8zM321.7 150.7h0.8v0.8h-0.8zM288.9 169.1h0.8v0.8h-0.8zM312.8 179.6h0.8v0.8h-0.8zM294.7 166.3h0.8v0.8h-0.8zM301.9 166.6h0.8v0.8h-0.8zM314.1 163.1h0.8v0.8h-0.8zM329.6 145.3h0.8v0.8h-0.8zM299.1 164.9h0.8v0.8h-0.8zM302.3 159.4h0.8v0.8h-0.8zM315.7 155.0h0.8v0.8h-0.8zM311.3 158.8h0.8v0.8h-0.8zM299.7 178.5h0.8v0.8h-0.8zM301.0 158.9h0.8v0.8h-0.8zM316.3 156.6h0.8v0.8h-0.8zM309.2 184.0h0.8v0.8h-0.8zM314.4 178.3h0.8v0.8h-0.8zM299.7 157.5h0.8v0.8h-0.8zM297.5 164.2h0.8v0.8h-0.8zM327.8 147.5h0.8v0.8h-0.8zM329.6 147.0h0.8v0.8h-0.8zM300.3 178.2h0.8v0.8h-0.8zM296.7 160.5h0.8v0.8h-0.8zM300.6 154.0h0.8v0.8h-0.8zM295.6 159.1h0.8v0.8h-0.8zM296.5 159.2h0.8v0.8h-0.8zM304.7 163.0h0.8v0.8h-0.8zM295.0 176.5h0.8v0.8h-0.8zM299.1 173.0h0.8v0.8h-0.8zM325.7 139.3h0.8v0.8h-0.8zM299.2 173.2h0.8v0.8h-0.8zM298.8 158.4h0.8v0.8h-0.8zM291.8 165.1h0.8v0.8h-0.8zM298.5 159.8h0.8v0.8h-0.8zM285.8 156.1h0.8v0.8h-0.8zM297.0 171.8h0.8v0.8h-0.8zM310.9 151.3h0.8v0.8h-0.8zM293.7 163.3h0.8v0.8h-0.8zM318.6 179.7h0.8v0.8h-0.8zM317.2 155.3h0.8v0.8h-0.8zM305.7 168.5h0.8v0.8h-0.8zM300.2 176.4h0.8v0.8h-0.8zM297.3 154.1h0.8v0.8h-0.8zM298.0 177.0h0.8v0.8h-0.8zM321.9 142.7h0.8v0.8h-0.8zM313.5 153.5h0.8v0.8h-0.8zM297.7 158.3h0.8v0.8h-0.8zM303.9 181.9h0.8v0.8h-0.8zM320.8 147.0h0.8v0.8h-0.8zM302.8 154.7h0.8v0.8h-0.8zM297.2 166.3h0.8v0.8h-0.8zM333.8 149.6h0.8v0.8h-0.8zM301.4 174.7h0.8v0.8h-0.8zM306.9 147.4h0.8v0.8h-0.8zM330.1 137.8h0.8v0.8h-0.8zM291.3 167.4h0.8v0.8h-0.8zM316.6 150.7h0.8v0.8h-0.8zM326.5 131.7h0.8v0.8h-0.8zM287.0 174.3h0.8v0.8h-0.8zM292.0 163.5h0.8v0.8h-0.8zM300.7 177.5h0.8v0.8h-0.8zM298.3 173.2h0.8v0.8h-0.8zM313.1 139.4h0.8v0.8h-0.8zM304.9 171.3h0.8v0.8h-0.8zM314.8 183.0h0.8v0.8h-0.8zM317.6 177.6h0.8v0.8h-0.8zM312.1 151.0h0.8v0.8h-0.8zM307.9 175.8h0.8v0.8h-0.8zM317.8 142.2h0.8v0.8h-0.8zM312.4 161.5h0.8v0.8h-0.8zM310.1 181.6h0.8v0.8h-0.8zM318.3 149.3h0.8v0.8h-0.8zM315.3 151.9h0.8v0.8h-0.8zM298.7 175.7h0.8v0.8h-0.8zM306.6 153.2h0.8v0.8h-0.8zM321.8 175.1h0.8v0.8h-0.8zM281.5 164.9h0.8v0.8h-0.8zM304.5 176.4h0.8v0.8h-0.8zM289.7 161.0h0.8v0.8h-0.8zM331.4 134.3h0.8v0.8h-0.8zM313.7 147.3h0.8v0.8h-0.8zM299.7 159.0h0.8v0.8h-0.8zM305.9 171.9h0.8v0.8h-0.8zM294.8 159.2h0.8v0.8h-0.8zM304.9 176.2h0.8v0.8h-0.8zM318.3 181.2h0.8v0.8h-0.8zM301.4 177.4h0.8v0.8h-0.8zM323.4 152.5h0.8v0.8h-0.8zM298.9 164.4h0.8v0.8h-0.8zM301.3 160.4h0.8v0.8h-0.8zM293.7 165.6h0.8v0.8h-0.8zM299.7 163.0h0.8v0.8h-0.8zM304.8 158.8h0.8v0.8h-0.8zM306.1 159.3h0.8v0.8h-0.8zM304.1 170.8h0.8v0.8h-0.8zM324.9 152.0h0.8v0.8h-0.8zM300.0 181.8h0.8v0.8h-0.8zM314.1 155.6h0.8v0.8h-0.8zM305.3 175.8h0.8v0.8h-0.8zM320.1 142.1h0.8v0.8h-0.8zM286.9 158.6h0.8v0.8h-0.8zM290.7 182.9h0.8v0.8h-0.8zM307.7 175.1h0.8v0.8h-0.8zM299.8 160.4h0.8v0.8h-0.8zM321.4 149.8h0.8v0.8h-0.8zM317.1 179.7h0.8v0.8h-0.8zM292.3 176.9h0.8v0.8h-0.8zM296.2 156.4h0.8v0.8h-0.8zM296.4 159.1h0.8v0.8h-0.8zM289.2 173.9h0.8v0.8h-0.8zM307.0 180.4h0.8v0.8h-0.8zM317.6 183.0h0.8v0.8h-0.8zM307.2 166.2h0.8v0.8h-0.8zM323.8 175.5h0.8v0.8h-0.8zM280.6 163.8h0.8v0.8h-0.8zM297.2 162.3h0.8v0.8h-0.8zM300.3 168.8h0.8v0.8h-0.8zM314.8 161.9h0.8v0.8h-0.8zM295.9 159.4h0.8v0.8h-0.8zM320.7 149.9h0.8v0.8h-0.8zM313.7 162.5h0.8v0.8h-0.8zM289.8 164.2h0.8v0.8h-0.8zM293.7 149.0h0.8v0.8h-0.8zM325.6 140.6h0.8v0.8h-0.8zM327.6 138.8h0.8v0.8h-0.8zM320.6 176.1h0.8v0.8h-0.8zM296.0 168.2h0.8v0.8h-0.8zM302.7 154.3h0.8v0.8h-0.8zM306.9 176.9h0.8v0.8h-0.8zM279.3 165.1h0.8v0.8h-0.8zM323.2 143.1h0.8v0.8h-0.8zM313.5 171.6h0.8v0.8h-0.8zM300.2 170.2h0.8v0.8h-0.8zM301.2 157.4h0.8v0.8h-0.8zM325.1 172.5h0.8v0.8h-0.8zM316.0 150.7h0.8v0.8h-0.8zM319.7 176.1h0.8v0.8h-0.8zM290.2 170.3h0.8v0.8h-0.8zM302.3 175.9h0.8v0.8h-0.8zM291.2 168.5h0.8v0.8h-0.8zM304.1 150.1h0.8v0.8h-0.8zM299.7 159.3h0.8v0.8h-0.8zM322.4 178.1h0.8v0.8h-0.8zM323.4 152.6h0.8v0.8h-0.8zM304.7 160.2h0.8v0.8h-0.8zM298.8 157.6h0.8v0.8h-0.8zM303.3 173.7h0.8v0.8h-0.8zM296.1 163.6h0.8v0.8h-0.8zM312.2 152.7h0.8v0.8h-0.8zM306.8 183.9h0.8v0.8h-0.8zM295.4 165.7h0.8v0.8h-0.8zM292.5 169.6h0.8v0.8h-0.8zM302.1 154.0h0.8v0.8h-0.8zM311.4 156.6h0.8v0.8h-0.8zM315.7 147.2h0.8v0.8h-0.8zM304.8 177.8h0.8v0.8h-0.8zM298.2 176.9h0.8v0.8h-0.8zM324.4 150.0h0.8v0.8h-0.8zM303.3 150.1h0.8v0.8h-0.8zM301.5 163.7h0.8v0.8h-0.8zM298.9 168.9h0.8v0.8h-0.8zM307.8 180.4h0.8v0.8h-0.8zM310.9 149.0h0.8v0.8h-0.8zM294.1 160.0h0.8v0.8h-0.8zM332.8 139.3h0.8v0.8h-0.8zM314.1 149.5h0.8v0.8h-0.8zM290.4 168.0h0.8v0.8h-0.8zM304.9 158.5h0.8v0.8h-0.8zM294.9 160.2h0.8v0.8h-0.8zM330.2 151.7h0.8v0.8h-0.8zM319.1 175.0h0.8v0.8h-0.8zM292.4 161.7h0.8v0.8h-0.8zM303.6 151.0h0.8v0.8h-0.8zM314.3 159.8h0.8v0.8h-0.8zM295.0 169.7h0.8v0.8h-0.8zM303.2 177.7h0.8v0.8h-0.8zM294.5 163.7h0.8v0.8h-0.8zM310.2 162.4h0.8v0.8h-0.8zM298.8 155.5h0.8v0.8h-0.8zM290.3 166.9h0.8v0.8h-0.8zM322.3 180.1h0.8v0.8h-0.8zM291.1 164.2h0.8v0.8h-0.8zM298.7 181.7h0.8v0.8h-0.8zM292.0 175.8h0.8v0.8h-0.8zM319.1 157.2h0.8v0.8h-0.8zM311.4 157.1h0.8v0.8h-0.8zM321.9 139.0h0.8v0.8h-0.8zM293.5 161.1h0.8v0.8h-0.8zM310.0 155.0h0.8v0.8h-0.8zM303.1 177.4h0.8v0.8h-0.8zM302.3 150.9h0.8v0.8h-0.8zM300.8 159.2h0.8v0.8h-0.8zM303.0 156.7h0.8v0.8h-0.8zM302.8 180.1h0.8v0.8h-0.8zM313.4 153.9h0.8v0.8h-0.8zM317.9 144.5h0.8v0.8h-0.8zM305.1 157.5h0.8v0.8h-0.8zM300.1 168.8h0.8v0.8h-0.8zM315.0 155.7h0.8v0.8h-0.8zM320.8 147.7h0.8v0.8h-0.8zM309.3 159.5h0.8v0.8h-0.8zM317.9 147.6h0.8v0.8h-0.8zM295.1 163.4h0.8v0.8h-0.8zM333.3 136.1h0.8v0.8h-0.8zM316.8 151.5h0.8v0.8h-0.8zM323.1 145.7h0.8v0.8h-0.8zM304.6 157.1h0.8v0.8h-0.8zM322.7 176.4h0.8v0.8h-0.8zM314.7 155.4h0.8v0.8h-0.8zM293.3 164.4h0.8v0.8h-0.8zM303.6 178.0h0.8v0.8h-0.8zM321.9 148.8h0.8v0.8h-0.8zM300.6 159.3h0.8v0.8h-0.8zM331.2 146.0h0.8v0.8h-0.8zM317.7 147.6h0.8v0.8h-0.8zM317.3 144.3h0.8v0.8h-0.8zM322.4 172.1h0.8v0.8h-0.8zM300.6 152.3h0.8v0.8h-0.8zM309.2 156.0h0.8v0.8h-0.8zM290.8 165.2h0.8v0.8h-0.8zM300.2 165.1h0.8v0.8h-0.8zM283.6 173.3h0.8v0.8h-0.8zM307.7 157.6h0.8v0.8h-0.8zM282.6 164.8h0.8v0.8h-0.8zM304.1 175.3h0.8v0.8h-0.8zM304.6 153.9h0.8v0.8h-0.8zM298.2 157.4h0.8v0.8h-0.8zM295.3 176.9h0.8v0.8h-0.8zM294.4 174.8h0.8v0.8h-0.8zM310.4 150.7h0.8v0.8h-0.8zM299.1 158.7h0.8v0.8h-0.8zM312.3 157.0h0.8v0.8h-0.8zM326.1 143.8h0.8v0.8h-0.8zM304.9 170.0h0.8v0.8h-0.8zM292.0 172.2h0.8v0.8h-0.8zM296.9 173.8h0.8v0.8h-0.8zM321.0 155.5h0.8v0.8h-0.8zM289.7 157.9h0.8v0.8h-0.8zM325.1 180.5h0.8v0.8h-0.8zM290.3 167.8h0.8v0.8h-0.8zM308.7 150.7h0.8v0.8h-0.8zM319.1 172.3h0.8v0.8h-0.8zM308.0 154.9h0.8v0.8h-0.8zM298.0 174.2h0.8v0.8h-0.8zM298.9 181.5h0.8v0.8h-0.8zM304.7 177.5h0.8v0.8h-0.8zM301.2 166.2h0.8v0.8h-0.8zM326.9 148.7h0.8v0.8h-0.8zM281.9 162.3h0.8v0.8h-0.8zM299.2 173.4h0.8v0.8h-0.8zM306.4 156.0h0.8v0.8h-0.8zM319.9 138.0h0.8v0.8h-0.8zM320.4 167.2h0.8v0.8h-0.8zM303.9 165.4h0.8v0.8h-0.8zM292.8 155.0h0.8v0.8h-0.8zM304.8 153.3h0.8v0.8h-0.8zM324.9 138.1h0.8v0.8h-0.8zM301.1 156.8h0.8v0.8h-0.8zM314.1 154.1h0.8v0.8h-0.8zM290.5 180.5h0.8v0.8h-0.8zM313.7 166.3h0.8v0.8h-0.8zM321.1 144.2h0.8v0.8h-0.8zM310.6 181.3h0.8v0.8h-0.8zM314.2 150.5h0.8v0.8h-0.8zM301.3 165.4h0.8v0.8h-0.8zM302.3 169.5h0.8v0.8h-0.8zM294.6 159.5h0.8v0.8h-0.8zM329.8 143.5h0.8v0.8h-0.8zM304.6 156.6h0.8v0.8h-0.8zM289.1 156.0h0.8v0.8h-0.8zM321.8 142.4h0.8v0.8h-0.8zM301.2 152.9h0.8v0.8h-0.8zM302.0 166.0h0.8v0.8h-0.8zM302.2 149.2h0.8v0.8h-0.8zM295.3 147.9h0.8v0.8h-0.8zM323.1 145.3h0.8v0.8h-0.8zM313.0 153.0h0.8v0.8h-0.8zM285.3 162.8h0.8v0.8h-0.8zM301.0 173.0h0.8v0.8h-0.8zM307.3 159.3h0.8v0.8h-0.8zM287.3 174.5h0.8v0.8h-0.8zM312.5 155.3h0.8v0.8h-0.8zM310.6 159.4h0.8v0.8h-0.8zM295.5 162.8h0.8v0.8h-0.8zM304.0 177.1h0.8v0.8h-0.8zM299.7 160.8h0.8v0.8h-0.8zM298.3 178.9h0.8v0.8h-0.8zM306.6 153.4h0.8v0.8h-0.8zM306.0 164.5h0.8v0.8h-0.8zM297.1 167.2h0.8v0.8h-0.8zM305.9 177.5h0.8v0.8h-0.8zM300.0 162.3h0.8v0.8h-0.8zM294.1 173.2h0.8v0.8h-0.8zM293.2 169.0h0.8v0.8h-0.8zM319.2 140.7h0.8v0.8h-0.8zM301.3 180.6h0.8v0.8h-0.8zM307.6 153.9h0.8v0.8h-0.8zM307.2 156.1h0.8v0.8h-0.8zM312.3 148.2h0.8v0.8h-0.8zM312.0 161.3h0.8v0.8h-0.8zM303.3 148.0h0.8v0.8h-0.8zM296.6 180.2h0.8v0.8h-0.8zM289.9 162.1h0.8v0.8h-0.8zM308.9 170.2h0.8v0.8h-0.8zM320.5 182.8h0.8v0.8h-0.8zM305.4 157.2h0.8v0.8h-0.8zM319.9 146.6h0.8v0.8h-0.8z" fill="#1a2ee8" opacity="0.72"/>
<g transform="translate(294.5 177.6) rotate(0)" filter="url(#b05)">
<ellipse cx="3" cy="-0.5" rx="9.0" ry="6.48" fill="#2040ff" opacity="0.8" filter="url(#b1)"/>
<ellipse cx="1.5" cy="-0.3" rx="7.2" ry="5.9399999999999995" fill="#2448ff"/>
<ellipse cx="0.8" cy="0" rx="5.22" ry="4.5" fill="#22b8ec"/>
<ellipse cx="0" cy="0" rx="3.87" ry="3.42" fill="#7fdc4c"/>
<ellipse cx="0" cy="0" rx="2.52" ry="2.25" fill="#f2e41c"/>
<ellipse cx="0" cy="0" rx="1.4400000000000002" ry="1.35" fill="#e6300c"/>
</g></g></svg>
<line x1="305.50" y1="125.80" x2="305.50" y2="195.80" stroke="#b4b4b4" stroke-width="0.9"/>
<line x1="278.30" y1="166.80" x2="348.80" y2="166.80" stroke="#b4b4b4" stroke-width="0.9"/>
<rect x="278.3" y="125.8" width="70.5" height="70" fill="none" stroke="#bcbcbc" stroke-width="0.9"/>
<path d="M278.3 195.8v1.5M281.8 195.8v1.5M285.4 195.8v1.5M288.9 195.8v1.5M292.4 195.8v1.5M295.9 195.8v1.5M299.4 195.8v1.5M303.0 195.8v1.5M306.5 195.8v1.5M310.0 195.8v1.5M313.6 195.8v1.5M317.1 195.8v1.5M320.6 195.8v1.5M324.1 195.8v1.5M327.7 195.8v1.5M331.2 195.8v1.5M334.7 195.8v1.5M338.2 195.8v1.5M341.8 195.8v1.5M345.3 195.8v1.5M348.8 195.8v1.5M278.3 125.8h-1.5M278.3 129.3h-1.5M278.3 132.8h-1.5M278.3 136.3h-1.5M278.3 139.8h-1.5M278.3 143.3h-1.5M278.3 146.8h-1.5M278.3 150.3h-1.5M278.3 153.8h-1.5M278.3 157.3h-1.5M278.3 160.8h-1.5M278.3 164.3h-1.5M278.3 167.8h-1.5M278.3 171.3h-1.5M278.3 174.8h-1.5M278.3 178.3h-1.5M278.3 181.8h-1.5M278.3 185.3h-1.5M278.3 188.8h-1.5M278.3 192.3h-1.5M278.3 195.8h-1.5" stroke="#c8c8c8" stroke-width="0.6"/>
<text x="290.70" y="137.00" font-size="7.7" text-anchor="middle" stroke="#1a1a1a">0.93</text>
<text x="317.70" y="137.00" font-size="7.7" text-anchor="middle" stroke="#1a1a1a">5.35</text>
<text x="290.70" y="192.70" font-size="7.7" text-anchor="middle" stroke="#1a1a1a">89.4</text>
<text x="317.70" y="192.70" font-size="7.7" text-anchor="middle" stroke="#1a1a1a">4.27</text>
<svg x="367.7" y="126" width="70" height="70.2" overflow="hidden"><g transform="translate(-367.7 -126)">
<g filter="url(#b15)" opacity="1.00">
<ellipse cx="0" cy="0" rx="18" ry="5" fill="#2038ff" transform="translate(400.2 156.3) rotate(-30)"/>
<ellipse cx="393.2" cy="180.8" rx="11" ry="4.5" fill="#2038ff"/>
<ellipse cx="387.2" cy="166.3" rx="9" ry="6" fill="#2038ff" opacity="0.7"/>
</g>
<path d="M404.5 143.0h0.8v0.8h-0.8zM390.9 156.1h0.8v0.8h-0.8zM403.7 155.4h0.8v0.8h-0.8zM392.8 160.5h0.8v0.8h-0.8zM412.0 146.5h0.8v0.8h-0.8zM402.7 184.5h0.8v0.8h-0.8zM396.7 161.2h0.8v0.8h-0.8zM409.2 148.7h0.8v0.8h-0.8zM403.3 151.7h0.8v0.8h-0.8zM413.9 146.2h0.8v0.8h-0.8zM391.2 158.3h0.8v0.8h-0.8zM416.3 149.6h0.8v0.8h-0.8zM414.0 153.0h0.8v0.8h-0.8zM398.7 151.7h0.8v0.8h-0.8zM396.2 158.3h0.8v0.8h-0.8zM400.8 164.4h0.8v0.8h-0.8zM391.3 170.1h0.8v0.8h-0.8zM401.5 181.4h0.8v0.8h-0.8zM380.7 171.7h0.8v0.8h-0.8zM410.7 183.3h0.8v0.8h-0.8zM403.7 153.2h0.8v0.8h-0.8zM378.8 178.0h0.8v0.8h-0.8zM392.8 179.7h0.8v0.8h-0.8zM384.0 169.5h0.8v0.8h-0.8zM415.9 149.5h0.8v0.8h-0.8zM409.2 185.7h0.8v0.8h-0.8zM396.8 148.9h0.8v0.8h-0.8zM371.9 167.5h0.8v0.8h-0.8zM400.8 157.4h0.8v0.8h-0.8zM380.2 184.6h0.8v0.8h-0.8zM392.5 179.4h0.8v0.8h-0.8zM393.6 163.3h0.8v0.8h-0.8zM388.5 184.1h0.8v0.8h-0.8zM393.6 178.5h0.8v0.8h-0.8zM399.9 159.7h0.8v0.8h-0.8zM413.4 154.9h0.8v0.8h-0.8zM405.3 149.0h0.8v0.8h-0.8zM381.6 159.8h0.8v0.8h-0.8zM397.1 162.6h0.8v0.8h-0.8zM389.1 166.1h0.8v0.8h-0.8zM409.8 180.4h0.8v0.8h-0.8zM396.0 152.0h0.8v0.8h-0.8zM412.3 150.5h0.8v0.8h-0.8zM408.6 153.7h0.8v0.8h-0.8zM377.4 168.6h0.8v0.8h-0.8zM420.1 150.1h0.8v0.8h-0.8zM388.7 180.8h0.8v0.8h-0.8zM402.7 160.8h0.8v0.8h-0.8zM380.2 173.5h0.8v0.8h-0.8zM420.5 145.3h0.8v0.8h-0.8zM391.5 156.6h0.8v0.8h-0.8zM372.2 166.1h0.8v0.8h-0.8zM420.6 147.6h0.8v0.8h-0.8zM402.9 182.9h0.8v0.8h-0.8zM382.5 170.9h0.8v0.8h-0.8zM412.2 147.3h0.8v0.8h-0.8zM388.5 183.0h0.8v0.8h-0.8zM415.6 148.6h0.8v0.8h-0.8zM385.4 167.6h0.8v0.8h-0.8zM399.9 176.6h0.8v0.8h-0.8zM390.0 157.1h0.8v0.8h-0.8zM387.1 184.1h0.8v0.8h-0.8zM399.5 154.4h0.8v0.8h-0.8zM402.5 152.8h0.8v0.8h-0.8zM411.3 158.2h0.8v0.8h-0.8zM415.4 145.2h0.8v0.8h-0.8zM399.0 181.2h0.8v0.8h-0.8zM422.4 150.7h0.8v0.8h-0.8zM403.2 156.5h0.8v0.8h-0.8zM408.8 183.6h0.8v0.8h-0.8zM403.5 156.2h0.8v0.8h-0.8zM380.2 165.7h0.8v0.8h-0.8zM395.7 168.2h0.8v0.8h-0.8zM395.1 159.2h0.8v0.8h-0.8zM418.0 153.6h0.8v0.8h-0.8zM395.3 157.5h0.8v0.8h-0.8zM374.5 173.5h0.8v0.8h-0.8zM400.4 175.2h0.8v0.8h-0.8zM387.8 179.0h0.8v0.8h-0.8zM402.8 150.9h0.8v0.8h-0.8zM390.3 177.6h0.8v0.8h-0.8zM398.8 174.7h0.8v0.8h-0.8zM404.4 162.9h0.8v0.8h-0.8zM396.7 157.2h0.8v0.8h-0.8zM411.1 151.0h0.8v0.8h-0.8zM383.8 173.7h0.8v0.8h-0.8zM421.0 138.4h0.8v0.8h-0.8zM400.5 157.1h0.8v0.8h-0.8zM394.3 165.1h0.8v0.8h-0.8zM403.1 160.3h0.8v0.8h-0.8zM391.9 162.9h0.8v0.8h-0.8zM406.1 144.2h0.8v0.8h-0.8zM413.9 186.7h0.8v0.8h-0.8zM401.8 182.9h0.8v0.8h-0.8zM389.7 163.6h0.8v0.8h-0.8zM407.2 155.1h0.8v0.8h-0.8zM396.3 162.9h0.8v0.8h-0.8zM393.8 178.5h0.8v0.8h-0.8zM420.6 151.4h0.8v0.8h-0.8zM402.7 168.6h0.8v0.8h-0.8zM404.9 154.3h0.8v0.8h-0.8zM386.1 164.2h0.8v0.8h-0.8zM405.2 179.9h0.8v0.8h-0.8zM369.6 167.8h0.8v0.8h-0.8zM385.6 164.5h0.8v0.8h-0.8zM383.4 175.8h0.8v0.8h-0.8zM388.0 158.5h0.8v0.8h-0.8zM395.1 169.8h0.8v0.8h-0.8zM402.2 155.7h0.8v0.8h-0.8zM397.6 164.5h0.8v0.8h-0.8zM396.2 152.6h0.8v0.8h-0.8zM398.9 163.5h0.8v0.8h-0.8zM398.1 155.8h0.8v0.8h-0.8zM381.4 173.3h0.8v0.8h-0.8zM409.4 154.6h0.8v0.8h-0.8zM396.7 151.5h0.8v0.8h-0.8zM390.7 180.4h0.8v0.8h-0.8zM420.9 140.7h0.8v0.8h-0.8zM388.2 170.3h0.8v0.8h-0.8zM421.4 145.9h0.8v0.8h-0.8zM390.3 179.8h0.8v0.8h-0.8zM423.6 143.6h0.8v0.8h-0.8zM414.1 150.8h0.8v0.8h-0.8zM376.1 158.1h0.8v0.8h-0.8zM409.6 155.8h0.8v0.8h-0.8zM380.6 168.3h0.8v0.8h-0.8zM409.3 154.4h0.8v0.8h-0.8zM413.2 144.1h0.8v0.8h-0.8zM397.5 160.3h0.8v0.8h-0.8zM373.0 176.7h0.8v0.8h-0.8zM401.8 180.4h0.8v0.8h-0.8zM391.1 161.6h0.8v0.8h-0.8zM393.7 185.6h0.8v0.8h-0.8zM396.0 177.5h0.8v0.8h-0.8zM406.4 154.6h0.8v0.8h-0.8zM383.2 168.5h0.8v0.8h-0.8zM400.7 167.3h0.8v0.8h-0.8zM392.5 181.9h0.8v0.8h-0.8zM387.7 160.6h0.8v0.8h-0.8zM413.1 154.7h0.8v0.8h-0.8zM397.8 178.4h0.8v0.8h-0.8zM397.4 168.0h0.8v0.8h-0.8zM387.8 186.6h0.8v0.8h-0.8zM384.7 165.4h0.8v0.8h-0.8zM382.0 173.3h0.8v0.8h-0.8zM397.0 174.3h0.8v0.8h-0.8zM416.3 148.4h0.8v0.8h-0.8zM399.5 153.6h0.8v0.8h-0.8zM391.2 160.3h0.8v0.8h-0.8zM405.9 178.7h0.8v0.8h-0.8zM379.1 167.2h0.8v0.8h-0.8zM409.6 150.6h0.8v0.8h-0.8zM410.0 153.9h0.8v0.8h-0.8zM397.6 182.5h0.8v0.8h-0.8zM417.5 152.4h0.8v0.8h-0.8zM387.8 183.7h0.8v0.8h-0.8zM401.4 154.9h0.8v0.8h-0.8zM387.3 164.6h0.8v0.8h-0.8zM409.2 175.8h0.8v0.8h-0.8zM409.7 153.2h0.8v0.8h-0.8zM403.8 155.7h0.8v0.8h-0.8zM415.6 154.2h0.8v0.8h-0.8zM393.8 162.1h0.8v0.8h-0.8zM391.5 180.4h0.8v0.8h-0.8zM388.3 166.8h0.8v0.8h-0.8zM399.8 170.0h0.8v0.8h-0.8zM407.7 179.6h0.8v0.8h-0.8zM389.7 171.4h0.8v0.8h-0.8zM404.4 148.1h0.8v0.8h-0.8zM396.1 165.5h0.8v0.8h-0.8zM401.5 181.3h0.8v0.8h-0.8zM390.0 160.0h0.8v0.8h-0.8zM397.1 162.6h0.8v0.8h-0.8zM418.6 141.2h0.8v0.8h-0.8zM388.2 166.3h0.8v0.8h-0.8zM391.8 170.6h0.8v0.8h-0.8zM404.5 154.5h0.8v0.8h-0.8zM388.6 176.8h0.8v0.8h-0.8zM412.7 144.4h0.8v0.8h-0.8zM380.6 168.8h0.8v0.8h-0.8zM387.9 178.4h0.8v0.8h-0.8zM391.2 155.1h0.8v0.8h-0.8zM387.3 167.7h0.8v0.8h-0.8zM397.4 169.3h0.8v0.8h-0.8zM393.3 164.4h0.8v0.8h-0.8zM418.8 145.0h0.8v0.8h-0.8zM407.6 149.9h0.8v0.8h-0.8zM396.8 169.1h0.8v0.8h-0.8zM383.9 169.9h0.8v0.8h-0.8zM389.7 162.2h0.8v0.8h-0.8zM392.7 177.9h0.8v0.8h-0.8zM395.8 182.9h0.8v0.8h-0.8zM385.2 168.4h0.8v0.8h-0.8zM406.3 176.4h0.8v0.8h-0.8zM393.4 177.7h0.8v0.8h-0.8zM403.9 156.4h0.8v0.8h-0.8zM417.0 148.8h0.8v0.8h-0.8zM394.8 160.3h0.8v0.8h-0.8zM383.1 165.1h0.8v0.8h-0.8zM393.2 165.9h0.8v0.8h-0.8zM410.3 148.5h0.8v0.8h-0.8zM393.1 168.3h0.8v0.8h-0.8zM401.7 171.8h0.8v0.8h-0.8zM423.0 144.1h0.8v0.8h-0.8zM401.7 153.6h0.8v0.8h-0.8zM397.7 168.0h0.8v0.8h-0.8zM388.9 182.9h0.8v0.8h-0.8zM392.4 158.3h0.8v0.8h-0.8zM409.9 179.6h0.8v0.8h-0.8zM421.5 151.8h0.8v0.8h-0.8zM392.4 166.0h0.8v0.8h-0.8zM396.6 154.1h0.8v0.8h-0.8zM386.6 167.9h0.8v0.8h-0.8zM389.5 162.5h0.8v0.8h-0.8zM392.6 182.2h0.8v0.8h-0.8zM401.8 147.9h0.8v0.8h-0.8zM399.3 176.8h0.8v0.8h-0.8zM418.0 142.8h0.8v0.8h-0.8zM395.7 180.6h0.8v0.8h-0.8zM398.1 178.2h0.8v0.8h-0.8zM381.6 166.7h0.8v0.8h-0.8zM376.9 167.2h0.8v0.8h-0.8zM404.9 155.9h0.8v0.8h-0.8zM389.1 180.7h0.8v0.8h-0.8zM386.3 167.0h0.8v0.8h-0.8zM392.7 183.4h0.8v0.8h-0.8zM389.5 159.7h0.8v0.8h-0.8zM382.7 167.8h0.8v0.8h-0.8zM407.3 178.5h0.8v0.8h-0.8zM386.4 166.5h0.8v0.8h-0.8zM385.5 159.2h0.8v0.8h-0.8zM400.8 181.2h0.8v0.8h-0.8zM401.0 156.8h0.8v0.8h-0.8zM400.9 182.4h0.8v0.8h-0.8zM400.1 167.1h0.8v0.8h-0.8zM386.0 160.5h0.8v0.8h-0.8zM396.3 180.6h0.8v0.8h-0.8zM391.9 173.3h0.8v0.8h-0.8zM413.4 177.3h0.8v0.8h-0.8zM404.0 181.7h0.8v0.8h-0.8zM386.5 182.2h0.8v0.8h-0.8zM399.7 181.4h0.8v0.8h-0.8zM403.6 149.6h0.8v0.8h-0.8zM420.1 152.5h0.8v0.8h-0.8zM389.4 165.0h0.8v0.8h-0.8zM383.1 169.2h0.8v0.8h-0.8zM402.2 151.7h0.8v0.8h-0.8zM390.9 170.1h0.8v0.8h-0.8zM405.4 160.2h0.8v0.8h-0.8zM396.2 158.3h0.8v0.8h-0.8zM410.9 150.5h0.8v0.8h-0.8zM388.6 168.1h0.8v0.8h-0.8zM379.1 166.3h0.8v0.8h-0.8zM401.3 157.6h0.8v0.8h-0.8zM403.3 156.5h0.8v0.8h-0.8zM397.2 159.6h0.8v0.8h-0.8zM401.7 182.7h0.8v0.8h-0.8zM388.6 164.4h0.8v0.8h-0.8zM397.2 152.7h0.8v0.8h-0.8zM407.6 157.7h0.8v0.8h-0.8zM390.7 177.4h0.8v0.8h-0.8zM386.7 172.9h0.8v0.8h-0.8zM387.2 162.5h0.8v0.8h-0.8zM378.7 166.5h0.8v0.8h-0.8zM402.4 150.5h0.8v0.8h-0.8zM394.7 180.6h0.8v0.8h-0.8zM396.2 163.1h0.8v0.8h-0.8zM410.4 136.0h0.8v0.8h-0.8zM411.7 146.3h0.8v0.8h-0.8zM400.5 158.7h0.8v0.8h-0.8zM420.1 150.4h0.8v0.8h-0.8zM412.1 183.5h0.8v0.8h-0.8zM396.5 157.9h0.8v0.8h-0.8zM378.7 161.6h0.8v0.8h-0.8zM405.7 155.5h0.8v0.8h-0.8zM400.8 180.1h0.8v0.8h-0.8zM407.5 183.3h0.8v0.8h-0.8zM402.3 177.9h0.8v0.8h-0.8zM411.2 144.3h0.8v0.8h-0.8zM376.4 165.6h0.8v0.8h-0.8zM387.0 159.9h0.8v0.8h-0.8zM392.2 163.6h0.8v0.8h-0.8zM393.7 184.1h0.8v0.8h-0.8zM421.8 144.2h0.8v0.8h-0.8zM391.8 161.6h0.8v0.8h-0.8zM394.6 168.1h0.8v0.8h-0.8zM389.1 169.8h0.8v0.8h-0.8zM392.0 184.3h0.8v0.8h-0.8zM377.7 171.9h0.8v0.8h-0.8zM395.2 173.5h0.8v0.8h-0.8zM390.9 165.0h0.8v0.8h-0.8zM396.4 169.4h0.8v0.8h-0.8zM385.3 165.9h0.8v0.8h-0.8zM380.0 160.7h0.8v0.8h-0.8zM392.7 168.5h0.8v0.8h-0.8zM413.6 183.6h0.8v0.8h-0.8zM398.4 179.9h0.8v0.8h-0.8zM408.0 145.5h0.8v0.8h-0.8zM387.3 168.0h0.8v0.8h-0.8zM388.1 171.0h0.8v0.8h-0.8zM420.3 147.0h0.8v0.8h-0.8zM379.1 177.4h0.8v0.8h-0.8zM389.5 161.6h0.8v0.8h-0.8zM408.4 148.2h0.8v0.8h-0.8zM386.8 180.6h0.8v0.8h-0.8zM406.5 144.3h0.8v0.8h-0.8zM376.7 168.2h0.8v0.8h-0.8zM404.5 180.5h0.8v0.8h-0.8zM418.6 142.9h0.8v0.8h-0.8zM386.1 166.8h0.8v0.8h-0.8zM392.3 175.4h0.8v0.8h-0.8zM396.7 163.4h0.8v0.8h-0.8zM384.8 170.6h0.8v0.8h-0.8zM394.3 179.3h0.8v0.8h-0.8zM394.8 154.1h0.8v0.8h-0.8zM395.6 181.1h0.8v0.8h-0.8zM399.7 182.0h0.8v0.8h-0.8zM417.4 151.1h0.8v0.8h-0.8zM387.2 160.6h0.8v0.8h-0.8zM389.3 185.0h0.8v0.8h-0.8zM401.3 154.4h0.8v0.8h-0.8zM416.3 137.9h0.8v0.8h-0.8zM410.8 145.2h0.8v0.8h-0.8zM396.0 159.9h0.8v0.8h-0.8zM391.0 183.5h0.8v0.8h-0.8zM394.2 173.4h0.8v0.8h-0.8zM392.1 160.6h0.8v0.8h-0.8zM399.1 154.2h0.8v0.8h-0.8zM399.0 159.6h0.8v0.8h-0.8zM414.5 146.0h0.8v0.8h-0.8zM395.6 181.3h0.8v0.8h-0.8zM394.8 174.3h0.8v0.8h-0.8zM403.9 179.6h0.8v0.8h-0.8zM384.4 158.6h0.8v0.8h-0.8zM404.6 157.5h0.8v0.8h-0.8zM394.7 160.6h0.8v0.8h-0.8zM410.7 143.4h0.8v0.8h-0.8zM387.9 165.9h0.8v0.8h-0.8zM388.6 180.2h0.8v0.8h-0.8zM387.3 173.1h0.8v0.8h-0.8zM391.2 157.1h0.8v0.8h-0.8zM403.1 149.2h0.8v0.8h-0.8zM398.8 156.6h0.8v0.8h-0.8zM389.7 148.7h0.8v0.8h-0.8zM390.4 173.0h0.8v0.8h-0.8zM397.2 157.3h0.8v0.8h-0.8zM400.6 184.2h0.8v0.8h-0.8zM378.7 170.7h0.8v0.8h-0.8zM395.8 159.8h0.8v0.8h-0.8zM387.7 181.3h0.8v0.8h-0.8zM380.1 171.7h0.8v0.8h-0.8zM387.3 162.3h0.8v0.8h-0.8zM390.3 181.8h0.8v0.8h-0.8zM400.4 183.6h0.8v0.8h-0.8zM414.6 147.6h0.8v0.8h-0.8zM389.7 160.6h0.8v0.8h-0.8zM422.3 145.2h0.8v0.8h-0.8zM382.8 165.5h0.8v0.8h-0.8zM389.9 174.2h0.8v0.8h-0.8zM413.3 151.0h0.8v0.8h-0.8zM393.2 169.0h0.8v0.8h-0.8zM393.8 167.9h0.8v0.8h-0.8zM397.6 157.4h0.8v0.8h-0.8zM423.4 147.7h0.8v0.8h-0.8zM385.6 168.8h0.8v0.8h-0.8zM391.6 164.3h0.8v0.8h-0.8zM392.5 164.4h0.8v0.8h-0.8zM379.4 154.7h0.8v0.8h-0.8zM382.0 165.6h0.8v0.8h-0.8zM404.6 156.7h0.8v0.8h-0.8zM410.2 152.6h0.8v0.8h-0.8zM404.8 149.3h0.8v0.8h-0.8zM377.7 168.4h0.8v0.8h-0.8zM396.8 179.1h0.8v0.8h-0.8zM371.5 168.4h0.8v0.8h-0.8zM390.9 161.6h0.8v0.8h-0.8zM381.0 162.4h0.8v0.8h-0.8zM396.3 162.3h0.8v0.8h-0.8zM403.2 149.8h0.8v0.8h-0.8zM419.4 142.3h0.8v0.8h-0.8zM371.1 172.4h0.8v0.8h-0.8zM406.4 155.3h0.8v0.8h-0.8zM400.8 160.0h0.8v0.8h-0.8zM387.4 177.3h0.8v0.8h-0.8zM386.9 164.7h0.8v0.8h-0.8zM416.0 147.5h0.8v0.8h-0.8zM380.5 162.7h0.8v0.8h-0.8zM397.8 156.1h0.8v0.8h-0.8zM381.1 172.8h0.8v0.8h-0.8zM382.3 158.7h0.8v0.8h-0.8zM414.1 145.8h0.8v0.8h-0.8zM396.4 161.5h0.8v0.8h-0.8zM383.3 169.5h0.8v0.8h-0.8zM399.8 159.5h0.8v0.8h-0.8zM421.8 144.1h0.8v0.8h-0.8zM385.0 176.2h0.8v0.8h-0.8zM380.0 153.8h0.8v0.8h-0.8zM401.6 162.7h0.8v0.8h-0.8zM397.1 151.9h0.8v0.8h-0.8zM414.3 184.2h0.8v0.8h-0.8zM389.3 157.2h0.8v0.8h-0.8zM380.4 166.9h0.8v0.8h-0.8zM399.6 184.7h0.8v0.8h-0.8zM392.0 179.4h0.8v0.8h-0.8zM414.3 161.1h0.8v0.8h-0.8zM402.2 161.6h0.8v0.8h-0.8zM403.1 180.3h0.8v0.8h-0.8zM397.7 165.0h0.8v0.8h-0.8zM411.9 142.4h0.8v0.8h-0.8zM411.1 180.3h0.8v0.8h-0.8zM385.7 168.9h0.8v0.8h-0.8zM391.5 173.1h0.8v0.8h-0.8zM395.2 181.0h0.8v0.8h-0.8zM396.1 156.6h0.8v0.8h-0.8zM398.9 185.8h0.8v0.8h-0.8zM393.9 157.9h0.8v0.8h-0.8zM391.7 178.9h0.8v0.8h-0.8zM396.4 160.7h0.8v0.8h-0.8zM390.4 175.4h0.8v0.8h-0.8zM381.3 172.9h0.8v0.8h-0.8zM410.7 181.1h0.8v0.8h-0.8zM392.7 156.9h0.8v0.8h-0.8zM412.8 143.3h0.8v0.8h-0.8zM401.8 159.0h0.8v0.8h-0.8zM394.3 184.8h0.8v0.8h-0.8zM384.2 175.9h0.8v0.8h-0.8zM410.2 179.5h0.8v0.8h-0.8zM388.3 164.9h0.8v0.8h-0.8zM394.0 163.5h0.8v0.8h-0.8zM388.9 186.7h0.8v0.8h-0.8zM412.7 145.6h0.8v0.8h-0.8zM387.4 161.7h0.8v0.8h-0.8zM405.2 179.2h0.8v0.8h-0.8zM405.7 180.6h0.8v0.8h-0.8zM389.2 176.9h0.8v0.8h-0.8zM390.2 155.6h0.8v0.8h-0.8zM382.7 167.8h0.8v0.8h-0.8zM370.5 167.5h0.8v0.8h-0.8zM395.8 152.2h0.8v0.8h-0.8zM395.9 177.7h0.8v0.8h-0.8zM421.3 144.8h0.8v0.8h-0.8zM393.0 158.0h0.8v0.8h-0.8zM386.7 163.6h0.8v0.8h-0.8zM382.8 165.8h0.8v0.8h-0.8zM406.9 146.9h0.8v0.8h-0.8zM391.6 152.8h0.8v0.8h-0.8zM400.3 181.5h0.8v0.8h-0.8zM375.1 170.0h0.8v0.8h-0.8zM384.6 181.2h0.8v0.8h-0.8zM420.2 142.1h0.8v0.8h-0.8zM403.5 158.5h0.8v0.8h-0.8zM411.0 181.9h0.8v0.8h-0.8zM382.7 163.9h0.8v0.8h-0.8zM383.4 162.6h0.8v0.8h-0.8zM400.8 150.9h0.8v0.8h-0.8zM411.7 142.0h0.8v0.8h-0.8zM388.4 179.0h0.8v0.8h-0.8zM404.2 180.6h0.8v0.8h-0.8zM388.9 184.8h0.8v0.8h-0.8zM410.5 174.7h0.8v0.8h-0.8zM411.1 178.0h0.8v0.8h-0.8zM400.5 176.9h0.8v0.8h-0.8zM403.6 156.3h0.8v0.8h-0.8zM375.1 182.6h0.8v0.8h-0.8zM386.0 163.9h0.8v0.8h-0.8zM386.8 167.0h0.8v0.8h-0.8zM407.6 146.6h0.8v0.8h-0.8zM403.9 181.4h0.8v0.8h-0.8zM401.9 161.3h0.8v0.8h-0.8zM389.1 176.8h0.8v0.8h-0.8zM392.6 174.5h0.8v0.8h-0.8zM395.8 170.9h0.8v0.8h-0.8zM407.4 155.6h0.8v0.8h-0.8zM405.4 150.4h0.8v0.8h-0.8zM399.2 157.2h0.8v0.8h-0.8zM398.9 158.2h0.8v0.8h-0.8zM384.1 158.8h0.8v0.8h-0.8zM389.3 173.0h0.8v0.8h-0.8zM382.6 162.2h0.8v0.8h-0.8zM391.5 173.9h0.8v0.8h-0.8zM400.9 159.6h0.8v0.8h-0.8zM380.8 169.3h0.8v0.8h-0.8zM393.7 168.5h0.8v0.8h-0.8zM410.8 181.5h0.8v0.8h-0.8zM403.2 156.6h0.8v0.8h-0.8zM407.6 150.5h0.8v0.8h-0.8zM406.6 188.0h0.8v0.8h-0.8zM390.2 163.3h0.8v0.8h-0.8zM402.8 164.3h0.8v0.8h-0.8zM393.6 181.0h0.8v0.8h-0.8zM386.6 165.1h0.8v0.8h-0.8zM422.6 144.1h0.8v0.8h-0.8zM396.1 180.2h0.8v0.8h-0.8zM387.6 163.0h0.8v0.8h-0.8zM390.7 162.2h0.8v0.8h-0.8zM399.5 183.5h0.8v0.8h-0.8zM412.7 150.3h0.8v0.8h-0.8zM402.2 164.5h0.8v0.8h-0.8zM394.1 163.6h0.8v0.8h-0.8zM387.4 161.2h0.8v0.8h-0.8zM389.9 166.6h0.8v0.8h-0.8zM420.3 134.6h0.8v0.8h-0.8zM414.2 143.5h0.8v0.8h-0.8zM388.0 184.6h0.8v0.8h-0.8zM389.8 172.5h0.8v0.8h-0.8zM379.7 181.2h0.8v0.8h-0.8zM388.2 176.5h0.8v0.8h-0.8zM387.6 170.4h0.8v0.8h-0.8zM413.7 156.4h0.8v0.8h-0.8zM413.2 180.1h0.8v0.8h-0.8zM405.9 182.1h0.8v0.8h-0.8zM405.3 184.0h0.8v0.8h-0.8zM381.0 165.7h0.8v0.8h-0.8zM398.4 175.7h0.8v0.8h-0.8zM389.4 170.2h0.8v0.8h-0.8zM389.7 178.9h0.8v0.8h-0.8zM403.0 156.0h0.8v0.8h-0.8zM409.8 183.2h0.8v0.8h-0.8zM418.0 145.4h0.8v0.8h-0.8zM392.2 159.4h0.8v0.8h-0.8zM383.4 174.9h0.8v0.8h-0.8zM407.3 153.6h0.8v0.8h-0.8zM399.7 152.9h0.8v0.8h-0.8zM376.3 166.9h0.8v0.8h-0.8zM387.0 158.7h0.8v0.8h-0.8zM423.2 153.1h0.8v0.8h-0.8zM403.1 155.8h0.8v0.8h-0.8zM412.7 150.1h0.8v0.8h-0.8zM395.0 156.7h0.8v0.8h-0.8zM369.8 174.2h0.8v0.8h-0.8zM390.4 184.6h0.8v0.8h-0.8zM391.1 168.4h0.8v0.8h-0.8zM381.1 169.0h0.8v0.8h-0.8zM400.2 153.3h0.8v0.8h-0.8zM420.3 142.6h0.8v0.8h-0.8zM394.2 163.7h0.8v0.8h-0.8zM380.6 172.8h0.8v0.8h-0.8zM416.7 149.2h0.8v0.8h-0.8zM396.1 178.8h0.8v0.8h-0.8zM387.8 185.5h0.8v0.8h-0.8zM388.1 166.1h0.8v0.8h-0.8zM394.9 183.8h0.8v0.8h-0.8zM379.9 168.8h0.8v0.8h-0.8zM389.1 185.6h0.8v0.8h-0.8zM380.9 179.9h0.8v0.8h-0.8zM389.8 165.7h0.8v0.8h-0.8zM378.9 168.2h0.8v0.8h-0.8zM394.1 165.5h0.8v0.8h-0.8zM373.4 173.5h0.8v0.8h-0.8zM395.4 177.8h0.8v0.8h-0.8zM409.9 154.1h0.8v0.8h-0.8zM397.7 170.9h0.8v0.8h-0.8zM391.6 160.7h0.8v0.8h-0.8zM393.9 177.9h0.8v0.8h-0.8zM383.7 165.9h0.8v0.8h-0.8zM397.7 179.4h0.8v0.8h-0.8zM403.0 161.2h0.8v0.8h-0.8zM404.3 151.6h0.8v0.8h-0.8zM388.7 162.2h0.8v0.8h-0.8zM387.4 161.1h0.8v0.8h-0.8zM390.2 173.1h0.8v0.8h-0.8zM386.6 171.8h0.8v0.8h-0.8zM392.1 180.3h0.8v0.8h-0.8zM414.8 148.2h0.8v0.8h-0.8zM413.3 143.7h0.8v0.8h-0.8zM404.1 180.4h0.8v0.8h-0.8zM385.9 182.1h0.8v0.8h-0.8zM409.8 148.1h0.8v0.8h-0.8zM379.9 169.3h0.8v0.8h-0.8zM400.9 180.9h0.8v0.8h-0.8zM413.2 140.1h0.8v0.8h-0.8zM384.6 163.2h0.8v0.8h-0.8zM406.7 154.0h0.8v0.8h-0.8zM403.6 183.0h0.8v0.8h-0.8zM386.7 168.5h0.8v0.8h-0.8zM391.8 163.3h0.8v0.8h-0.8zM402.3 179.2h0.8v0.8h-0.8zM418.5 144.9h0.8v0.8h-0.8zM399.8 182.0h0.8v0.8h-0.8zM413.9 141.7h0.8v0.8h-0.8zM381.2 171.5h0.8v0.8h-0.8zM379.2 159.5h0.8v0.8h-0.8zM411.8 152.6h0.8v0.8h-0.8zM398.6 159.0h0.8v0.8h-0.8zM405.4 181.6h0.8v0.8h-0.8zM399.0 158.5h0.8v0.8h-0.8zM387.0 166.4h0.8v0.8h-0.8zM410.3 144.8h0.8v0.8h-0.8zM392.0 180.2h0.8v0.8h-0.8zM406.3 178.9h0.8v0.8h-0.8zM406.8 151.4h0.8v0.8h-0.8zM385.3 170.6h0.8v0.8h-0.8zM393.7 163.2h0.8v0.8h-0.8zM398.6 169.9h0.8v0.8h-0.8zM409.7 177.7h0.8v0.8h-0.8zM386.8 176.9h0.8v0.8h-0.8zM381.7 166.4h0.8v0.8h-0.8zM407.0 151.8h0.8v0.8h-0.8zM385.8 167.3h0.8v0.8h-0.8zM396.5 159.5h0.8v0.8h-0.8zM374.5 157.0h0.8v0.8h-0.8zM375.2 156.2h0.8v0.8h-0.8zM381.1 180.8h0.8v0.8h-0.8zM388.2 178.2h0.8v0.8h-0.8zM410.9 180.4h0.8v0.8h-0.8zM397.9 168.1h0.8v0.8h-0.8zM370.7 161.6h0.8v0.8h-0.8zM413.3 148.5h0.8v0.8h-0.8zM379.7 168.7h0.8v0.8h-0.8zM385.0 181.7h0.8v0.8h-0.8zM392.6 185.7h0.8v0.8h-0.8zM395.5 159.2h0.8v0.8h-0.8zM403.7 174.2h0.8v0.8h-0.8zM408.8 148.5h0.8v0.8h-0.8zM390.9 180.3h0.8v0.8h-0.8zM390.0 163.6h0.8v0.8h-0.8zM417.2 146.8h0.8v0.8h-0.8zM375.9 158.5h0.8v0.8h-0.8zM402.3 154.1h0.8v0.8h-0.8zM389.5 171.6h0.8v0.8h-0.8zM387.8 176.9h0.8v0.8h-0.8zM401.9 157.1h0.8v0.8h-0.8zM381.8 165.1h0.8v0.8h-0.8zM398.1 181.7h0.8v0.8h-0.8zM385.7 175.9h0.8v0.8h-0.8zM386.9 179.2h0.8v0.8h-0.8zM418.1 144.5h0.8v0.8h-0.8zM395.6 184.4h0.8v0.8h-0.8zM417.5 145.9h0.8v0.8h-0.8zM393.7 183.0h0.8v0.8h-0.8zM384.5 158.0h0.8v0.8h-0.8zM398.3 179.5h0.8v0.8h-0.8zM402.7 187.3h0.8v0.8h-0.8zM413.2 149.9h0.8v0.8h-0.8zM392.4 166.9h0.8v0.8h-0.8zM383.3 167.0h0.8v0.8h-0.8zM417.1 144.0h0.8v0.8h-0.8zM389.5 173.0h0.8v0.8h-0.8zM386.8 162.2h0.8v0.8h-0.8zM381.9 164.3h0.8v0.8h-0.8zM380.1 171.3h0.8v0.8h-0.8zM425.7 140.5h0.8v0.8h-0.8zM419.0 144.6h0.8v0.8h-0.8zM396.1 183.2h0.8v0.8h-0.8zM410.7 181.3h0.8v0.8h-0.8zM386.5 156.2h0.8v0.8h-0.8zM393.2 187.3h0.8v0.8h-0.8zM399.7 159.7h0.8v0.8h-0.8zM381.3 167.8h0.8v0.8h-0.8zM397.0 154.2h0.8v0.8h-0.8zM422.9 145.6h0.8v0.8h-0.8zM374.7 159.4h0.8v0.8h-0.8zM383.1 162.1h0.8v0.8h-0.8zM404.3 175.2h0.8v0.8h-0.8zM379.2 160.3h0.8v0.8h-0.8zM398.4 154.9h0.8v0.8h-0.8zM380.4 174.0h0.8v0.8h-0.8zM397.4 152.1h0.8v0.8h-0.8zM406.1 177.6h0.8v0.8h-0.8zM383.7 168.9h0.8v0.8h-0.8zM416.2 145.8h0.8v0.8h-0.8zM417.9 142.1h0.8v0.8h-0.8zM385.7 183.8h0.8v0.8h-0.8zM382.6 183.8h0.8v0.8h-0.8zM397.4 167.9h0.8v0.8h-0.8zM402.1 167.3h0.8v0.8h-0.8zM381.2 164.6h0.8v0.8h-0.8zM390.2 164.0h0.8v0.8h-0.8zM421.4 142.6h0.8v0.8h-0.8zM404.8 153.7h0.8v0.8h-0.8zM385.9 159.6h0.8v0.8h-0.8zM391.0 166.1h0.8v0.8h-0.8zM419.8 139.3h0.8v0.8h-0.8zM393.6 181.9h0.8v0.8h-0.8zM416.4 145.0h0.8v0.8h-0.8zM406.4 183.3h0.8v0.8h-0.8zM398.6 147.0h0.8v0.8h-0.8zM408.4 154.4h0.8v0.8h-0.8zM408.2 181.9h0.8v0.8h-0.8zM378.3 168.4h0.8v0.8h-0.8zM395.7 154.9h0.8v0.8h-0.8zM393.7 162.1h0.8v0.8h-0.8zM402.2 146.4h0.8v0.8h-0.8zM391.6 170.6h0.8v0.8h-0.8zM410.5 146.1h0.8v0.8h-0.8zM412.3 143.2h0.8v0.8h-0.8zM383.4 172.8h0.8v0.8h-0.8zM408.3 151.1h0.8v0.8h-0.8zM401.0 179.5h0.8v0.8h-0.8zM396.1 157.6h0.8v0.8h-0.8zM384.4 166.0h0.8v0.8h-0.8zM377.4 174.6h0.8v0.8h-0.8zM397.4 168.8h0.8v0.8h-0.8zM403.3 158.7h0.8v0.8h-0.8zM399.3 183.5h0.8v0.8h-0.8zM387.0 163.6h0.8v0.8h-0.8zM403.7 179.5h0.8v0.8h-0.8zM376.4 168.0h0.8v0.8h-0.8zM397.8 155.5h0.8v0.8h-0.8zM377.8 157.2h0.8v0.8h-0.8zM390.0 181.6h0.8v0.8h-0.8zM390.1 166.7h0.8v0.8h-0.8zM409.1 145.7h0.8v0.8h-0.8zM408.4 156.5h0.8v0.8h-0.8zM391.7 183.6h0.8v0.8h-0.8zM399.6 174.9h0.8v0.8h-0.8zM411.5 149.6h0.8v0.8h-0.8zM402.9 154.5h0.8v0.8h-0.8zM411.1 140.4h0.8v0.8h-0.8zM386.6 162.6h0.8v0.8h-0.8zM416.5 149.8h0.8v0.8h-0.8zM393.9 182.0h0.8v0.8h-0.8zM389.2 176.7h0.8v0.8h-0.8zM414.3 149.4h0.8v0.8h-0.8zM416.9 149.6h0.8v0.8h-0.8zM372.2 173.6h0.8v0.8h-0.8zM416.2 149.9h0.8v0.8h-0.8zM417.7 150.5h0.8v0.8h-0.8zM413.8 142.9h0.8v0.8h-0.8zM398.8 147.5h0.8v0.8h-0.8zM408.1 155.3h0.8v0.8h-0.8zM414.0 147.9h0.8v0.8h-0.8zM422.3 147.4h0.8v0.8h-0.8zM392.9 165.9h0.8v0.8h-0.8zM386.1 161.3h0.8v0.8h-0.8zM394.0 173.5h0.8v0.8h-0.8zM389.5 182.5h0.8v0.8h-0.8zM389.2 165.7h0.8v0.8h-0.8zM396.2 179.9h0.8v0.8h-0.8zM386.8 178.8h0.8v0.8h-0.8zM416.9 150.1h0.8v0.8h-0.8zM383.0 165.0h0.8v0.8h-0.8zM408.1 156.9h0.8v0.8h-0.8zM402.6 178.5h0.8v0.8h-0.8zM381.5 160.9h0.8v0.8h-0.8zM398.3 144.4h0.8v0.8h-0.8zM402.1 151.9h0.8v0.8h-0.8zM393.2 169.4h0.8v0.8h-0.8zM401.8 178.7h0.8v0.8h-0.8zM413.3 151.7h0.8v0.8h-0.8zM386.1 152.0h0.8v0.8h-0.8zM382.7 161.3h0.8v0.8h-0.8zM395.9 182.2h0.8v0.8h-0.8zM419.9 154.2h0.8v0.8h-0.8zM383.1 168.1h0.8v0.8h-0.8zM389.4 184.1h0.8v0.8h-0.8zM405.4 151.6h0.8v0.8h-0.8zM413.6 146.6h0.8v0.8h-0.8zM391.5 169.4h0.8v0.8h-0.8zM418.1 147.6h0.8v0.8h-0.8zM390.9 184.0h0.8v0.8h-0.8zM416.3 145.2h0.8v0.8h-0.8zM389.9 173.7h0.8v0.8h-0.8zM404.0 161.1h0.8v0.8h-0.8zM388.2 182.9h0.8v0.8h-0.8zM413.8 147.9h0.8v0.8h-0.8zM392.6 164.6h0.8v0.8h-0.8zM383.0 166.8h0.8v0.8h-0.8zM413.3 145.1h0.8v0.8h-0.8zM398.2 179.5h0.8v0.8h-0.8zM395.2 155.0h0.8v0.8h-0.8zM384.2 176.8h0.8v0.8h-0.8zM385.6 161.4h0.8v0.8h-0.8zM389.8 160.3h0.8v0.8h-0.8zM385.2 160.6h0.8v0.8h-0.8zM384.6 167.9h0.8v0.8h-0.8zM408.0 148.6h0.8v0.8h-0.8zM400.2 177.9h0.8v0.8h-0.8zM375.6 164.4h0.8v0.8h-0.8zM380.7 166.2h0.8v0.8h-0.8zM393.6 178.7h0.8v0.8h-0.8zM416.0 134.3h0.8v0.8h-0.8zM394.3 177.4h0.8v0.8h-0.8zM414.8 156.1h0.8v0.8h-0.8zM409.6 177.9h0.8v0.8h-0.8zM399.2 157.2h0.8v0.8h-0.8zM398.1 148.6h0.8v0.8h-0.8zM389.6 179.4h0.8v0.8h-0.8zM386.3 155.8h0.8v0.8h-0.8zM384.8 161.6h0.8v0.8h-0.8zM401.4 178.9h0.8v0.8h-0.8zM378.8 173.4h0.8v0.8h-0.8zM388.3 177.8h0.8v0.8h-0.8zM385.6 166.8h0.8v0.8h-0.8zM386.8 173.7h0.8v0.8h-0.8zM386.0 158.2h0.8v0.8h-0.8zM394.5 172.0h0.8v0.8h-0.8zM390.4 157.9h0.8v0.8h-0.8zM394.8 179.1h0.8v0.8h-0.8zM369.6 167.8h0.8v0.8h-0.8zM407.3 153.8h0.8v0.8h-0.8zM388.9 170.9h0.8v0.8h-0.8zM370.8 160.5h0.8v0.8h-0.8zM378.3 171.0h0.8v0.8h-0.8zM413.0 155.7h0.8v0.8h-0.8zM398.5 156.0h0.8v0.8h-0.8zM415.7 146.7h0.8v0.8h-0.8zM395.8 159.4h0.8v0.8h-0.8zM386.5 160.4h0.8v0.8h-0.8zM388.6 162.7h0.8v0.8h-0.8zM382.5 172.3h0.8v0.8h-0.8zM388.1 178.5h0.8v0.8h-0.8zM371.9 174.3h0.8v0.8h-0.8zM406.6 178.0h0.8v0.8h-0.8zM389.3 158.7h0.8v0.8h-0.8zM387.1 164.0h0.8v0.8h-0.8zM402.6 170.7h0.8v0.8h-0.8zM392.8 183.6h0.8v0.8h-0.8zM391.9 183.6h0.8v0.8h-0.8zM408.5 163.1h0.8v0.8h-0.8zM413.6 146.9h0.8v0.8h-0.8zM379.8 167.9h0.8v0.8h-0.8zM390.8 170.4h0.8v0.8h-0.8zM391.4 167.9h0.8v0.8h-0.8zM397.9 162.9h0.8v0.8h-0.8zM388.0 158.5h0.8v0.8h-0.8zM388.8 177.9h0.8v0.8h-0.8zM410.6 180.2h0.8v0.8h-0.8zM379.5 182.6h0.8v0.8h-0.8zM398.7 157.2h0.8v0.8h-0.8zM400.6 182.7h0.8v0.8h-0.8zM383.2 172.4h0.8v0.8h-0.8zM410.4 148.9h0.8v0.8h-0.8zM395.0 159.9h0.8v0.8h-0.8zM385.0 164.4h0.8v0.8h-0.8zM415.8 146.1h0.8v0.8h-0.8zM386.1 166.5h0.8v0.8h-0.8zM413.2 150.2h0.8v0.8h-0.8zM386.2 177.5h0.8v0.8h-0.8zM408.6 175.6h0.8v0.8h-0.8zM394.2 159.3h0.8v0.8h-0.8zM423.8 146.3h0.8v0.8h-0.8zM406.9 179.5h0.8v0.8h-0.8zM400.0 178.9h0.8v0.8h-0.8zM400.8 185.2h0.8v0.8h-0.8zM420.3 146.8h0.8v0.8h-0.8zM398.8 157.0h0.8v0.8h-0.8zM391.3 164.0h0.8v0.8h-0.8zM395.9 157.8h0.8v0.8h-0.8zM391.1 161.8h0.8v0.8h-0.8zM371.5 174.8h0.8v0.8h-0.8zM407.1 148.4h0.8v0.8h-0.8zM382.1 161.7h0.8v0.8h-0.8zM387.8 179.0h0.8v0.8h-0.8zM400.7 180.0h0.8v0.8h-0.8zM401.4 179.9h0.8v0.8h-0.8zM381.4 166.5h0.8v0.8h-0.8zM419.7 143.9h0.8v0.8h-0.8zM377.3 170.9h0.8v0.8h-0.8zM395.8 162.1h0.8v0.8h-0.8zM409.6 146.0h0.8v0.8h-0.8zM391.8 183.2h0.8v0.8h-0.8zM391.1 178.7h0.8v0.8h-0.8zM395.1 171.3h0.8v0.8h-0.8zM404.6 152.9h0.8v0.8h-0.8zM420.1 145.0h0.8v0.8h-0.8zM376.5 173.5h0.8v0.8h-0.8zM397.1 177.1h0.8v0.8h-0.8zM387.9 160.4h0.8v0.8h-0.8zM398.9 159.1h0.8v0.8h-0.8zM386.0 179.5h0.8v0.8h-0.8zM381.7 156.9h0.8v0.8h-0.8zM384.4 170.1h0.8v0.8h-0.8zM395.2 152.6h0.8v0.8h-0.8zM390.9 151.3h0.8v0.8h-0.8zM383.8 164.4h0.8v0.8h-0.8zM386.4 153.4h0.8v0.8h-0.8zM398.3 162.3h0.8v0.8h-0.8zM403.5 155.7h0.8v0.8h-0.8zM386.7 171.0h0.8v0.8h-0.8zM389.1 172.4h0.8v0.8h-0.8zM411.1 149.2h0.8v0.8h-0.8zM388.4 178.8h0.8v0.8h-0.8zM388.9 171.8h0.8v0.8h-0.8zM381.3 158.9h0.8v0.8h-0.8zM387.3 178.9h0.8v0.8h-0.8zM394.8 159.3h0.8v0.8h-0.8zM390.5 161.8h0.8v0.8h-0.8zM405.0 184.6h0.8v0.8h-0.8zM416.1 146.2h0.8v0.8h-0.8zM400.3 167.7h0.8v0.8h-0.8zM390.8 163.1h0.8v0.8h-0.8zM387.0 161.7h0.8v0.8h-0.8zM389.0 179.0h0.8v0.8h-0.8zM391.5 187.0h0.8v0.8h-0.8zM412.7 181.1h0.8v0.8h-0.8zM385.1 166.4h0.8v0.8h-0.8zM400.1 153.0h0.8v0.8h-0.8zM381.5 165.6h0.8v0.8h-0.8zM405.8 182.2h0.8v0.8h-0.8zM388.3 177.9h0.8v0.8h-0.8zM391.9 171.4h0.8v0.8h-0.8zM405.5 157.1h0.8v0.8h-0.8zM407.3 158.8h0.8v0.8h-0.8zM401.3 145.3h0.8v0.8h-0.8zM403.7 157.4h0.8v0.8h-0.8zM393.9 174.3h0.8v0.8h-0.8zM390.7 165.8h0.8v0.8h-0.8zM383.3 172.4h0.8v0.8h-0.8zM390.8 172.1h0.8v0.8h-0.8zM395.6 161.5h0.8v0.8h-0.8zM386.0 166.0h0.8v0.8h-0.8zM403.3 151.2h0.8v0.8h-0.8zM383.5 169.3h0.8v0.8h-0.8zM403.4 180.5h0.8v0.8h-0.8zM386.3 168.2h0.8v0.8h-0.8zM402.2 183.0h0.8v0.8h-0.8zM397.0 179.1h0.8v0.8h-0.8zM378.5 166.5h0.8v0.8h-0.8zM395.8 163.6h0.8v0.8h-0.8zM391.8 161.0h0.8v0.8h-0.8zM393.3 169.2h0.8v0.8h-0.8zM415.5 153.7h0.8v0.8h-0.8zM400.9 186.3h0.8v0.8h-0.8zM383.5 169.4h0.8v0.8h-0.8zM406.3 181.8h0.8v0.8h-0.8zM410.0 155.3h0.8v0.8h-0.8zM400.6 159.4h0.8v0.8h-0.8zM401.7 178.9h0.8v0.8h-0.8zM388.4 172.0h0.8v0.8h-0.8zM405.3 159.1h0.8v0.8h-0.8zM397.0 181.1h0.8v0.8h-0.8zM414.7 151.0h0.8v0.8h-0.8zM402.3 183.2h0.8v0.8h-0.8zM381.7 159.7h0.8v0.8h-0.8zM377.1 176.2h0.8v0.8h-0.8zM385.3 166.9h0.8v0.8h-0.8zM411.4 180.2h0.8v0.8h-0.8zM390.4 162.9h0.8v0.8h-0.8zM381.6 170.1h0.8v0.8h-0.8zM383.0 166.1h0.8v0.8h-0.8zM391.0 146.9h0.8v0.8h-0.8zM382.8 164.5h0.8v0.8h-0.8zM403.6 176.8h0.8v0.8h-0.8zM409.2 188.2h0.8v0.8h-0.8zM390.4 173.1h0.8v0.8h-0.8zM398.7 159.3h0.8v0.8h-0.8zM385.2 172.8h0.8v0.8h-0.8zM389.9 176.5h0.8v0.8h-0.8zM376.0 170.4h0.8v0.8h-0.8zM399.2 184.0h0.8v0.8h-0.8zM389.3 168.9h0.8v0.8h-0.8zM396.8 185.5h0.8v0.8h-0.8zM380.3 170.1h0.8v0.8h-0.8zM403.6 181.9h0.8v0.8h-0.8zM400.1 179.5h0.8v0.8h-0.8zM389.0 162.6h0.8v0.8h-0.8zM383.2 175.5h0.8v0.8h-0.8zM393.2 171.4h0.8v0.8h-0.8zM389.5 180.1h0.8v0.8h-0.8zM408.1 188.5h0.8v0.8h-0.8zM389.4 184.1h0.8v0.8h-0.8zM388.2 180.6h0.8v0.8h-0.8zM390.9 163.2h0.8v0.8h-0.8zM389.9 179.4h0.8v0.8h-0.8zM376.5 173.2h0.8v0.8h-0.8zM388.8 166.5h0.8v0.8h-0.8zM408.1 151.3h0.8v0.8h-0.8zM385.7 179.8h0.8v0.8h-0.8zM386.9 172.0h0.8v0.8h-0.8zM382.3 165.6h0.8v0.8h-0.8zM421.8 140.9h0.8v0.8h-0.8zM380.7 165.9h0.8v0.8h-0.8zM393.2 156.1h0.8v0.8h-0.8zM412.9 182.9h0.8v0.8h-0.8zM391.7 182.2h0.8v0.8h-0.8zM373.5 172.0h0.8v0.8h-0.8zM426.5 141.4h0.8v0.8h-0.8zM385.5 168.0h0.8v0.8h-0.8zM397.1 183.7h0.8v0.8h-0.8zM405.5 182.7h0.8v0.8h-0.8zM398.6 178.0h0.8v0.8h-0.8zM390.5 181.1h0.8v0.8h-0.8zM382.1 184.3h0.8v0.8h-0.8zM390.7 165.7h0.8v0.8h-0.8zM390.0 166.2h0.8v0.8h-0.8zM394.9 178.6h0.8v0.8h-0.8zM391.0 181.1h0.8v0.8h-0.8zM425.2 142.2h0.8v0.8h-0.8zM389.1 173.8h0.8v0.8h-0.8zM412.1 183.0h0.8v0.8h-0.8zM381.8 163.4h0.8v0.8h-0.8zM426.0 141.0h0.8v0.8h-0.8zM407.1 186.5h0.8v0.8h-0.8zM398.7 153.5h0.8v0.8h-0.8zM385.4 163.1h0.8v0.8h-0.8zM417.7 156.1h0.8v0.8h-0.8zM405.5 181.2h0.8v0.8h-0.8zM384.2 169.9h0.8v0.8h-0.8zM398.6 156.5h0.8v0.8h-0.8zM386.3 166.8h0.8v0.8h-0.8zM401.4 153.2h0.8v0.8h-0.8zM375.7 163.1h0.8v0.8h-0.8zM379.4 182.1h0.8v0.8h-0.8zM417.0 146.4h0.8v0.8h-0.8zM386.2 166.1h0.8v0.8h-0.8zM407.0 186.4h0.8v0.8h-0.8zM404.4 183.7h0.8v0.8h-0.8zM413.6 149.3h0.8v0.8h-0.8zM398.9 152.6h0.8v0.8h-0.8zM387.5 161.2h0.8v0.8h-0.8zM397.6 182.0h0.8v0.8h-0.8zM402.9 180.6h0.8v0.8h-0.8zM383.3 159.5h0.8v0.8h-0.8zM387.2 164.2h0.8v0.8h-0.8zM382.0 165.6h0.8v0.8h-0.8zM407.0 147.6h0.8v0.8h-0.8zM408.6 158.8h0.8v0.8h-0.8zM376.0 154.4h0.8v0.8h-0.8zM404.9 179.7h0.8v0.8h-0.8zM389.8 180.6h0.8v0.8h-0.8zM393.9 179.9h0.8v0.8h-0.8zM384.2 163.7h0.8v0.8h-0.8zM390.5 179.9h0.8v0.8h-0.8zM406.2 157.3h0.8v0.8h-0.8zM384.6 169.0h0.8v0.8h-0.8zM391.7 175.2h0.8v0.8h-0.8zM385.8 171.7h0.8v0.8h-0.8zM421.2 144.4h0.8v0.8h-0.8zM410.2 143.6h0.8v0.8h-0.8zM403.2 161.7h0.8v0.8h-0.8zM409.1 184.8h0.8v0.8h-0.8zM382.6 173.6h0.8v0.8h-0.8zM401.2 153.3h0.8v0.8h-0.8zM392.8 184.8h0.8v0.8h-0.8zM381.7 158.6h0.8v0.8h-0.8zM382.2 167.2h0.8v0.8h-0.8zM390.4 155.9h0.8v0.8h-0.8zM384.6 167.7h0.8v0.8h-0.8zM418.7 147.5h0.8v0.8h-0.8zM385.8 166.4h0.8v0.8h-0.8zM410.3 144.7h0.8v0.8h-0.8zM413.7 141.6h0.8v0.8h-0.8zM388.5 185.2h0.8v0.8h-0.8zM391.0 167.1h0.8v0.8h-0.8zM395.4 163.9h0.8v0.8h-0.8zM385.9 178.7h0.8v0.8h-0.8zM417.9 149.1h0.8v0.8h-0.8zM396.1 166.9h0.8v0.8h-0.8zM406.5 146.6h0.8v0.8h-0.8zM397.8 155.6h0.8v0.8h-0.8zM422.0 148.4h0.8v0.8h-0.8zM396.5 169.0h0.8v0.8h-0.8zM379.5 176.7h0.8v0.8h-0.8zM392.2 169.8h0.8v0.8h-0.8zM374.7 161.7h0.8v0.8h-0.8zM422.2 145.1h0.8v0.8h-0.8zM401.5 159.0h0.8v0.8h-0.8zM400.9 159.7h0.8v0.8h-0.8zM387.0 176.3h0.8v0.8h-0.8zM394.1 177.4h0.8v0.8h-0.8zM399.0 177.2h0.8v0.8h-0.8zM398.0 153.2h0.8v0.8h-0.8zM413.3 149.4h0.8v0.8h-0.8zM394.4 182.8h0.8v0.8h-0.8zM389.7 178.0h0.8v0.8h-0.8zM392.2 161.1h0.8v0.8h-0.8zM390.4 160.9h0.8v0.8h-0.8zM393.8 168.3h0.8v0.8h-0.8zM386.1 176.1h0.8v0.8h-0.8zM392.9 179.5h0.8v0.8h-0.8zM384.8 178.8h0.8v0.8h-0.8zM419.0 150.5h0.8v0.8h-0.8zM379.3 165.2h0.8v0.8h-0.8zM418.2 141.3h0.8v0.8h-0.8zM389.4 183.0h0.8v0.8h-0.8zM413.4 146.4h0.8v0.8h-0.8zM418.6 142.3h0.8v0.8h-0.8zM412.6 150.4h0.8v0.8h-0.8zM391.3 167.8h0.8v0.8h-0.8zM393.7 154.5h0.8v0.8h-0.8zM387.2 174.1h0.8v0.8h-0.8zM413.4 149.9h0.8v0.8h-0.8zM418.7 145.3h0.8v0.8h-0.8zM388.1 157.7h0.8v0.8h-0.8zM410.4 152.8h0.8v0.8h-0.8zM395.5 165.3h0.8v0.8h-0.8zM387.2 156.9h0.8v0.8h-0.8zM416.4 147.3h0.8v0.8h-0.8zM390.9 182.1h0.8v0.8h-0.8zM402.9 183.3h0.8v0.8h-0.8zM388.6 175.2h0.8v0.8h-0.8zM396.7 182.7h0.8v0.8h-0.8zM402.1 183.3h0.8v0.8h-0.8zM384.8 164.3h0.8v0.8h-0.8zM394.2 162.7h0.8v0.8h-0.8zM395.4 160.1h0.8v0.8h-0.8zM402.4 185.6h0.8v0.8h-0.8zM382.3 167.2h0.8v0.8h-0.8zM386.4 172.6h0.8v0.8h-0.8zM419.8 148.2h0.8v0.8h-0.8zM408.2 149.4h0.8v0.8h-0.8zM383.3 158.5h0.8v0.8h-0.8zM405.9 157.7h0.8v0.8h-0.8zM412.8 148.7h0.8v0.8h-0.8zM385.9 160.4h0.8v0.8h-0.8zM392.7 166.1h0.8v0.8h-0.8zM422.0 142.9h0.8v0.8h-0.8zM381.0 178.4h0.8v0.8h-0.8zM422.2 152.4h0.8v0.8h-0.8zM381.8 161.9h0.8v0.8h-0.8zM388.2 180.3h0.8v0.8h-0.8zM415.2 151.1h0.8v0.8h-0.8zM411.7 146.3h0.8v0.8h-0.8zM386.2 164.9h0.8v0.8h-0.8zM383.0 159.4h0.8v0.8h-0.8zM399.3 180.1h0.8v0.8h-0.8zM410.0 183.1h0.8v0.8h-0.8zM410.9 183.9h0.8v0.8h-0.8zM398.7 159.8h0.8v0.8h-0.8zM397.2 151.8h0.8v0.8h-0.8zM405.0 169.0h0.8v0.8h-0.8zM398.6 166.4h0.8v0.8h-0.8zM404.7 153.8h0.8v0.8h-0.8zM383.2 170.9h0.8v0.8h-0.8zM424.5 152.3h0.8v0.8h-0.8zM392.7 178.5h0.8v0.8h-0.8zM389.6 176.7h0.8v0.8h-0.8zM399.7 179.4h0.8v0.8h-0.8zM397.0 183.9h0.8v0.8h-0.8zM399.8 157.4h0.8v0.8h-0.8zM409.4 151.6h0.8v0.8h-0.8zM417.6 145.7h0.8v0.8h-0.8zM391.9 165.0h0.8v0.8h-0.8zM401.5 181.1h0.8v0.8h-0.8zM390.6 163.5h0.8v0.8h-0.8zM381.7 175.6h0.8v0.8h-0.8zM391.0 169.7h0.8v0.8h-0.8zM381.9 162.4h0.8v0.8h-0.8zM407.3 157.2h0.8v0.8h-0.8zM380.2 159.7h0.8v0.8h-0.8zM421.8 140.1h0.8v0.8h-0.8zM380.0 171.1h0.8v0.8h-0.8zM387.9 164.0h0.8v0.8h-0.8zM420.7 147.9h0.8v0.8h-0.8zM389.5 179.0h0.8v0.8h-0.8zM387.7 183.5h0.8v0.8h-0.8zM414.9 180.6h0.8v0.8h-0.8zM405.9 172.9h0.8v0.8h-0.8zM416.4 149.2h0.8v0.8h-0.8zM387.0 158.4h0.8v0.8h-0.8zM412.6 145.1h0.8v0.8h-0.8zM413.5 151.1h0.8v0.8h-0.8zM389.8 163.2h0.8v0.8h-0.8zM385.8 172.1h0.8v0.8h-0.8zM389.3 167.3h0.8v0.8h-0.8zM398.4 151.5h0.8v0.8h-0.8zM385.8 164.4h0.8v0.8h-0.8zM393.7 175.1h0.8v0.8h-0.8zM383.0 166.5h0.8v0.8h-0.8zM399.9 170.9h0.8v0.8h-0.8zM403.7 157.0h0.8v0.8h-0.8zM398.3 157.2h0.8v0.8h-0.8zM388.5 180.3h0.8v0.8h-0.8zM389.8 164.8h0.8v0.8h-0.8zM387.1 176.8h0.8v0.8h-0.8zM394.0 157.6h0.8v0.8h-0.8zM383.2 161.5h0.8v0.8h-0.8zM391.1 164.2h0.8v0.8h-0.8zM402.4 152.5h0.8v0.8h-0.8zM386.2 153.2h0.8v0.8h-0.8zM396.8 177.7h0.8v0.8h-0.8zM412.6 142.7h0.8v0.8h-0.8zM397.2 163.1h0.8v0.8h-0.8zM387.7 167.9h0.8v0.8h-0.8zM386.9 186.9h0.8v0.8h-0.8zM394.1 186.8h0.8v0.8h-0.8zM390.9 166.7h0.8v0.8h-0.8zM388.5 161.3h0.8v0.8h-0.8zM388.7 166.6h0.8v0.8h-0.8zM395.1 176.0h0.8v0.8h-0.8zM388.9 171.4h0.8v0.8h-0.8zM396.5 161.6h0.8v0.8h-0.8zM421.5 140.5h0.8v0.8h-0.8zM402.3 169.4h0.8v0.8h-0.8zM391.9 163.6h0.8v0.8h-0.8zM387.5 162.1h0.8v0.8h-0.8zM391.1 167.7h0.8v0.8h-0.8zM404.5 177.3h0.8v0.8h-0.8zM378.3 158.7h0.8v0.8h-0.8zM417.7 149.2h0.8v0.8h-0.8zM371.4 179.6h0.8v0.8h-0.8zM391.2 181.1h0.8v0.8h-0.8zM401.0 176.0h0.8v0.8h-0.8zM399.9 178.8h0.8v0.8h-0.8zM391.2 154.5h0.8v0.8h-0.8zM407.1 184.2h0.8v0.8h-0.8zM403.8 147.2h0.8v0.8h-0.8zM390.1 160.2h0.8v0.8h-0.8zM396.3 170.9h0.8v0.8h-0.8zM419.9 144.5h0.8v0.8h-0.8zM383.9 162.3h0.8v0.8h-0.8zM392.4 164.7h0.8v0.8h-0.8zM397.7 158.0h0.8v0.8h-0.8zM375.1 167.9h0.8v0.8h-0.8zM408.7 156.4h0.8v0.8h-0.8zM410.2 182.9h0.8v0.8h-0.8zM399.7 190.3h0.8v0.8h-0.8zM409.4 158.0h0.8v0.8h-0.8zM400.9 156.2h0.8v0.8h-0.8zM399.5 185.9h0.8v0.8h-0.8zM406.4 183.3h0.8v0.8h-0.8zM383.5 165.2h0.8v0.8h-0.8zM391.3 182.6h0.8v0.8h-0.8zM385.8 164.1h0.8v0.8h-0.8zM377.9 177.1h0.8v0.8h-0.8zM403.0 155.4h0.8v0.8h-0.8zM392.7 162.4h0.8v0.8h-0.8zM387.0 163.1h0.8v0.8h-0.8zM396.5 177.4h0.8v0.8h-0.8zM394.2 181.3h0.8v0.8h-0.8zM369.5 165.8h0.8v0.8h-0.8zM384.7 166.2h0.8v0.8h-0.8zM406.6 181.5h0.8v0.8h-0.8zM383.8 157.1h0.8v0.8h-0.8zM382.9 164.9h0.8v0.8h-0.8zM388.1 179.9h0.8v0.8h-0.8zM403.0 154.0h0.8v0.8h-0.8zM408.9 176.3h0.8v0.8h-0.8zM390.3 161.2h0.8v0.8h-0.8zM392.9 180.8h0.8v0.8h-0.8zM408.6 140.7h0.8v0.8h-0.8zM390.7 184.3h0.8v0.8h-0.8zM407.6 148.2h0.8v0.8h-0.8zM414.1 141.1h0.8v0.8h-0.8zM426.3 145.4h0.8v0.8h-0.8zM383.7 172.0h0.8v0.8h-0.8zM384.9 165.2h0.8v0.8h-0.8zM387.2 160.6h0.8v0.8h-0.8zM387.1 177.1h0.8v0.8h-0.8zM412.5 147.6h0.8v0.8h-0.8zM402.2 179.7h0.8v0.8h-0.8zM397.3 166.4h0.8v0.8h-0.8zM388.7 180.5h0.8v0.8h-0.8zM391.2 177.4h0.8v0.8h-0.8zM387.3 175.5h0.8v0.8h-0.8zM424.7 142.6h0.8v0.8h-0.8zM381.0 169.1h0.8v0.8h-0.8zM372.5 189.6h0.8v0.8h-0.8zM397.7 160.2h0.8v0.8h-0.8zM410.0 175.9h0.8v0.8h-0.8zM400.9 160.9h0.8v0.8h-0.8zM390.7 163.8h0.8v0.8h-0.8zM406.7 150.9h0.8v0.8h-0.8zM379.5 161.6h0.8v0.8h-0.8zM423.3 141.8h0.8v0.8h-0.8zM378.6 173.5h0.8v0.8h-0.8zM404.6 151.5h0.8v0.8h-0.8zM417.3 146.6h0.8v0.8h-0.8zM383.7 163.2h0.8v0.8h-0.8zM404.6 152.4h0.8v0.8h-0.8zM387.3 165.0h0.8v0.8h-0.8zM393.5 161.5h0.8v0.8h-0.8zM389.8 163.7h0.8v0.8h-0.8zM398.1 156.4h0.8v0.8h-0.8zM372.7 182.9h0.8v0.8h-0.8zM377.1 159.9h0.8v0.8h-0.8zM400.7 160.2h0.8v0.8h-0.8zM396.4 160.3h0.8v0.8h-0.8zM388.9 175.2h0.8v0.8h-0.8zM376.2 164.5h0.8v0.8h-0.8zM409.4 183.7h0.8v0.8h-0.8zM413.4 139.6h0.8v0.8h-0.8zM399.2 155.5h0.8v0.8h-0.8zM406.7 145.7h0.8v0.8h-0.8zM384.9 164.6h0.8v0.8h-0.8zM385.5 159.6h0.8v0.8h-0.8zM388.1 169.6h0.8v0.8h-0.8zM389.0 160.3h0.8v0.8h-0.8zM392.8 165.5h0.8v0.8h-0.8zM379.3 162.9h0.8v0.8h-0.8zM385.3 162.6h0.8v0.8h-0.8zM400.2 178.5h0.8v0.8h-0.8zM388.5 167.0h0.8v0.8h-0.8zM410.2 148.0h0.8v0.8h-0.8zM405.6 151.8h0.8v0.8h-0.8zM391.3 163.3h0.8v0.8h-0.8zM376.6 167.2h0.8v0.8h-0.8zM388.2 184.0h0.8v0.8h-0.8zM399.0 153.7h0.8v0.8h-0.8zM394.6 179.3h0.8v0.8h-0.8zM387.9 175.4h0.8v0.8h-0.8zM410.1 151.4h0.8v0.8h-0.8zM398.5 163.7h0.8v0.8h-0.8zM404.8 168.1h0.8v0.8h-0.8zM411.1 153.8h0.8v0.8h-0.8zM418.5 143.4h0.8v0.8h-0.8zM395.3 162.4h0.8v0.8h-0.8zM388.4 162.8h0.8v0.8h-0.8zM402.5 152.9h0.8v0.8h-0.8zM412.5 145.8h0.8v0.8h-0.8zM386.4 181.0h0.8v0.8h-0.8zM422.0 144.3h0.8v0.8h-0.8zM375.6 176.1h0.8v0.8h-0.8zM377.5 162.3h0.8v0.8h-0.8zM406.0 155.2h0.8v0.8h-0.8zM401.8 168.4h0.8v0.8h-0.8zM383.3 171.0h0.8v0.8h-0.8zM404.5 159.1h0.8v0.8h-0.8zM415.0 146.9h0.8v0.8h-0.8zM399.6 156.9h0.8v0.8h-0.8zM408.3 178.3h0.8v0.8h-0.8zM390.9 149.8h0.8v0.8h-0.8zM419.4 141.0h0.8v0.8h-0.8zM385.8 169.5h0.8v0.8h-0.8zM423.6 142.2h0.8v0.8h-0.8zM395.1 182.0h0.8v0.8h-0.8zM403.8 166.5h0.8v0.8h-0.8zM380.9 164.4h0.8v0.8h-0.8zM388.4 163.7h0.8v0.8h-0.8zM411.7 181.2h0.8v0.8h-0.8zM403.1 182.6h0.8v0.8h-0.8zM388.1 158.9h0.8v0.8h-0.8zM395.6 169.0h0.8v0.8h-0.8zM407.6 168.1h0.8v0.8h-0.8zM393.1 161.2h0.8v0.8h-0.8zM388.8 165.2h0.8v0.8h-0.8zM408.1 180.2h0.8v0.8h-0.8zM414.3 150.1h0.8v0.8h-0.8zM386.6 162.0h0.8v0.8h-0.8zM389.9 171.0h0.8v0.8h-0.8zM398.9 155.5h0.8v0.8h-0.8zM406.3 181.6h0.8v0.8h-0.8zM393.6 180.3h0.8v0.8h-0.8zM400.7 181.7h0.8v0.8h-0.8zM391.3 168.1h0.8v0.8h-0.8zM416.7 152.2h0.8v0.8h-0.8zM406.6 164.3h0.8v0.8h-0.8zM389.0 163.7h0.8v0.8h-0.8zM386.8 171.4h0.8v0.8h-0.8zM414.1 148.2h0.8v0.8h-0.8zM424.9 144.7h0.8v0.8h-0.8zM393.3 151.6h0.8v0.8h-0.8zM401.2 174.7h0.8v0.8h-0.8zM386.5 170.0h0.8v0.8h-0.8zM399.0 166.8h0.8v0.8h-0.8zM408.1 147.6h0.8v0.8h-0.8zM390.7 166.6h0.8v0.8h-0.8zM407.3 180.4h0.8v0.8h-0.8zM404.0 162.5h0.8v0.8h-0.8zM379.5 182.3h0.8v0.8h-0.8zM386.2 161.1h0.8v0.8h-0.8zM380.6 166.9h0.8v0.8h-0.8zM392.8 158.5h0.8v0.8h-0.8zM391.2 162.4h0.8v0.8h-0.8zM391.6 176.8h0.8v0.8h-0.8zM392.0 166.2h0.8v0.8h-0.8zM411.4 148.8h0.8v0.8h-0.8zM394.3 181.8h0.8v0.8h-0.8zM392.2 164.7h0.8v0.8h-0.8zM386.5 185.0h0.8v0.8h-0.8zM417.4 142.6h0.8v0.8h-0.8zM398.7 164.7h0.8v0.8h-0.8zM416.3 150.3h0.8v0.8h-0.8zM375.3 176.2h0.8v0.8h-0.8zM413.2 180.0h0.8v0.8h-0.8zM405.4 152.9h0.8v0.8h-0.8zM404.2 152.3h0.8v0.8h-0.8zM408.2 181.1h0.8v0.8h-0.8zM401.7 165.0h0.8v0.8h-0.8zM417.5 142.3h0.8v0.8h-0.8zM406.3 178.7h0.8v0.8h-0.8zM384.4 182.2h0.8v0.8h-0.8zM382.1 160.3h0.8v0.8h-0.8zM391.5 178.6h0.8v0.8h-0.8zM400.6 158.1h0.8v0.8h-0.8zM390.9 171.5h0.8v0.8h-0.8zM396.6 178.8h0.8v0.8h-0.8zM389.8 183.2h0.8v0.8h-0.8zM406.7 180.0h0.8v0.8h-0.8zM393.2 180.7h0.8v0.8h-0.8zM409.1 153.0h0.8v0.8h-0.8zM387.3 182.8h0.8v0.8h-0.8zM402.5 152.6h0.8v0.8h-0.8zM378.5 165.5h0.8v0.8h-0.8zM376.3 179.0h0.8v0.8h-0.8zM371.7 168.3h0.8v0.8h-0.8zM377.0 161.6h0.8v0.8h-0.8zM376.7 171.5h0.8v0.8h-0.8zM389.4 169.9h0.8v0.8h-0.8zM407.4 181.4h0.8v0.8h-0.8zM417.8 142.5h0.8v0.8h-0.8zM404.8 181.3h0.8v0.8h-0.8zM386.9 180.9h0.8v0.8h-0.8zM391.9 181.3h0.8v0.8h-0.8zM387.9 177.0h0.8v0.8h-0.8zM404.0 151.3h0.8v0.8h-0.8zM385.2 160.6h0.8v0.8h-0.8zM404.9 150.4h0.8v0.8h-0.8zM395.8 158.8h0.8v0.8h-0.8zM386.5 161.7h0.8v0.8h-0.8zM381.6 163.3h0.8v0.8h-0.8zM388.6 177.0h0.8v0.8h-0.8zM417.6 147.0h0.8v0.8h-0.8zM396.5 178.5h0.8v0.8h-0.8zM380.7 168.7h0.8v0.8h-0.8zM395.2 178.0h0.8v0.8h-0.8zM386.3 168.8h0.8v0.8h-0.8zM403.7 157.7h0.8v0.8h-0.8zM387.6 166.2h0.8v0.8h-0.8zM401.2 160.7h0.8v0.8h-0.8zM375.4 173.1h0.8v0.8h-0.8zM420.0 146.9h0.8v0.8h-0.8zM372.1 168.2h0.8v0.8h-0.8zM386.4 155.4h0.8v0.8h-0.8zM389.9 179.8h0.8v0.8h-0.8zM397.0 183.1h0.8v0.8h-0.8zM416.8 146.0h0.8v0.8h-0.8zM416.1 148.4h0.8v0.8h-0.8zM410.2 150.0h0.8v0.8h-0.8zM384.2 180.5h0.8v0.8h-0.8zM399.0 160.4h0.8v0.8h-0.8zM399.4 160.4h0.8v0.8h-0.8zM388.8 156.1h0.8v0.8h-0.8zM398.8 150.7h0.8v0.8h-0.8zM381.0 157.6h0.8v0.8h-0.8zM385.9 164.7h0.8v0.8h-0.8zM388.9 164.3h0.8v0.8h-0.8zM387.8 160.4h0.8v0.8h-0.8zM413.8 143.0h0.8v0.8h-0.8zM385.1 160.4h0.8v0.8h-0.8zM400.5 185.4h0.8v0.8h-0.8zM402.6 181.6h0.8v0.8h-0.8zM412.2 153.3h0.8v0.8h-0.8zM378.9 169.5h0.8v0.8h-0.8zM401.5 159.7h0.8v0.8h-0.8zM406.9 157.3h0.8v0.8h-0.8zM394.1 179.9h0.8v0.8h-0.8zM378.7 173.9h0.8v0.8h-0.8zM384.4 166.9h0.8v0.8h-0.8zM407.8 151.2h0.8v0.8h-0.8zM397.8 163.8h0.8v0.8h-0.8zM388.5 171.5h0.8v0.8h-0.8zM375.7 172.8h0.8v0.8h-0.8zM385.3 163.8h0.8v0.8h-0.8zM392.2 179.7h0.8v0.8h-0.8zM410.2 180.2h0.8v0.8h-0.8zM398.8 159.0h0.8v0.8h-0.8zM401.1 177.1h0.8v0.8h-0.8zM387.7 178.0h0.8v0.8h-0.8zM415.4 142.0h0.8v0.8h-0.8zM395.6 156.2h0.8v0.8h-0.8zM388.2 178.6h0.8v0.8h-0.8zM408.1 186.8h0.8v0.8h-0.8zM382.1 161.2h0.8v0.8h-0.8zM393.1 162.9h0.8v0.8h-0.8zM398.3 163.4h0.8v0.8h-0.8zM416.4 149.6h0.8v0.8h-0.8zM389.4 169.4h0.8v0.8h-0.8zM388.3 179.1h0.8v0.8h-0.8zM373.1 172.8h0.8v0.8h-0.8zM397.2 179.2h0.8v0.8h-0.8zM386.7 182.2h0.8v0.8h-0.8zM379.5 175.7h0.8v0.8h-0.8zM392.2 165.2h0.8v0.8h-0.8zM391.7 182.6h0.8v0.8h-0.8zM385.9 165.1h0.8v0.8h-0.8zM394.2 176.2h0.8v0.8h-0.8zM417.2 156.8h0.8v0.8h-0.8zM400.7 180.3h0.8v0.8h-0.8zM412.4 146.3h0.8v0.8h-0.8zM388.7 167.1h0.8v0.8h-0.8zM423.4 144.5h0.8v0.8h-0.8zM382.1 165.8h0.8v0.8h-0.8zM376.9 173.1h0.8v0.8h-0.8zM386.0 166.6h0.8v0.8h-0.8zM412.0 183.9h0.8v0.8h-0.8zM389.9 160.9h0.8v0.8h-0.8zM397.3 168.7h0.8v0.8h-0.8zM380.7 173.7h0.8v0.8h-0.8zM388.4 178.5h0.8v0.8h-0.8zM419.0 146.7h0.8v0.8h-0.8zM400.9 179.3h0.8v0.8h-0.8zM398.2 160.4h0.8v0.8h-0.8zM411.0 181.1h0.8v0.8h-0.8zM390.6 160.7h0.8v0.8h-0.8zM401.5 160.5h0.8v0.8h-0.8zM397.5 176.6h0.8v0.8h-0.8zM392.6 162.0h0.8v0.8h-0.8zM384.8 173.7h0.8v0.8h-0.8zM413.4 141.6h0.8v0.8h-0.8zM377.1 177.8h0.8v0.8h-0.8zM406.3 159.5h0.8v0.8h-0.8zM407.8 151.9h0.8v0.8h-0.8zM385.4 177.3h0.8v0.8h-0.8zM414.2 151.2h0.8v0.8h-0.8zM393.3 166.4h0.8v0.8h-0.8zM387.6 181.9h0.8v0.8h-0.8zM386.5 160.4h0.8v0.8h-0.8zM371.7 163.0h0.8v0.8h-0.8zM409.9 180.2h0.8v0.8h-0.8zM404.8 150.7h0.8v0.8h-0.8zM399.6 171.9h0.8v0.8h-0.8zM397.9 158.5h0.8v0.8h-0.8zM383.6 166.6h0.8v0.8h-0.8zM372.7 172.3h0.8v0.8h-0.8zM412.4 155.4h0.8v0.8h-0.8zM391.0 176.4h0.8v0.8h-0.8zM393.1 183.8h0.8v0.8h-0.8zM393.4 161.5h0.8v0.8h-0.8zM413.8 149.7h0.8v0.8h-0.8zM391.1 183.1h0.8v0.8h-0.8zM379.1 165.1h0.8v0.8h-0.8zM417.1 150.6h0.8v0.8h-0.8zM408.6 150.6h0.8v0.8h-0.8zM388.1 179.1h0.8v0.8h-0.8zM405.6 152.2h0.8v0.8h-0.8zM368.8 156.7h0.8v0.8h-0.8zM410.5 143.7h0.8v0.8h-0.8zM398.1 181.0h0.8v0.8h-0.8zM379.8 176.7h0.8v0.8h-0.8zM422.2 143.1h0.8v0.8h-0.8zM406.4 159.0h0.8v0.8h-0.8zM408.2 151.9h0.8v0.8h-0.8zM385.3 168.3h0.8v0.8h-0.8zM389.9 177.3h0.8v0.8h-0.8zM387.8 166.7h0.8v0.8h-0.8zM389.0 184.3h0.8v0.8h-0.8zM385.3 163.3h0.8v0.8h-0.8zM400.7 162.8h0.8v0.8h-0.8zM391.5 174.5h0.8v0.8h-0.8zM390.2 184.3h0.8v0.8h-0.8zM414.8 160.8h0.8v0.8h-0.8zM384.0 179.9h0.8v0.8h-0.8zM396.6 182.8h0.8v0.8h-0.8zM421.0 137.3h0.8v0.8h-0.8zM418.3 145.9h0.8v0.8h-0.8zM400.3 183.2h0.8v0.8h-0.8zM393.1 167.3h0.8v0.8h-0.8zM393.2 180.7h0.8v0.8h-0.8zM393.7 166.1h0.8v0.8h-0.8zM391.2 180.4h0.8v0.8h-0.8zM395.8 162.0h0.8v0.8h-0.8zM386.7 164.3h0.8v0.8h-0.8zM392.7 160.3h0.8v0.8h-0.8zM397.0 165.0h0.8v0.8h-0.8zM385.4 177.6h0.8v0.8h-0.8zM392.4 164.6h0.8v0.8h-0.8zM383.7 167.1h0.8v0.8h-0.8zM385.9 156.0h0.8v0.8h-0.8zM410.0 177.5h0.8v0.8h-0.8zM391.6 174.6h0.8v0.8h-0.8zM411.3 150.6h0.8v0.8h-0.8zM420.6 154.4h0.8v0.8h-0.8zM406.9 144.0h0.8v0.8h-0.8zM401.2 179.5h0.8v0.8h-0.8zM387.6 175.5h0.8v0.8h-0.8zM389.9 182.0h0.8v0.8h-0.8zM383.4 166.4h0.8v0.8h-0.8zM410.2 147.7h0.8v0.8h-0.8zM406.0 157.0h0.8v0.8h-0.8zM385.6 169.0h0.8v0.8h-0.8zM383.5 171.0h0.8v0.8h-0.8zM410.9 180.7h0.8v0.8h-0.8zM411.9 142.7h0.8v0.8h-0.8zM395.9 180.5h0.8v0.8h-0.8zM405.7 152.8h0.8v0.8h-0.8zM396.6 182.4h0.8v0.8h-0.8zM381.1 165.3h0.8v0.8h-0.8zM409.2 146.8h0.8v0.8h-0.8zM386.2 167.5h0.8v0.8h-0.8zM411.7 153.2h0.8v0.8h-0.8zM402.6 167.4h0.8v0.8h-0.8zM418.5 146.3h0.8v0.8h-0.8zM386.0 161.8h0.8v0.8h-0.8zM377.0 182.6h0.8v0.8h-0.8zM419.0 154.9h0.8v0.8h-0.8zM386.4 182.6h0.8v0.8h-0.8zM410.4 145.9h0.8v0.8h-0.8zM401.0 148.8h0.8v0.8h-0.8zM386.9 175.6h0.8v0.8h-0.8zM386.7 180.2h0.8v0.8h-0.8zM384.6 166.9h0.8v0.8h-0.8zM376.1 168.6h0.8v0.8h-0.8zM383.1 155.4h0.8v0.8h-0.8zM400.4 172.7h0.8v0.8h-0.8zM380.4 191.8h0.8v0.8h-0.8zM384.6 166.0h0.8v0.8h-0.8zM385.9 156.0h0.8v0.8h-0.8zM384.6 177.9h0.8v0.8h-0.8zM391.6 177.0h0.8v0.8h-0.8zM385.3 166.9h0.8v0.8h-0.8zM401.5 156.5h0.8v0.8h-0.8zM389.7 157.4h0.8v0.8h-0.8zM389.9 178.6h0.8v0.8h-0.8zM410.0 177.8h0.8v0.8h-0.8zM401.2 152.7h0.8v0.8h-0.8zM391.7 181.2h0.8v0.8h-0.8zM400.8 180.3h0.8v0.8h-0.8zM395.9 177.3h0.8v0.8h-0.8zM371.8 161.3h0.8v0.8h-0.8zM417.6 141.6h0.8v0.8h-0.8zM388.4 162.4h0.8v0.8h-0.8zM412.1 175.5h0.8v0.8h-0.8zM390.2 165.8h0.8v0.8h-0.8zM391.9 181.9h0.8v0.8h-0.8zM387.6 170.2h0.8v0.8h-0.8zM388.4 175.6h0.8v0.8h-0.8zM417.6 145.3h0.8v0.8h-0.8zM400.0 162.4h0.8v0.8h-0.8zM381.3 155.1h0.8v0.8h-0.8zM394.0 178.0h0.8v0.8h-0.8zM386.2 166.6h0.8v0.8h-0.8zM391.8 169.4h0.8v0.8h-0.8zM403.1 158.6h0.8v0.8h-0.8zM385.1 172.8h0.8v0.8h-0.8zM407.8 147.8h0.8v0.8h-0.8zM392.5 161.2h0.8v0.8h-0.8zM397.4 181.0h0.8v0.8h-0.8zM382.3 187.8h0.8v0.8h-0.8zM387.6 162.0h0.8v0.8h-0.8zM386.4 166.9h0.8v0.8h-0.8zM396.7 160.8h0.8v0.8h-0.8zM418.9 145.2h0.8v0.8h-0.8zM382.1 165.5h0.8v0.8h-0.8zM384.9 164.7h0.8v0.8h-0.8zM406.1 179.2h0.8v0.8h-0.8zM396.4 180.7h0.8v0.8h-0.8zM373.5 176.2h0.8v0.8h-0.8zM413.0 165.6h0.8v0.8h-0.8zM398.4 185.6h0.8v0.8h-0.8zM397.2 167.7h0.8v0.8h-0.8zM390.6 164.9h0.8v0.8h-0.8zM396.9 172.3h0.8v0.8h-0.8zM395.9 149.8h0.8v0.8h-0.8zM382.7 169.3h0.8v0.8h-0.8zM412.4 179.0h0.8v0.8h-0.8zM391.3 178.9h0.8v0.8h-0.8zM397.0 152.0h0.8v0.8h-0.8zM373.6 156.7h0.8v0.8h-0.8zM394.7 160.2h0.8v0.8h-0.8zM393.8 178.2h0.8v0.8h-0.8zM392.1 180.2h0.8v0.8h-0.8zM398.5 174.2h0.8v0.8h-0.8zM390.3 158.7h0.8v0.8h-0.8zM390.0 173.7h0.8v0.8h-0.8zM376.8 172.7h0.8v0.8h-0.8zM408.0 153.4h0.8v0.8h-0.8zM408.4 179.3h0.8v0.8h-0.8zM414.9 148.0h0.8v0.8h-0.8zM409.2 158.7h0.8v0.8h-0.8zM373.2 167.5h0.8v0.8h-0.8zM397.5 167.8h0.8v0.8h-0.8zM394.2 167.2h0.8v0.8h-0.8zM410.2 147.3h0.8v0.8h-0.8zM392.0 159.0h0.8v0.8h-0.8zM406.8 154.4h0.8v0.8h-0.8zM402.3 176.5h0.8v0.8h-0.8zM417.6 146.8h0.8v0.8h-0.8zM381.6 164.8h0.8v0.8h-0.8zM394.5 182.5h0.8v0.8h-0.8zM388.9 173.5h0.8v0.8h-0.8zM406.4 152.6h0.8v0.8h-0.8zM408.3 185.2h0.8v0.8h-0.8zM411.3 153.6h0.8v0.8h-0.8zM411.7 147.2h0.8v0.8h-0.8zM386.3 165.8h0.8v0.8h-0.8zM393.5 165.2h0.8v0.8h-0.8zM404.5 164.5h0.8v0.8h-0.8zM392.5 154.7h0.8v0.8h-0.8zM419.8 144.5h0.8v0.8h-0.8zM392.3 161.2h0.8v0.8h-0.8zM387.7 162.7h0.8v0.8h-0.8zM403.0 156.2h0.8v0.8h-0.8zM420.5 144.0h0.8v0.8h-0.8zM390.4 167.6h0.8v0.8h-0.8zM387.1 163.9h0.8v0.8h-0.8zM389.7 160.6h0.8v0.8h-0.8zM395.1 179.7h0.8v0.8h-0.8zM392.3 164.4h0.8v0.8h-0.8zM396.7 159.6h0.8v0.8h-0.8zM403.3 154.5h0.8v0.8h-0.8zM386.3 181.7h0.8v0.8h-0.8zM406.4 155.6h0.8v0.8h-0.8zM397.5 161.0h0.8v0.8h-0.8zM397.5 174.5h0.8v0.8h-0.8zM387.0 166.2h0.8v0.8h-0.8zM383.8 170.4h0.8v0.8h-0.8zM395.2 183.1h0.8v0.8h-0.8zM394.9 179.0h0.8v0.8h-0.8zM386.9 181.8h0.8v0.8h-0.8zM391.6 182.6h0.8v0.8h-0.8zM397.9 180.8h0.8v0.8h-0.8zM390.2 167.9h0.8v0.8h-0.8zM376.7 164.3h0.8v0.8h-0.8zM399.8 163.5h0.8v0.8h-0.8zM389.0 161.6h0.8v0.8h-0.8zM392.0 175.1h0.8v0.8h-0.8zM386.1 167.3h0.8v0.8h-0.8zM389.6 165.3h0.8v0.8h-0.8zM397.1 158.3h0.8v0.8h-0.8zM390.2 159.9h0.8v0.8h-0.8zM389.2 165.6h0.8v0.8h-0.8zM372.4 164.8h0.8v0.8h-0.8zM384.7 160.1h0.8v0.8h-0.8zM394.6 156.6h0.8v0.8h-0.8zM403.5 153.5h0.8v0.8h-0.8zM390.3 167.1h0.8v0.8h-0.8zM384.4 180.0h0.8v0.8h-0.8zM387.0 165.9h0.8v0.8h-0.8zM391.9 181.3h0.8v0.8h-0.8zM391.2 182.4h0.8v0.8h-0.8zM388.2 176.0h0.8v0.8h-0.8zM398.2 160.7h0.8v0.8h-0.8zM383.1 163.2h0.8v0.8h-0.8zM376.9 168.2h0.8v0.8h-0.8zM395.6 185.9h0.8v0.8h-0.8zM391.5 179.3h0.8v0.8h-0.8zM391.8 183.0h0.8v0.8h-0.8zM400.7 151.9h0.8v0.8h-0.8zM391.3 179.3h0.8v0.8h-0.8zM386.1 176.9h0.8v0.8h-0.8zM383.9 171.8h0.8v0.8h-0.8zM384.0 174.6h0.8v0.8h-0.8zM401.4 170.2h0.8v0.8h-0.8zM383.6 167.1h0.8v0.8h-0.8zM385.1 182.0h0.8v0.8h-0.8zM402.8 176.3h0.8v0.8h-0.8zM376.7 171.1h0.8v0.8h-0.8zM399.1 153.1h0.8v0.8h-0.8zM401.3 168.8h0.8v0.8h-0.8zM396.5 157.8h0.8v0.8h-0.8zM404.2 153.3h0.8v0.8h-0.8zM388.7 182.2h0.8v0.8h-0.8zM409.3 159.4h0.8v0.8h-0.8zM406.7 156.9h0.8v0.8h-0.8zM391.2 163.5h0.8v0.8h-0.8zM386.6 188.9h0.8v0.8h-0.8zM391.7 182.6h0.8v0.8h-0.8zM406.2 154.9h0.8v0.8h-0.8zM417.4 149.4h0.8v0.8h-0.8zM395.2 179.8h0.8v0.8h-0.8zM411.0 177.4h0.8v0.8h-0.8zM385.4 156.0h0.8v0.8h-0.8zM417.2 152.8h0.8v0.8h-0.8zM389.1 167.5h0.8v0.8h-0.8zM405.7 155.1h0.8v0.8h-0.8zM418.7 147.0h0.8v0.8h-0.8zM390.4 162.6h0.8v0.8h-0.8zM401.7 155.0h0.8v0.8h-0.8zM413.3 146.4h0.8v0.8h-0.8zM384.2 185.1h0.8v0.8h-0.8zM398.2 183.9h0.8v0.8h-0.8zM396.0 159.5h0.8v0.8h-0.8zM407.3 156.1h0.8v0.8h-0.8zM401.3 162.2h0.8v0.8h-0.8zM396.5 158.2h0.8v0.8h-0.8zM413.6 179.6h0.8v0.8h-0.8zM398.7 154.4h0.8v0.8h-0.8zM385.4 164.1h0.8v0.8h-0.8zM402.2 157.2h0.8v0.8h-0.8zM390.3 158.4h0.8v0.8h-0.8zM406.0 180.7h0.8v0.8h-0.8zM392.3 161.6h0.8v0.8h-0.8zM392.0 172.1h0.8v0.8h-0.8zM406.9 153.4h0.8v0.8h-0.8zM408.7 181.2h0.8v0.8h-0.8zM388.2 169.0h0.8v0.8h-0.8zM390.0 166.7h0.8v0.8h-0.8zM380.9 169.3h0.8v0.8h-0.8zM382.4 168.2h0.8v0.8h-0.8zM383.5 166.0h0.8v0.8h-0.8zM388.0 164.7h0.8v0.8h-0.8zM390.8 163.4h0.8v0.8h-0.8zM394.6 158.2h0.8v0.8h-0.8zM395.2 180.2h0.8v0.8h-0.8zM403.1 154.4h0.8v0.8h-0.8zM416.9 150.2h0.8v0.8h-0.8zM389.8 158.7h0.8v0.8h-0.8zM414.4 145.2h0.8v0.8h-0.8zM374.8 166.0h0.8v0.8h-0.8zM401.4 183.6h0.8v0.8h-0.8zM386.0 182.3h0.8v0.8h-0.8zM377.5 175.9h0.8v0.8h-0.8zM388.5 162.0h0.8v0.8h-0.8zM414.3 149.2h0.8v0.8h-0.8zM389.9 182.3h0.8v0.8h-0.8zM390.7 161.6h0.8v0.8h-0.8zM386.4 167.7h0.8v0.8h-0.8zM404.1 153.3h0.8v0.8h-0.8zM410.1 146.8h0.8v0.8h-0.8zM386.9 153.2h0.8v0.8h-0.8zM403.2 180.6h0.8v0.8h-0.8zM395.4 158.9h0.8v0.8h-0.8zM383.9 182.9h0.8v0.8h-0.8zM386.5 168.1h0.8v0.8h-0.8zM418.8 141.4h0.8v0.8h-0.8zM421.3 142.4h0.8v0.8h-0.8zM386.7 171.1h0.8v0.8h-0.8zM408.5 181.4h0.8v0.8h-0.8zM399.7 177.6h0.8v0.8h-0.8zM403.1 177.2h0.8v0.8h-0.8zM383.8 166.3h0.8v0.8h-0.8zM386.5 168.1h0.8v0.8h-0.8zM384.2 162.4h0.8v0.8h-0.8zM390.5 164.4h0.8v0.8h-0.8zM403.0 183.6h0.8v0.8h-0.8zM377.6 165.9h0.8v0.8h-0.8zM385.7 170.6h0.8v0.8h-0.8zM398.1 158.0h0.8v0.8h-0.8zM418.2 140.9h0.8v0.8h-0.8zM396.2 178.8h0.8v0.8h-0.8zM403.5 158.0h0.8v0.8h-0.8zM394.9 163.8h0.8v0.8h-0.8zM397.5 179.9h0.8v0.8h-0.8zM421.4 147.0h0.8v0.8h-0.8zM384.4 186.2h0.8v0.8h-0.8zM397.1 156.5h0.8v0.8h-0.8zM397.9 160.2h0.8v0.8h-0.8zM408.2 178.5h0.8v0.8h-0.8zM392.4 183.3h0.8v0.8h-0.8zM390.9 160.3h0.8v0.8h-0.8zM413.1 153.2h0.8v0.8h-0.8zM393.8 178.9h0.8v0.8h-0.8zM412.5 154.4h0.8v0.8h-0.8zM385.9 163.9h0.8v0.8h-0.8zM409.6 185.5h0.8v0.8h-0.8zM381.6 155.5h0.8v0.8h-0.8zM402.8 154.5h0.8v0.8h-0.8zM423.2 145.1h0.8v0.8h-0.8zM408.9 154.4h0.8v0.8h-0.8zM390.5 168.7h0.8v0.8h-0.8zM383.3 160.9h0.8v0.8h-0.8zM394.8 163.8h0.8v0.8h-0.8zM390.4 163.1h0.8v0.8h-0.8zM387.3 164.2h0.8v0.8h-0.8zM393.9 174.1h0.8v0.8h-0.8zM378.6 186.9h0.8v0.8h-0.8zM409.5 181.6h0.8v0.8h-0.8zM395.2 182.5h0.8v0.8h-0.8zM383.9 170.3h0.8v0.8h-0.8zM382.6 181.3h0.8v0.8h-0.8zM404.9 151.1h0.8v0.8h-0.8zM406.2 148.6h0.8v0.8h-0.8zM392.9 179.1h0.8v0.8h-0.8zM386.2 176.2h0.8v0.8h-0.8zM393.1 161.9h0.8v0.8h-0.8zM384.9 163.7h0.8v0.8h-0.8zM411.5 150.2h0.8v0.8h-0.8zM389.1 178.4h0.8v0.8h-0.8zM384.7 155.4h0.8v0.8h-0.8zM390.3 157.8h0.8v0.8h-0.8zM384.4 169.2h0.8v0.8h-0.8zM386.5 173.3h0.8v0.8h-0.8zM385.3 173.5h0.8v0.8h-0.8zM387.7 161.6h0.8v0.8h-0.8zM421.4 131.2h0.8v0.8h-0.8zM388.7 185.4h0.8v0.8h-0.8zM400.9 151.4h0.8v0.8h-0.8zM404.4 160.5h0.8v0.8h-0.8zM383.8 172.5h0.8v0.8h-0.8zM403.5 182.2h0.8v0.8h-0.8zM403.7 144.1h0.8v0.8h-0.8zM387.8 159.2h0.8v0.8h-0.8zM378.6 179.1h0.8v0.8h-0.8zM371.2 167.0h0.8v0.8h-0.8zM414.0 146.0h0.8v0.8h-0.8zM406.2 151.3h0.8v0.8h-0.8zM382.0 183.1h0.8v0.8h-0.8zM392.3 170.8h0.8v0.8h-0.8zM409.3 179.2h0.8v0.8h-0.8zM393.6 161.8h0.8v0.8h-0.8zM374.4 163.0h0.8v0.8h-0.8zM407.4 150.1h0.8v0.8h-0.8zM401.2 160.9h0.8v0.8h-0.8zM387.4 171.8h0.8v0.8h-0.8zM381.4 171.6h0.8v0.8h-0.8zM426.3 144.5h0.8v0.8h-0.8zM403.1 178.8h0.8v0.8h-0.8zM400.7 159.3h0.8v0.8h-0.8zM391.4 177.9h0.8v0.8h-0.8zM398.3 155.8h0.8v0.8h-0.8zM399.1 163.1h0.8v0.8h-0.8zM406.9 148.9h0.8v0.8h-0.8zM389.7 166.9h0.8v0.8h-0.8zM416.5 153.1h0.8v0.8h-0.8zM387.2 157.7h0.8v0.8h-0.8zM402.4 161.8h0.8v0.8h-0.8zM398.7 181.0h0.8v0.8h-0.8zM401.0 154.5h0.8v0.8h-0.8zM408.1 151.4h0.8v0.8h-0.8zM415.5 144.6h0.8v0.8h-0.8zM407.2 188.8h0.8v0.8h-0.8zM409.7 180.5h0.8v0.8h-0.8zM405.2 157.9h0.8v0.8h-0.8zM405.1 158.3h0.8v0.8h-0.8zM403.2 180.9h0.8v0.8h-0.8zM399.1 156.3h0.8v0.8h-0.8zM377.9 172.5h0.8v0.8h-0.8zM394.0 156.0h0.8v0.8h-0.8zM400.7 159.2h0.8v0.8h-0.8zM397.2 154.7h0.8v0.8h-0.8zM384.6 164.9h0.8v0.8h-0.8zM385.6 156.7h0.8v0.8h-0.8zM386.6 168.9h0.8v0.8h-0.8zM388.0 168.3h0.8v0.8h-0.8zM391.9 183.1h0.8v0.8h-0.8zM399.9 154.0h0.8v0.8h-0.8zM400.7 183.1h0.8v0.8h-0.8zM410.1 180.8h0.8v0.8h-0.8zM369.6 165.1h0.8v0.8h-0.8zM391.4 160.9h0.8v0.8h-0.8zM389.2 180.1h0.8v0.8h-0.8zM392.9 156.7h0.8v0.8h-0.8zM383.4 180.5h0.8v0.8h-0.8zM394.0 152.8h0.8v0.8h-0.8zM380.9 164.8h0.8v0.8h-0.8zM409.4 158.3h0.8v0.8h-0.8zM392.0 163.6h0.8v0.8h-0.8zM380.2 163.0h0.8v0.8h-0.8zM401.6 154.1h0.8v0.8h-0.8zM391.2 161.2h0.8v0.8h-0.8zM423.7 145.3h0.8v0.8h-0.8zM388.3 172.8h0.8v0.8h-0.8zM408.7 161.4h0.8v0.8h-0.8zM384.6 160.9h0.8v0.8h-0.8zM369.7 159.3h0.8v0.8h-0.8zM420.7 148.1h0.8v0.8h-0.8zM380.1 173.8h0.8v0.8h-0.8zM407.2 149.8h0.8v0.8h-0.8zM409.9 178.7h0.8v0.8h-0.8zM396.5 185.5h0.8v0.8h-0.8zM387.5 185.8h0.8v0.8h-0.8zM389.2 160.7h0.8v0.8h-0.8zM377.2 166.4h0.8v0.8h-0.8zM413.4 155.4h0.8v0.8h-0.8zM403.5 154.1h0.8v0.8h-0.8zM383.0 161.7h0.8v0.8h-0.8zM404.1 177.8h0.8v0.8h-0.8zM387.9 168.3h0.8v0.8h-0.8zM406.1 184.5h0.8v0.8h-0.8zM393.7 179.9h0.8v0.8h-0.8zM388.8 165.4h0.8v0.8h-0.8zM384.6 171.2h0.8v0.8h-0.8zM379.3 158.6h0.8v0.8h-0.8zM416.7 147.0h0.8v0.8h-0.8zM389.8 164.5h0.8v0.8h-0.8zM412.8 141.1h0.8v0.8h-0.8zM416.8 148.0h0.8v0.8h-0.8zM402.7 176.9h0.8v0.8h-0.8zM403.0 158.7h0.8v0.8h-0.8zM406.0 177.0h0.8v0.8h-0.8zM407.4 151.7h0.8v0.8h-0.8zM404.3 164.1h0.8v0.8h-0.8zM373.6 162.7h0.8v0.8h-0.8zM404.6 181.1h0.8v0.8h-0.8zM384.1 166.3h0.8v0.8h-0.8zM402.5 161.0h0.8v0.8h-0.8zM400.3 158.9h0.8v0.8h-0.8zM395.3 182.2h0.8v0.8h-0.8zM387.6 163.7h0.8v0.8h-0.8zM389.1 161.9h0.8v0.8h-0.8zM379.7 171.2h0.8v0.8h-0.8zM387.3 170.5h0.8v0.8h-0.8zM377.3 166.6h0.8v0.8h-0.8zM404.0 153.6h0.8v0.8h-0.8zM407.0 149.5h0.8v0.8h-0.8zM403.8 150.3h0.8v0.8h-0.8zM403.7 151.7h0.8v0.8h-0.8zM407.5 151.2h0.8v0.8h-0.8zM408.5 182.0h0.8v0.8h-0.8zM415.2 153.1h0.8v0.8h-0.8zM388.0 181.9h0.8v0.8h-0.8zM386.7 182.0h0.8v0.8h-0.8zM400.0 181.1h0.8v0.8h-0.8zM386.2 182.6h0.8v0.8h-0.8zM381.4 154.5h0.8v0.8h-0.8zM420.5 147.6h0.8v0.8h-0.8zM417.2 141.2h0.8v0.8h-0.8zM391.0 159.5h0.8v0.8h-0.8zM407.8 184.9h0.8v0.8h-0.8zM409.3 151.5h0.8v0.8h-0.8zM399.7 153.0h0.8v0.8h-0.8zM400.4 145.8h0.8v0.8h-0.8zM392.7 159.1h0.8v0.8h-0.8zM378.0 162.4h0.8v0.8h-0.8zM394.1 176.4h0.8v0.8h-0.8zM384.5 177.2h0.8v0.8h-0.8zM401.5 158.5h0.8v0.8h-0.8zM408.6 142.7h0.8v0.8h-0.8zM390.1 178.1h0.8v0.8h-0.8zM389.8 183.1h0.8v0.8h-0.8zM410.9 178.0h0.8v0.8h-0.8zM395.4 181.0h0.8v0.8h-0.8zM390.0 156.0h0.8v0.8h-0.8zM381.1 155.0h0.8v0.8h-0.8zM391.1 167.5h0.8v0.8h-0.8zM387.1 182.5h0.8v0.8h-0.8zM409.1 147.7h0.8v0.8h-0.8zM390.1 172.2h0.8v0.8h-0.8zM391.9 172.7h0.8v0.8h-0.8zM398.2 158.4h0.8v0.8h-0.8zM375.3 163.6h0.8v0.8h-0.8zM391.5 166.9h0.8v0.8h-0.8zM388.7 162.3h0.8v0.8h-0.8zM388.6 185.1h0.8v0.8h-0.8zM393.3 183.4h0.8v0.8h-0.8zM399.9 181.5h0.8v0.8h-0.8zM390.7 180.9h0.8v0.8h-0.8zM379.2 163.8h0.8v0.8h-0.8zM373.7 156.0h0.8v0.8h-0.8zM373.1 162.2h0.8v0.8h-0.8zM378.4 170.0h0.8v0.8h-0.8zM398.1 172.5h0.8v0.8h-0.8zM396.8 159.3h0.8v0.8h-0.8zM387.2 165.8h0.8v0.8h-0.8zM391.0 181.5h0.8v0.8h-0.8zM390.0 177.3h0.8v0.8h-0.8zM385.3 179.6h0.8v0.8h-0.8zM409.6 154.8h0.8v0.8h-0.8zM387.8 180.4h0.8v0.8h-0.8zM391.8 155.2h0.8v0.8h-0.8zM381.2 169.2h0.8v0.8h-0.8zM388.6 162.2h0.8v0.8h-0.8zM399.1 155.6h0.8v0.8h-0.8zM389.3 161.1h0.8v0.8h-0.8zM398.4 177.7h0.8v0.8h-0.8zM391.6 156.5h0.8v0.8h-0.8zM383.7 159.8h0.8v0.8h-0.8zM394.9 177.6h0.8v0.8h-0.8zM401.3 155.5h0.8v0.8h-0.8zM396.4 172.0h0.8v0.8h-0.8zM395.1 151.7h0.8v0.8h-0.8zM391.5 167.7h0.8v0.8h-0.8zM398.8 156.2h0.8v0.8h-0.8zM426.6 141.6h0.8v0.8h-0.8zM378.9 178.0h0.8v0.8h-0.8zM391.8 177.5h0.8v0.8h-0.8zM395.3 181.6h0.8v0.8h-0.8zM391.3 159.0h0.8v0.8h-0.8zM410.6 181.5h0.8v0.8h-0.8zM391.9 165.0h0.8v0.8h-0.8zM408.3 151.4h0.8v0.8h-0.8zM392.1 164.3h0.8v0.8h-0.8zM406.3 183.4h0.8v0.8h-0.8zM383.2 163.2h0.8v0.8h-0.8zM411.4 154.0h0.8v0.8h-0.8zM394.0 180.1h0.8v0.8h-0.8zM392.5 163.8h0.8v0.8h-0.8zM405.3 153.8h0.8v0.8h-0.8zM391.0 167.5h0.8v0.8h-0.8zM391.2 156.1h0.8v0.8h-0.8zM399.2 160.9h0.8v0.8h-0.8zM387.1 167.3h0.8v0.8h-0.8zM387.3 155.6h0.8v0.8h-0.8zM382.0 175.4h0.8v0.8h-0.8zM411.6 147.1h0.8v0.8h-0.8zM399.5 189.0h0.8v0.8h-0.8zM408.9 153.1h0.8v0.8h-0.8zM413.0 184.4h0.8v0.8h-0.8zM397.3 157.4h0.8v0.8h-0.8zM394.3 181.4h0.8v0.8h-0.8zM399.1 168.2h0.8v0.8h-0.8zM396.2 159.7h0.8v0.8h-0.8zM413.5 151.2h0.8v0.8h-0.8zM388.5 181.1h0.8v0.8h-0.8zM398.9 168.3h0.8v0.8h-0.8zM389.4 163.6h0.8v0.8h-0.8zM415.7 147.1h0.8v0.8h-0.8zM405.7 149.6h0.8v0.8h-0.8zM400.8 180.4h0.8v0.8h-0.8zM394.7 162.6h0.8v0.8h-0.8zM402.6 162.8h0.8v0.8h-0.8zM410.6 147.5h0.8v0.8h-0.8zM412.0 148.8h0.8v0.8h-0.8zM377.3 168.4h0.8v0.8h-0.8zM411.9 147.6h0.8v0.8h-0.8zM394.9 182.5h0.8v0.8h-0.8zM404.4 154.7h0.8v0.8h-0.8zM386.1 155.5h0.8v0.8h-0.8zM390.1 161.8h0.8v0.8h-0.8zM403.7 185.5h0.8v0.8h-0.8zM384.5 171.4h0.8v0.8h-0.8zM379.6 151.5h0.8v0.8h-0.8zM374.7 179.3h0.8v0.8h-0.8zM378.2 166.6h0.8v0.8h-0.8zM403.7 155.6h0.8v0.8h-0.8zM407.1 178.5h0.8v0.8h-0.8zM398.9 158.4h0.8v0.8h-0.8zM393.8 168.7h0.8v0.8h-0.8zM398.2 154.5h0.8v0.8h-0.8zM421.9 146.4h0.8v0.8h-0.8zM412.6 140.0h0.8v0.8h-0.8zM421.6 143.1h0.8v0.8h-0.8zM391.0 163.3h0.8v0.8h-0.8zM389.2 158.8h0.8v0.8h-0.8zM413.2 141.9h0.8v0.8h-0.8zM391.6 162.7h0.8v0.8h-0.8zM393.4 178.3h0.8v0.8h-0.8zM409.5 143.4h0.8v0.8h-0.8zM390.5 180.3h0.8v0.8h-0.8zM416.6 141.2h0.8v0.8h-0.8zM399.1 162.6h0.8v0.8h-0.8zM421.6 149.1h0.8v0.8h-0.8zM400.0 152.9h0.8v0.8h-0.8zM384.9 156.3h0.8v0.8h-0.8zM406.6 180.8h0.8v0.8h-0.8zM416.0 149.7h0.8v0.8h-0.8zM395.5 167.1h0.8v0.8h-0.8zM406.1 182.2h0.8v0.8h-0.8zM375.6 173.1h0.8v0.8h-0.8zM386.8 175.5h0.8v0.8h-0.8zM422.3 151.0h0.8v0.8h-0.8zM377.8 163.8h0.8v0.8h-0.8zM391.2 185.3h0.8v0.8h-0.8zM395.9 155.8h0.8v0.8h-0.8zM382.8 160.1h0.8v0.8h-0.8zM408.3 148.0h0.8v0.8h-0.8zM389.4 179.4h0.8v0.8h-0.8zM396.0 155.7h0.8v0.8h-0.8zM397.3 158.6h0.8v0.8h-0.8zM399.2 168.1h0.8v0.8h-0.8zM406.7 179.9h0.8v0.8h-0.8zM403.0 171.7h0.8v0.8h-0.8zM405.9 147.7h0.8v0.8h-0.8zM414.9 153.8h0.8v0.8h-0.8zM389.1 170.5h0.8v0.8h-0.8zM396.7 181.1h0.8v0.8h-0.8zM405.2 152.7h0.8v0.8h-0.8zM404.6 148.6h0.8v0.8h-0.8zM404.6 157.8h0.8v0.8h-0.8zM405.3 186.4h0.8v0.8h-0.8zM381.8 162.4h0.8v0.8h-0.8zM403.6 159.0h0.8v0.8h-0.8zM406.8 182.1h0.8v0.8h-0.8zM379.4 168.1h0.8v0.8h-0.8zM421.2 141.7h0.8v0.8h-0.8zM391.9 165.7h0.8v0.8h-0.8zM383.6 148.0h0.8v0.8h-0.8zM384.6 161.4h0.8v0.8h-0.8zM410.3 149.1h0.8v0.8h-0.8zM419.7 153.5h0.8v0.8h-0.8zM409.7 152.4h0.8v0.8h-0.8zM399.3 182.0h0.8v0.8h-0.8zM386.1 162.8h0.8v0.8h-0.8zM381.6 151.8h0.8v0.8h-0.8zM412.9 149.6h0.8v0.8h-0.8zM392.9 163.3h0.8v0.8h-0.8zM392.5 187.8h0.8v0.8h-0.8zM409.8 143.3h0.8v0.8h-0.8zM403.4 153.5h0.8v0.8h-0.8zM377.5 166.1h0.8v0.8h-0.8zM400.6 154.8h0.8v0.8h-0.8zM379.9 162.4h0.8v0.8h-0.8zM399.6 181.2h0.8v0.8h-0.8zM379.4 176.0h0.8v0.8h-0.8zM384.0 167.4h0.8v0.8h-0.8zM382.5 153.2h0.8v0.8h-0.8zM417.7 150.2h0.8v0.8h-0.8zM404.6 150.9h0.8v0.8h-0.8zM407.7 151.6h0.8v0.8h-0.8zM382.6 160.1h0.8v0.8h-0.8zM414.1 145.8h0.8v0.8h-0.8zM411.8 149.2h0.8v0.8h-0.8zM387.8 184.4h0.8v0.8h-0.8zM393.1 163.8h0.8v0.8h-0.8zM420.0 144.1h0.8v0.8h-0.8zM408.1 180.3h0.8v0.8h-0.8zM416.4 147.3h0.8v0.8h-0.8zM407.0 178.6h0.8v0.8h-0.8zM388.2 181.9h0.8v0.8h-0.8zM400.7 172.8h0.8v0.8h-0.8zM391.1 168.3h0.8v0.8h-0.8zM378.1 169.4h0.8v0.8h-0.8zM393.4 180.5h0.8v0.8h-0.8zM387.3 155.6h0.8v0.8h-0.8zM396.5 157.3h0.8v0.8h-0.8zM412.2 180.4h0.8v0.8h-0.8zM403.7 153.6h0.8v0.8h-0.8zM385.1 173.7h0.8v0.8h-0.8zM385.0 174.0h0.8v0.8h-0.8zM398.9 178.3h0.8v0.8h-0.8zM404.5 155.4h0.8v0.8h-0.8zM383.3 166.0h0.8v0.8h-0.8zM392.2 160.9h0.8v0.8h-0.8zM396.9 182.4h0.8v0.8h-0.8zM391.2 180.7h0.8v0.8h-0.8zM394.0 164.6h0.8v0.8h-0.8zM393.0 168.1h0.8v0.8h-0.8zM406.6 151.7h0.8v0.8h-0.8zM384.9 165.5h0.8v0.8h-0.8zM388.5 182.2h0.8v0.8h-0.8zM390.6 176.7h0.8v0.8h-0.8zM375.8 163.1h0.8v0.8h-0.8zM389.5 169.2h0.8v0.8h-0.8zM383.9 155.6h0.8v0.8h-0.8zM385.9 181.4h0.8v0.8h-0.8zM391.3 167.7h0.8v0.8h-0.8zM409.3 177.4h0.8v0.8h-0.8zM407.6 146.7h0.8v0.8h-0.8zM377.6 175.5h0.8v0.8h-0.8zM413.9 146.8h0.8v0.8h-0.8zM417.3 149.0h0.8v0.8h-0.8zM391.0 175.1h0.8v0.8h-0.8zM377.4 160.3h0.8v0.8h-0.8zM386.8 166.4h0.8v0.8h-0.8zM383.3 163.5h0.8v0.8h-0.8zM402.0 180.4h0.8v0.8h-0.8zM384.3 168.2h0.8v0.8h-0.8zM392.7 166.2h0.8v0.8h-0.8zM402.9 153.8h0.8v0.8h-0.8zM416.6 147.3h0.8v0.8h-0.8zM386.3 173.3h0.8v0.8h-0.8zM407.8 147.1h0.8v0.8h-0.8zM413.3 145.4h0.8v0.8h-0.8zM419.4 150.1h0.8v0.8h-0.8zM379.7 181.8h0.8v0.8h-0.8zM394.3 155.4h0.8v0.8h-0.8zM407.2 181.7h0.8v0.8h-0.8zM389.2 160.6h0.8v0.8h-0.8zM411.1 149.4h0.8v0.8h-0.8zM405.7 183.5h0.8v0.8h-0.8zM384.5 164.5h0.8v0.8h-0.8zM414.7 145.3h0.8v0.8h-0.8zM381.5 170.3h0.8v0.8h-0.8zM414.5 153.8h0.8v0.8h-0.8zM385.4 171.7h0.8v0.8h-0.8zM385.6 176.0h0.8v0.8h-0.8zM387.3 170.8h0.8v0.8h-0.8zM393.7 157.1h0.8v0.8h-0.8zM386.3 186.1h0.8v0.8h-0.8zM406.2 160.2h0.8v0.8h-0.8zM384.0 166.2h0.8v0.8h-0.8zM405.0 174.2h0.8v0.8h-0.8zM389.1 167.2h0.8v0.8h-0.8zM393.9 185.7h0.8v0.8h-0.8zM396.6 185.2h0.8v0.8h-0.8zM390.8 175.9h0.8v0.8h-0.8zM389.9 178.7h0.8v0.8h-0.8zM378.3 166.6h0.8v0.8h-0.8zM377.2 164.1h0.8v0.8h-0.8zM408.0 147.1h0.8v0.8h-0.8zM401.2 157.7h0.8v0.8h-0.8zM409.4 152.6h0.8v0.8h-0.8zM389.0 165.3h0.8v0.8h-0.8zM388.1 167.5h0.8v0.8h-0.8zM393.0 164.1h0.8v0.8h-0.8zM391.9 179.8h0.8v0.8h-0.8zM390.1 157.3h0.8v0.8h-0.8zM382.8 167.3h0.8v0.8h-0.8zM388.8 159.6h0.8v0.8h-0.8zM392.9 175.4h0.8v0.8h-0.8zM419.6 144.5h0.8v0.8h-0.8zM416.2 148.1h0.8v0.8h-0.8zM407.3 157.4h0.8v0.8h-0.8zM387.9 165.6h0.8v0.8h-0.8zM387.8 173.3h0.8v0.8h-0.8zM385.0 159.2h0.8v0.8h-0.8zM409.4 186.8h0.8v0.8h-0.8zM372.0 177.6h0.8v0.8h-0.8zM402.7 168.3h0.8v0.8h-0.8zM402.3 164.8h0.8v0.8h-0.8zM398.8 182.5h0.8v0.8h-0.8zM397.1 166.1h0.8v0.8h-0.8zM395.0 159.7h0.8v0.8h-0.8zM384.3 160.1h0.8v0.8h-0.8zM420.3 148.5h0.8v0.8h-0.8zM410.5 147.4h0.8v0.8h-0.8zM407.5 145.0h0.8v0.8h-0.8zM387.1 180.6h0.8v0.8h-0.8zM396.4 161.6h0.8v0.8h-0.8zM378.7 176.8h0.8v0.8h-0.8zM401.3 163.9h0.8v0.8h-0.8zM385.3 164.1h0.8v0.8h-0.8zM397.7 155.6h0.8v0.8h-0.8zM388.9 161.5h0.8v0.8h-0.8zM392.6 161.7h0.8v0.8h-0.8zM379.2 159.1h0.8v0.8h-0.8zM392.4 161.4h0.8v0.8h-0.8zM406.9 179.9h0.8v0.8h-0.8zM409.2 153.5h0.8v0.8h-0.8zM405.0 181.8h0.8v0.8h-0.8zM397.3 183.5h0.8v0.8h-0.8zM396.2 162.8h0.8v0.8h-0.8zM389.2 177.1h0.8v0.8h-0.8zM410.8 179.6h0.8v0.8h-0.8zM405.5 181.8h0.8v0.8h-0.8zM422.1 148.5h0.8v0.8h-0.8zM385.1 164.1h0.8v0.8h-0.8zM406.0 181.1h0.8v0.8h-0.8zM424.7 140.7h0.8v0.8h-0.8zM397.7 187.4h0.8v0.8h-0.8zM389.7 168.0h0.8v0.8h-0.8zM403.6 152.4h0.8v0.8h-0.8zM424.0 142.0h0.8v0.8h-0.8zM389.0 172.6h0.8v0.8h-0.8zM390.7 171.6h0.8v0.8h-0.8zM407.9 152.0h0.8v0.8h-0.8zM402.5 180.9h0.8v0.8h-0.8zM385.6 178.5h0.8v0.8h-0.8zM391.8 184.4h0.8v0.8h-0.8z" fill="#1a2ee8" opacity="0.72"/>
<g transform="translate(384.2 180.3) rotate(0)" filter="url(#b05)">
<ellipse cx="3" cy="-0.5" rx="10.5" ry="7.5600000000000005" fill="#2040ff" opacity="0.8" filter="url(#b1)"/>
<ellipse cx="1.5" cy="-0.3" rx="8.4" ry="6.93" fill="#2448ff"/>
<ellipse cx="0.8" cy="0" rx="6.09" ry="5.25" fill="#22b8ec"/>
<ellipse cx="0" cy="0" rx="4.515" ry="3.9899999999999998" fill="#7fdc4c"/>
<ellipse cx="0" cy="0" rx="2.94" ry="2.625" fill="#f2e41c"/>
<ellipse cx="0" cy="0" rx="1.6800000000000002" ry="1.5750000000000002" fill="#e6300c"/>
</g></g></svg>
<line x1="394.00" y1="126.00" x2="394.00" y2="196.20" stroke="#b4b4b4" stroke-width="0.9"/>
<line x1="367.70" y1="167.00" x2="437.70" y2="167.00" stroke="#b4b4b4" stroke-width="0.9"/>
<rect x="367.7" y="126" width="70" height="70.2" fill="none" stroke="#bcbcbc" stroke-width="0.9"/>
<path d="M367.7 196.2v1.5M371.2 196.2v1.5M374.7 196.2v1.5M378.2 196.2v1.5M381.7 196.2v1.5M385.2 196.2v1.5M388.7 196.2v1.5M392.2 196.2v1.5M395.7 196.2v1.5M399.2 196.2v1.5M402.7 196.2v1.5M406.2 196.2v1.5M409.7 196.2v1.5M413.2 196.2v1.5M416.7 196.2v1.5M420.2 196.2v1.5M423.7 196.2v1.5M427.2 196.2v1.5M430.7 196.2v1.5M434.2 196.2v1.5M437.7 196.2v1.5M367.7 126.0h-1.5M367.7 129.5h-1.5M367.7 133.0h-1.5M367.7 136.5h-1.5M367.7 140.0h-1.5M367.7 143.6h-1.5M367.7 147.1h-1.5M367.7 150.6h-1.5M367.7 154.1h-1.5M367.7 157.6h-1.5M367.7 161.1h-1.5M367.7 164.6h-1.5M367.7 168.1h-1.5M367.7 171.6h-1.5M367.7 175.1h-1.5M367.7 178.7h-1.5M367.7 182.2h-1.5M367.7 185.7h-1.5M367.7 189.2h-1.5M367.7 192.7h-1.5M367.7 196.2h-1.5" stroke="#c8c8c8" stroke-width="0.6"/>
<text x="377.60" y="137.30" font-size="7.7" text-anchor="middle" stroke="#1a1a1a">3.61</text>
<text x="408.00" y="137.30" font-size="7.7" text-anchor="middle" stroke="#1a1a1a">11.6</text>
<text x="377.60" y="193.20" font-size="7.7" text-anchor="middle" stroke="#1a1a1a">77.2</text>
<text x="408.00" y="193.20" font-size="7.7" text-anchor="middle" stroke="#1a1a1a">7.57</text>
<text x="273.80" y="43.50" font-size="7.8" text-anchor="end" stroke="#1a1a1a">10<tspan font-size="5.6" dy="-3.0">4</tspan></text>
<text x="273.80" y="58.50" font-size="7.8" text-anchor="end" stroke="#1a1a1a">10<tspan font-size="5.6" dy="-3.0">3</tspan></text>
<text x="273.80" y="73.50" font-size="7.8" text-anchor="end" stroke="#1a1a1a">10<tspan font-size="5.6" dy="-3.0">2</tspan></text>
<text x="273.80" y="88.00" font-size="7.8" text-anchor="end" stroke="#1a1a1a">10<tspan font-size="5.6" dy="-3.0">1</tspan></text>
<text x="293.00" y="111.70" font-size="7.8" text-anchor="middle" stroke="#1a1a1a">10<tspan font-size="5.6" dy="-3.0">1</tspan></text>
<text x="307.00" y="111.70" font-size="7.8" text-anchor="middle" stroke="#1a1a1a">10<tspan font-size="5.6" dy="-3.0">2</tspan></text>
<text x="321.00" y="111.70" font-size="7.8" text-anchor="middle" stroke="#1a1a1a">10<tspan font-size="5.6" dy="-3.0">3</tspan></text>
<text x="335.00" y="111.70" font-size="7.8" text-anchor="middle" stroke="#1a1a1a">10<tspan font-size="5.6" dy="-3.0">4</tspan></text>
<text x="363.00" y="43.50" font-size="7.8" text-anchor="end" stroke="#1a1a1a">10<tspan font-size="5.6" dy="-3.0">4</tspan></text>
<text x="363.00" y="58.50" font-size="7.8" text-anchor="end" stroke="#1a1a1a">10<tspan font-size="5.6" dy="-3.0">3</tspan></text>
<text x="363.00" y="73.50" font-size="7.8" text-anchor="end" stroke="#1a1a1a">10<tspan font-size="5.6" dy="-3.0">2</tspan></text>
<text x="363.00" y="88.00" font-size="7.8" text-anchor="end" stroke="#1a1a1a">10<tspan font-size="5.6" dy="-3.0">1</tspan></text>
<text x="382.00" y="111.70" font-size="7.8" text-anchor="middle" stroke="#1a1a1a">10<tspan font-size="5.6" dy="-3.0">1</tspan></text>
<text x="396.00" y="111.70" font-size="7.8" text-anchor="middle" stroke="#1a1a1a">10<tspan font-size="5.6" dy="-3.0">2</tspan></text>
<text x="410.00" y="111.70" font-size="7.8" text-anchor="middle" stroke="#1a1a1a">10<tspan font-size="5.6" dy="-3.0">3</tspan></text>
<text x="424.00" y="111.70" font-size="7.8" text-anchor="middle" stroke="#1a1a1a">10<tspan font-size="5.6" dy="-3.0">4</tspan></text>
<text x="273.80" y="141.00" font-size="7.8" text-anchor="end" stroke="#1a1a1a">10<tspan font-size="5.6" dy="-3.0">4</tspan></text>
<text x="273.80" y="156.00" font-size="7.8" text-anchor="end" stroke="#1a1a1a">10<tspan font-size="5.6" dy="-3.0">3</tspan></text>
<text x="273.80" y="170.30" font-size="7.8" text-anchor="end" stroke="#1a1a1a">10<tspan font-size="5.6" dy="-3.0">2</tspan></text>
<text x="273.80" y="185.30" font-size="7.8" text-anchor="end" stroke="#1a1a1a">10<tspan font-size="5.6" dy="-3.0">1</tspan></text>
<text x="293.00" y="210.00" font-size="7.8" text-anchor="middle" stroke="#1a1a1a">10<tspan font-size="5.6" dy="-3.0">1</tspan></text>
<text x="307.00" y="210.00" font-size="7.8" text-anchor="middle" stroke="#1a1a1a">10<tspan font-size="5.6" dy="-3.0">2</tspan></text>
<text x="321.00" y="210.00" font-size="7.8" text-anchor="middle" stroke="#1a1a1a">10<tspan font-size="5.6" dy="-3.0">3</tspan></text>
<text x="335.00" y="210.00" font-size="7.8" text-anchor="middle" stroke="#1a1a1a">10<tspan font-size="5.6" dy="-3.0">4</tspan></text>
<text x="363.20" y="141.00" font-size="7.8" text-anchor="end" stroke="#1a1a1a">10<tspan font-size="5.6" dy="-3.0">4</tspan></text>
<text x="363.20" y="156.00" font-size="7.8" text-anchor="end" stroke="#1a1a1a">10<tspan font-size="5.6" dy="-3.0">3</tspan></text>
<text x="363.20" y="170.30" font-size="7.8" text-anchor="end" stroke="#1a1a1a">10<tspan font-size="5.6" dy="-3.0">2</tspan></text>
<text x="363.20" y="185.30" font-size="7.8" text-anchor="end" stroke="#1a1a1a">10<tspan font-size="5.6" dy="-3.0">1</tspan></text>
<text x="382.00" y="210.00" font-size="7.8" text-anchor="middle" stroke="#1a1a1a">10<tspan font-size="5.6" dy="-3.0">1</tspan></text>
<text x="396.00" y="210.00" font-size="7.8" text-anchor="middle" stroke="#1a1a1a">10<tspan font-size="5.6" dy="-3.0">2</tspan></text>
<text x="410.00" y="210.00" font-size="7.8" text-anchor="middle" stroke="#1a1a1a">10<tspan font-size="5.6" dy="-3.0">3</tspan></text>
<text x="424.00" y="210.00" font-size="7.8" text-anchor="middle" stroke="#1a1a1a">10<tspan font-size="5.6" dy="-3.0">4</tspan></text>
<text x="303.50" y="25.00" font-size="8.8" font-style="italic" stroke="#1a1a1a" letter-spacing="-0.15">Agk<tspan font-size="5.98" dy="-3.52" dx="0.3">f/f</tspan></text>
<text x="395.50" y="25.00" font-size="8.8" font-style="italic" stroke="#1a1a1a" letter-spacing="-0.15">Agk<tspan font-size="5.98" dy="-3.52" dx="0.3">-/-</tspan></text>
<text x="257.65" y="67.50" font-size="8.2" text-anchor="middle" stroke="#1a1a1a" textLength="10.5" lengthAdjust="spacingAndGlyphs" transform="rotate(-90 257.65 67.50)">BM</text>
<text x="257.95" y="160.00" font-size="8.2" text-anchor="middle" stroke="#1a1a1a" transform="rotate(-90 257.95 160.00)">SP</text>
<text x="250.45" y="184.00" font-size="8.2" text-anchor="middle" stroke="#1a1a1a" transform="rotate(-90 250.45 184.00)">CD41</text>
<line x1="257.30" y1="193.00" x2="257.30" y2="172.50" stroke="#1a1a1a" stroke-width="1.2"/>
<path d="M254.8 174 L257.3 168.8 L259.8 174 Z" fill="#111"/>
<line x1="278.50" y1="216.30" x2="298.50" y2="216.30" stroke="#1a1a1a" stroke-width="1.2"/>
<path d="M297.5 213.8 L302.7 216.3 L297.5 218.8 Z" fill="#111"/>
<text x="290.50" y="229.40" font-size="8.2" text-anchor="middle" stroke="#1a1a1a" textLength="23" lengthAdjust="spacingAndGlyphs">CD42b</text>
<text x="449.25" y="120.00" font-size="8.2" text-anchor="middle" stroke="#1a1a1a" textLength="84" lengthAdjust="spacingAndGlyphs" transform="rotate(-90 449.25 120.00)">CD41+CD42b+ cells (%)</text>
<text x="491.00" y="36.60" font-size="8.8" text-anchor="middle" stroke="#1a1a1a">BM</text>
<line x1="469.10" y1="44.25" x2="469.10" y2="102.15" stroke="#1a1a1a" stroke-width="1.45"/>
<line x1="468.45" y1="101.50" x2="512.50" y2="101.50" stroke="#1a1a1a" stroke-width="1.45"/>
<line x1="466.50" y1="44.95" x2="469.10" y2="44.95" stroke="#1a1a1a" stroke-width="1"/>
<text x="463.20" y="47.76" font-size="7.8" text-anchor="end" stroke="#1a1a1a">15</text>
<line x1="466.50" y1="63.80" x2="469.10" y2="63.80" stroke="#1a1a1a" stroke-width="1"/>
<text x="463.20" y="66.61" font-size="7.8" text-anchor="end" stroke="#1a1a1a">10</text>
<line x1="466.50" y1="82.65" x2="469.10" y2="82.65" stroke="#1a1a1a" stroke-width="1"/>
<text x="463.20" y="85.46" font-size="7.8" text-anchor="end" stroke="#1a1a1a">5</text>
<line x1="466.50" y1="101.50" x2="469.10" y2="101.50" stroke="#1a1a1a" stroke-width="1"/>
<text x="463.20" y="104.31" font-size="7.8" text-anchor="end" stroke="#1a1a1a">0</text>
<line x1="479.90" y1="101.50" x2="479.90" y2="103.70" stroke="#1a1a1a" stroke-width="1"/>
<line x1="501.80" y1="101.50" x2="501.80" y2="103.70" stroke="#1a1a1a" stroke-width="1"/>
<text x="470.20" y="113.20" font-size="8.8" font-style="italic" stroke="#1a1a1a" letter-spacing="-0.15">Agk<tspan font-size="5.98" dy="-3.52" dx="0.3">f/f</tspan></text>
<text x="491.00" y="113.20" font-size="8.8" font-style="italic" stroke="#1a1a1a" letter-spacing="-0.15">Agk<tspan font-size="5.98" dy="-3.52" dx="0.3">-/-</tspan></text>
<circle cx="479.8" cy="53.6" r="1.25" fill="#24427f"/>
<circle cx="479.8" cy="59.0" r="1.25" fill="#24427f"/>
<circle cx="475.8" cy="68.1" r="1.25" fill="#24427f"/>
<circle cx="483.9" cy="69.0" r="1.25" fill="#24427f"/>
<circle cx="479.8" cy="72.1" r="1.25" fill="#24427f"/>
<circle cx="479.8" cy="64.3" r="1.25" fill="#24427f"/>
<line x1="479.80" y1="57.40" x2="479.80" y2="71.40" stroke="#5a78b4" stroke-width="1.1"/>
<line x1="475.00" y1="57.40" x2="484.60" y2="57.40" stroke="#5a78b4" stroke-width="1.1"/>
<line x1="475.00" y1="71.40" x2="484.60" y2="71.40" stroke="#5a78b4" stroke-width="1.1"/>
<line x1="470.90" y1="64.30" x2="489.00" y2="64.30" stroke="#111" stroke-width="1.5"/>
<path d="M499.5 75.2L500.8 77.5L498.2 77.5Z" fill="#b81442"/>
<path d="M503.5 75.4L504.8 77.7L502.2 77.7Z" fill="#b81442"/>
<path d="M495.9 79.5L497.2 81.8L494.6 81.8Z" fill="#b81442"/>
<path d="M499.9 79.9L501.2 82.2L498.6 82.2Z" fill="#b81442"/>
<path d="M507.0 79.5L508.3 81.8L505.7 81.8Z" fill="#b81442"/>
<line x1="501.50" y1="76.40" x2="501.50" y2="81.30" stroke="#c83a62" stroke-width="1.1"/>
<line x1="496.50" y1="76.40" x2="506.50" y2="76.40" stroke="#c83a62" stroke-width="1.1"/>
<line x1="496.50" y1="81.30" x2="506.50" y2="81.30" stroke="#c83a62" stroke-width="1.1"/>
<line x1="492.80" y1="79.00" x2="511.00" y2="79.00" stroke="#111" stroke-width="1.5"/>
<path d="M479.40 49.40V46.70H502.60V65.70" fill="none" stroke="#1a1a1a" stroke-width="1"/>
<text x="491.00" y="46.00" font-size="7.5" text-anchor="middle" stroke="#1a1a1a">***</text>
<text x="491.00" y="131.70" font-size="8.8" text-anchor="middle" stroke="#1a1a1a">SP</text>
<line x1="468.40" y1="137.35" x2="468.40" y2="198.55" stroke="#1a1a1a" stroke-width="1.45"/>
<line x1="467.75" y1="197.90" x2="512.50" y2="197.90" stroke="#1a1a1a" stroke-width="1.45"/>
<line x1="465.80" y1="138.05" x2="468.40" y2="138.05" stroke="#1a1a1a" stroke-width="1"/>
<text x="462.50" y="140.86" font-size="7.8" text-anchor="end" stroke="#1a1a1a">15</text>
<line x1="465.80" y1="158.00" x2="468.40" y2="158.00" stroke="#1a1a1a" stroke-width="1"/>
<text x="462.50" y="160.81" font-size="7.8" text-anchor="end" stroke="#1a1a1a">10</text>
<line x1="465.80" y1="177.95" x2="468.40" y2="177.95" stroke="#1a1a1a" stroke-width="1"/>
<text x="462.50" y="180.76" font-size="7.8" text-anchor="end" stroke="#1a1a1a">5</text>
<line x1="465.80" y1="197.90" x2="468.40" y2="197.90" stroke="#1a1a1a" stroke-width="1"/>
<text x="462.50" y="200.71" font-size="7.8" text-anchor="end" stroke="#1a1a1a">0</text>
<line x1="480.00" y1="197.90" x2="480.00" y2="200.10" stroke="#1a1a1a" stroke-width="1"/>
<line x1="501.60" y1="197.90" x2="501.60" y2="200.10" stroke="#1a1a1a" stroke-width="1"/>
<text x="470.20" y="209.30" font-size="8.8" font-style="italic" stroke="#1a1a1a" letter-spacing="-0.15">Agk<tspan font-size="5.98" dy="-3.52" dx="0.3">f/f</tspan></text>
<text x="491.00" y="209.30" font-size="8.8" font-style="italic" stroke="#1a1a1a" letter-spacing="-0.15">Agk<tspan font-size="5.98" dy="-3.52" dx="0.3">-/-</tspan></text>
<circle cx="480.0" cy="170.5" r="1.2" fill="#24427f"/>
<circle cx="477.0" cy="172.5" r="1.2" fill="#24427f"/>
<circle cx="483.0" cy="172.5" r="1.2" fill="#24427f"/>
<circle cx="480.0" cy="175.5" r="1.2" fill="#24427f"/>
<circle cx="476.5" cy="176.0" r="1.2" fill="#24427f"/>
<circle cx="483.5" cy="176.0" r="1.2" fill="#24427f"/>
<line x1="480.00" y1="170.60" x2="480.00" y2="176.20" stroke="#5a78b4" stroke-width="1.1"/>
<line x1="476.00" y1="170.60" x2="484.00" y2="170.60" stroke="#5a78b4" stroke-width="1.1"/>
<line x1="476.00" y1="176.20" x2="484.00" y2="176.20" stroke="#5a78b4" stroke-width="1.1"/>
<line x1="472.00" y1="173.30" x2="490.00" y2="173.30" stroke="#111" stroke-width="1.5"/>
<path d="M501.6 151.1L502.9 153.4L500.3 153.4Z" fill="#b81442"/>
<path d="M498.0 158.6L499.3 160.9L496.7 160.9Z" fill="#b81442"/>
<path d="M505.0 158.6L506.3 160.9L503.7 160.9Z" fill="#b81442"/>
<path d="M501.6 161.6L502.9 163.9L500.3 163.9Z" fill="#b81442"/>
<path d="M497.5 164.1L498.8 166.4L496.2 166.4Z" fill="#b81442"/>
<path d="M505.5 164.1L506.8 166.4L504.2 166.4Z" fill="#b81442"/>
<line x1="501.60" y1="156.50" x2="501.60" y2="166.50" stroke="#c83a62" stroke-width="1.1"/>
<line x1="496.60" y1="156.50" x2="506.60" y2="156.50" stroke="#c83a62" stroke-width="1.1"/>
<line x1="496.60" y1="166.50" x2="506.60" y2="166.50" stroke="#c83a62" stroke-width="1.1"/>
<line x1="492.50" y1="162.30" x2="510.00" y2="162.30" stroke="#111" stroke-width="1.5"/>
<path d="M480.00 170.00V141.90H501.60V149.50" fill="none" stroke="#1a1a1a" stroke-width="1"/>
<text x="490.80" y="141.00" font-size="7.5" text-anchor="middle" stroke="#1a1a1a">**</text>
<rect x="7.00" y="291.00" width="67.70" height="67.50" fill="url(#cbg)"/>
<path d="M22.6 309.5 Q19.5 309.8 18.6 311.8 Q16.2 316 16.2 322 L16 333 Q16.3 340.5 18.8 345.4 Q20.5 350 23.2 351.7 Q26 351 27.2 347.9 Q28.8 342 28.9 335.3 L29.5 320.2 Q29.4 314 27.6 311.4 Q25.8 309.3 22.6 309.5 Z" fill="url(#spl1)"/>
<path d="M52.8 298.8 Q54.8 298.4 55.6 300.2 L56.6 302.6 Q58.5 301.2 61.6 301.9 Q64.8 302.2 65.4 304.5 Q66 310 66 320.2 L66.7 339 Q67 346 66.7 350.4 Q65 355.3 61.6 355.5 Q58.5 355.4 57.9 354.2 Q55.8 348 54.1 339 Q52.2 330 51.6 320.2 L51.6 305 Q51.6 300 52.8 298.8 Z" fill="url(#spl2)"/>
<ellipse cx="20" cy="312" rx="1.4" ry="0.9" fill="#d8d0c0" opacity="0.6" filter="url(#b05)"/>
<ellipse cx="28" cy="346" rx="1.3" ry="1.2" fill="#d8d0c0" opacity="0.75" filter="url(#b05)"/>
<ellipse cx="20.5" cy="343" rx="0.8" ry="1.2" fill="#d8d0c0" opacity="0.5" filter="url(#b05)"/>
<ellipse cx="53.5" cy="303" rx="0.9" ry="2" fill="#d8d0c0" opacity="0.55" filter="url(#b05)"/>
<ellipse cx="60.5" cy="302.8" rx="1.4" ry="0.9" fill="#d8d0c0" opacity="0.7" filter="url(#b05)"/>
<ellipse cx="64" cy="348" rx="0.8" ry="1.4" fill="#d8d0c0" opacity="0.5" filter="url(#b05)"/>
<ellipse cx="54.5" cy="345" rx="0.6" ry="1.3" fill="#d8d0c0" opacity="0.45" filter="url(#b05)"/>
<text x="15.50" y="285.80" font-size="8.8" font-style="italic" stroke="#1a1a1a" letter-spacing="-0.15">Agk<tspan font-size="5.98" dy="-3.52" dx="0.3">f/f</tspan></text>
<text x="51.00" y="285.80" font-size="8.8" font-style="italic" stroke="#1a1a1a" letter-spacing="-0.15">Agk<tspan font-size="5.98" dy="-3.52" dx="0.3">-/-</tspan></text>
<line x1="126.30" y1="262.10" x2="126.30" y2="364.65" stroke="#1a1a1a" stroke-width="1.45"/>
<line x1="125.65" y1="364.00" x2="222.50" y2="364.00" stroke="#1a1a1a" stroke-width="1.45"/>
<line x1="123.70" y1="262.80" x2="126.30" y2="262.80" stroke="#1a1a1a" stroke-width="1"/>
<text x="120.40" y="265.61" font-size="7.8" text-anchor="end" stroke="#1a1a1a">2.0</text>
<line x1="123.70" y1="288.10" x2="126.30" y2="288.10" stroke="#1a1a1a" stroke-width="1"/>
<text x="120.40" y="290.91" font-size="7.8" text-anchor="end" stroke="#1a1a1a">1.5</text>
<line x1="123.70" y1="313.40" x2="126.30" y2="313.40" stroke="#1a1a1a" stroke-width="1"/>
<text x="120.40" y="316.21" font-size="7.8" text-anchor="end" stroke="#1a1a1a">1.0</text>
<line x1="123.70" y1="338.70" x2="126.30" y2="338.70" stroke="#1a1a1a" stroke-width="1"/>
<text x="120.40" y="341.51" font-size="7.8" text-anchor="end" stroke="#1a1a1a">0.5</text>
<line x1="123.70" y1="364.00" x2="126.30" y2="364.00" stroke="#1a1a1a" stroke-width="1"/>
<text x="120.40" y="366.81" font-size="7.8" text-anchor="end" stroke="#1a1a1a">0</text>
<line x1="131.70" y1="364.00" x2="131.70" y2="366.20" stroke="#1a1a1a" stroke-width="1"/>
<line x1="143.40" y1="364.00" x2="143.40" y2="366.20" stroke="#1a1a1a" stroke-width="1"/>
<line x1="155.60" y1="364.00" x2="155.60" y2="366.20" stroke="#1a1a1a" stroke-width="1"/>
<line x1="167.80" y1="364.00" x2="167.80" y2="366.20" stroke="#1a1a1a" stroke-width="1"/>
<line x1="180.30" y1="364.00" x2="180.30" y2="366.20" stroke="#1a1a1a" stroke-width="1"/>
<line x1="192.20" y1="364.00" x2="192.20" y2="366.20" stroke="#1a1a1a" stroke-width="1"/>
<line x1="204.40" y1="364.00" x2="204.40" y2="366.20" stroke="#1a1a1a" stroke-width="1"/>
<line x1="216.00" y1="364.00" x2="216.00" y2="366.20" stroke="#1a1a1a" stroke-width="1"/>
<text x="131.70" y="377.20" font-size="7.8" text-anchor="middle" stroke="#1a1a1a">0</text>
<text x="143.40" y="377.20" font-size="7.8" text-anchor="middle" stroke="#1a1a1a">5</text>
<text x="155.60" y="377.20" font-size="7.8" text-anchor="middle" stroke="#1a1a1a">10</text>
<text x="167.80" y="377.20" font-size="7.8" text-anchor="middle" stroke="#1a1a1a">20</text>
<text x="180.30" y="377.20" font-size="7.8" text-anchor="middle" stroke="#1a1a1a">30</text>
<text x="192.20" y="377.20" font-size="7.8" text-anchor="middle" stroke="#1a1a1a">40</text>
<text x="204.40" y="377.20" font-size="7.8" text-anchor="middle" stroke="#1a1a1a">50</text>
<text x="216.00" y="377.20" font-size="7.8" text-anchor="middle" stroke="#1a1a1a">60</text>
<text x="173.70" y="389.20" font-size="8.2" text-anchor="middle" stroke="#1a1a1a" textLength="22.5" lengthAdjust="spacingAndGlyphs">(Days)</text>
<text x="91.75" y="312.30" font-size="8.2" text-anchor="middle" stroke="#1a1a1a" textLength="49" lengthAdjust="spacingAndGlyphs" transform="rotate(-90 91.75 312.30)">Platelet counts</text>
<text x="103.45" y="314.00" font-size="8.2" text-anchor="middle" stroke="#1a1a1a" textLength="89.5" lengthAdjust="spacingAndGlyphs" transform="rotate(-90 103.45 314.00)">after splenectomy (×10<tspan font-size="5" dy="-3.2">12</tspan><tspan dy="3.2">/L)</tspan></text>
<line x1="131.70" y1="324.53" x2="131.70" y2="321.50" stroke="#b81442" stroke-width="1"/>
<line x1="129.50" y1="324.53" x2="133.90" y2="324.53" stroke="#b81442" stroke-width="1"/>
<line x1="129.50" y1="321.50" x2="133.90" y2="321.50" stroke="#b81442" stroke-width="1"/>
<line x1="143.40" y1="302.27" x2="143.40" y2="298.22" stroke="#b81442" stroke-width="1"/>
<line x1="141.20" y1="302.27" x2="145.60" y2="302.27" stroke="#b81442" stroke-width="1"/>
<line x1="141.20" y1="298.22" x2="145.60" y2="298.22" stroke="#b81442" stroke-width="1"/>
<line x1="155.60" y1="297.21" x2="155.60" y2="294.17" stroke="#b81442" stroke-width="1"/>
<line x1="153.40" y1="297.21" x2="157.80" y2="297.21" stroke="#b81442" stroke-width="1"/>
<line x1="153.40" y1="294.17" x2="157.80" y2="294.17" stroke="#b81442" stroke-width="1"/>
<line x1="167.80" y1="304.29" x2="167.80" y2="302.27" stroke="#b81442" stroke-width="1"/>
<line x1="165.60" y1="304.29" x2="170.00" y2="304.29" stroke="#b81442" stroke-width="1"/>
<line x1="165.60" y1="302.27" x2="170.00" y2="302.27" stroke="#b81442" stroke-width="1"/>
<line x1="180.30" y1="323.52" x2="180.30" y2="316.44" stroke="#b81442" stroke-width="1"/>
<line x1="178.10" y1="323.52" x2="182.50" y2="323.52" stroke="#b81442" stroke-width="1"/>
<line x1="178.10" y1="316.44" x2="182.50" y2="316.44" stroke="#b81442" stroke-width="1"/>
<line x1="192.20" y1="332.12" x2="192.20" y2="330.10" stroke="#b81442" stroke-width="1"/>
<line x1="190.00" y1="332.12" x2="194.40" y2="332.12" stroke="#b81442" stroke-width="1"/>
<line x1="190.00" y1="330.10" x2="194.40" y2="330.10" stroke="#b81442" stroke-width="1"/>
<line x1="204.40" y1="344.77" x2="204.40" y2="335.66" stroke="#b81442" stroke-width="1"/>
<line x1="202.20" y1="344.77" x2="206.60" y2="344.77" stroke="#b81442" stroke-width="1"/>
<line x1="202.20" y1="335.66" x2="206.60" y2="335.66" stroke="#b81442" stroke-width="1"/>
<line x1="216.00" y1="341.74" x2="216.00" y2="339.71" stroke="#b81442" stroke-width="1"/>
<line x1="213.80" y1="341.74" x2="218.20" y2="341.74" stroke="#b81442" stroke-width="1"/>
<line x1="213.80" y1="339.71" x2="218.20" y2="339.71" stroke="#b81442" stroke-width="1"/>
<polyline fill="none" stroke="#b81442" stroke-width="1.3" points="131.7,323.0 143.4,300.2 155.6,295.7 167.8,303.3 180.3,320.0 192.2,331.1 204.4,340.2 216,340.7"/>
<circle cx="131.7" cy="323.0" r="2.3" fill="#b81442"/>
<circle cx="143.4" cy="300.2" r="2.3" fill="#b81442"/>
<circle cx="155.6" cy="295.7" r="2.3" fill="#b81442"/>
<circle cx="167.8" cy="303.3" r="2.3" fill="#b81442"/>
<circle cx="180.3" cy="320.0" r="2.3" fill="#b81442"/>
<circle cx="192.2" cy="331.1" r="2.3" fill="#b81442"/>
<circle cx="204.4" cy="340.2" r="2.3" fill="#b81442"/>
<circle cx="216.0" cy="340.7" r="2.3" fill="#b81442"/>
<line x1="131.70" y1="306.32" x2="131.70" y2="303.28" stroke="#24427f" stroke-width="1"/>
<line x1="129.50" y1="306.32" x2="133.90" y2="306.32" stroke="#24427f" stroke-width="1"/>
<line x1="129.50" y1="303.28" x2="133.90" y2="303.28" stroke="#24427f" stroke-width="1"/>
<line x1="143.40" y1="296.70" x2="143.40" y2="292.65" stroke="#24427f" stroke-width="1"/>
<line x1="141.20" y1="296.70" x2="145.60" y2="296.70" stroke="#24427f" stroke-width="1"/>
<line x1="141.20" y1="292.65" x2="145.60" y2="292.65" stroke="#24427f" stroke-width="1"/>
<line x1="155.60" y1="288.10" x2="155.60" y2="282.03" stroke="#24427f" stroke-width="1"/>
<line x1="153.40" y1="288.10" x2="157.80" y2="288.10" stroke="#24427f" stroke-width="1"/>
<line x1="153.40" y1="282.03" x2="157.80" y2="282.03" stroke="#24427f" stroke-width="1"/>
<line x1="167.80" y1="298.22" x2="167.80" y2="291.14" stroke="#24427f" stroke-width="1"/>
<line x1="165.60" y1="298.22" x2="170.00" y2="298.22" stroke="#24427f" stroke-width="1"/>
<line x1="165.60" y1="291.14" x2="170.00" y2="291.14" stroke="#24427f" stroke-width="1"/>
<line x1="180.30" y1="297.71" x2="180.30" y2="291.64" stroke="#24427f" stroke-width="1"/>
<line x1="178.10" y1="297.71" x2="182.50" y2="297.71" stroke="#24427f" stroke-width="1"/>
<line x1="178.10" y1="291.64" x2="182.50" y2="291.64" stroke="#24427f" stroke-width="1"/>
<line x1="192.20" y1="302.77" x2="192.20" y2="300.75" stroke="#24427f" stroke-width="1"/>
<line x1="190.00" y1="302.77" x2="194.40" y2="302.77" stroke="#24427f" stroke-width="1"/>
<line x1="190.00" y1="300.75" x2="194.40" y2="300.75" stroke="#24427f" stroke-width="1"/>
<line x1="204.40" y1="309.35" x2="204.40" y2="302.27" stroke="#24427f" stroke-width="1"/>
<line x1="202.20" y1="309.35" x2="206.60" y2="309.35" stroke="#24427f" stroke-width="1"/>
<line x1="202.20" y1="302.27" x2="206.60" y2="302.27" stroke="#24427f" stroke-width="1"/>
<line x1="216.00" y1="309.86" x2="216.00" y2="307.83" stroke="#24427f" stroke-width="1"/>
<line x1="213.80" y1="309.86" x2="218.20" y2="309.86" stroke="#24427f" stroke-width="1"/>
<line x1="213.80" y1="307.83" x2="218.20" y2="307.83" stroke="#24427f" stroke-width="1"/>
<polyline fill="none" stroke="#24427f" stroke-width="1.3" points="131.7,304.8 143.4,294.7 155.6,285.1 167.8,294.7 180.3,294.7 192.2,301.8 204.4,305.8 216,308.8"/>
<rect x="129.50" y="302.60" width="4.40" height="4.40" fill="#24427f"/>
<rect x="141.20" y="292.48" width="4.40" height="4.40" fill="#24427f"/>
<rect x="153.40" y="282.86" width="4.40" height="4.40" fill="#24427f"/>
<rect x="165.60" y="292.48" width="4.40" height="4.40" fill="#24427f"/>
<rect x="178.10" y="292.48" width="4.40" height="4.40" fill="#24427f"/>
<rect x="190.00" y="299.56" width="4.40" height="4.40" fill="#24427f"/>
<rect x="202.20" y="303.61" width="4.40" height="4.40" fill="#24427f"/>
<rect x="213.80" y="306.65" width="4.40" height="4.40" fill="#24427f"/>
<text x="131.70" y="300.00" font-size="7.2" text-anchor="middle" stroke="#1a1a1a">**</text>
<text x="143.40" y="290.20" font-size="7.2" text-anchor="middle" stroke="#1a1a1a">ns</text>
<text x="155.60" y="281.00" font-size="7.2" text-anchor="middle" stroke="#1a1a1a">ns</text>
<text x="167.80" y="289.00" font-size="7.2" text-anchor="middle" stroke="#1a1a1a">ns</text>
<text x="180.30" y="290.50" font-size="7.2" text-anchor="middle" stroke="#1a1a1a">*</text>
<text x="192.20" y="299.00" font-size="7.2" text-anchor="middle" stroke="#1a1a1a">***</text>
<text x="204.40" y="299.00" font-size="7.2" text-anchor="middle" stroke="#1a1a1a">**</text>
<text x="216.00" y="306.00" font-size="7.2" text-anchor="middle" stroke="#1a1a1a">***</text>
<line x1="133.00" y1="256.70" x2="145.30" y2="256.70" stroke="#24427f" stroke-width="1.2"/>
<rect x="137.30" y="254.70" width="4.00" height="4.00" fill="#24427f"/>
<text x="148.50" y="259.60" font-size="8.8" font-style="italic" stroke="#1a1a1a" letter-spacing="-0.15">Agk<tspan font-size="5.98" dy="-3.52" dx="0.3">f/f</tspan></text>
<line x1="133.00" y1="268.40" x2="145.30" y2="268.40" stroke="#b81442" stroke-width="1.2"/>
<circle cx="139.2" cy="268.4" r="2.1" fill="#b81442"/>
<text x="148.50" y="271.40" font-size="8.8" font-style="italic" stroke="#1a1a1a" letter-spacing="-0.15">Agk<tspan font-size="5.98" dy="-3.52" dx="0.3">-/-</tspan></text>
<line x1="276.50" y1="303.61" x2="276.50" y2="364.25" stroke="#1a1a1a" stroke-width="1.45"/>
<line x1="275.85" y1="363.60" x2="315.30" y2="363.60" stroke="#1a1a1a" stroke-width="1.45"/>
<line x1="273.90" y1="304.31" x2="276.50" y2="304.31" stroke="#1a1a1a" stroke-width="1"/>
<text x="270.60" y="307.11" font-size="7.8" text-anchor="end" stroke="#1a1a1a">150</text>
<line x1="273.90" y1="324.07" x2="276.50" y2="324.07" stroke="#1a1a1a" stroke-width="1"/>
<text x="270.60" y="326.88" font-size="7.8" text-anchor="end" stroke="#1a1a1a">100</text>
<line x1="273.90" y1="343.84" x2="276.50" y2="343.84" stroke="#1a1a1a" stroke-width="1"/>
<text x="270.60" y="346.64" font-size="7.8" text-anchor="end" stroke="#1a1a1a">50</text>
<line x1="273.90" y1="363.60" x2="276.50" y2="363.60" stroke="#1a1a1a" stroke-width="1"/>
<text x="270.60" y="366.41" font-size="7.8" text-anchor="end" stroke="#1a1a1a">0</text>
<line x1="285.35" y1="363.60" x2="285.35" y2="365.80" stroke="#1a1a1a" stroke-width="1"/>
<line x1="306.40" y1="363.60" x2="306.40" y2="365.80" stroke="#1a1a1a" stroke-width="1"/>
<line x1="285.35" y1="317.15" x2="285.35" y2="315.18" stroke="#2d4e88" stroke-width="1.1"/>
<line x1="282.75" y1="315.18" x2="287.95" y2="315.18" stroke="#2d4e88" stroke-width="1.1"/>
<rect x="279.70" y="317.15" width="11.30" height="46.45" fill="#2d4e88"/>
<line x1="306.40" y1="330.00" x2="306.40" y2="321.70" stroke="#a5002b" stroke-width="1.1"/>
<line x1="303.80" y1="321.70" x2="309.00" y2="321.70" stroke="#a5002b" stroke-width="1.1"/>
<rect x="300.80" y="330.00" width="11.20" height="33.60" fill="#a5002b"/>
<path d="M285.30 311.50V300.60H306.40V318.40" fill="none" stroke="#1a1a1a" stroke-width="1"/>
<text x="295.85" y="299.60" font-size="7.5" text-anchor="middle" stroke="#1a1a1a">*</text>
<text x="276.80" y="376.50" font-size="8.8" font-style="italic" stroke="#1a1a1a" letter-spacing="-0.15">Agk<tspan font-size="5.98" dy="-3.52" dx="0.3">f/f</tspan></text>
<text x="297.30" y="376.50" font-size="8.8" font-style="italic" stroke="#1a1a1a" letter-spacing="-0.15">Agk<tspan font-size="5.98" dy="-3.52" dx="0.3">-/-</tspan></text>
<text x="241.65" y="332.80" font-size="8.2" text-anchor="middle" stroke="#1a1a1a" textLength="47.6" lengthAdjust="spacingAndGlyphs" transform="rotate(-90 241.65 332.80)">CFUs-MK from</text>
<text x="252.35" y="332.80" font-size="8.2" text-anchor="middle" stroke="#1a1a1a" textLength="68.8" lengthAdjust="spacingAndGlyphs" transform="rotate(-90 252.35 332.80)">3×10<tspan font-size="5" dy="-3.2">5</tspan><tspan dy="3.2"> total BM cells</tspan></text>
<line x1="373.60" y1="304.40" x2="373.60" y2="363.95" stroke="#1a1a1a" stroke-width="1.45"/>
<line x1="372.95" y1="363.30" x2="412.00" y2="363.30" stroke="#1a1a1a" stroke-width="1.45"/>
<line x1="371.00" y1="305.10" x2="373.60" y2="305.10" stroke="#1a1a1a" stroke-width="1"/>
<text x="367.70" y="307.91" font-size="7.8" text-anchor="end" stroke="#1a1a1a">500</text>
<line x1="371.00" y1="316.74" x2="373.60" y2="316.74" stroke="#1a1a1a" stroke-width="1"/>
<text x="367.70" y="319.55" font-size="7.8" text-anchor="end" stroke="#1a1a1a">400</text>
<line x1="371.00" y1="328.38" x2="373.60" y2="328.38" stroke="#1a1a1a" stroke-width="1"/>
<text x="367.70" y="331.19" font-size="7.8" text-anchor="end" stroke="#1a1a1a">300</text>
<line x1="371.00" y1="340.02" x2="373.60" y2="340.02" stroke="#1a1a1a" stroke-width="1"/>
<text x="367.70" y="342.83" font-size="7.8" text-anchor="end" stroke="#1a1a1a">200</text>
<line x1="371.00" y1="351.66" x2="373.60" y2="351.66" stroke="#1a1a1a" stroke-width="1"/>
<text x="367.70" y="354.47" font-size="7.8" text-anchor="end" stroke="#1a1a1a">100</text>
<line x1="371.00" y1="363.30" x2="373.60" y2="363.30" stroke="#1a1a1a" stroke-width="1"/>
<text x="367.70" y="366.11" font-size="7.8" text-anchor="end" stroke="#1a1a1a">0</text>
<line x1="382.45" y1="363.30" x2="382.45" y2="365.50" stroke="#1a1a1a" stroke-width="1"/>
<line x1="403.35" y1="363.30" x2="403.35" y2="365.50" stroke="#1a1a1a" stroke-width="1"/>
<line x1="382.45" y1="313.95" x2="382.45" y2="308.48" stroke="#2d4e88" stroke-width="1.1"/>
<line x1="379.85" y1="308.48" x2="385.05" y2="308.48" stroke="#2d4e88" stroke-width="1.1"/>
<rect x="376.80" y="313.95" width="11.30" height="49.35" fill="#2d4e88"/>
<line x1="403.35" y1="340.02" x2="403.35" y2="336.88" stroke="#a5002b" stroke-width="1.1"/>
<line x1="400.75" y1="336.88" x2="405.95" y2="336.88" stroke="#a5002b" stroke-width="1.1"/>
<rect x="397.60" y="340.02" width="11.50" height="23.28" fill="#a5002b"/>
<path d="M381.60 305.00V300.10H403.40V333.10" fill="none" stroke="#1a1a1a" stroke-width="1"/>
<text x="392.50" y="299.00" font-size="7.5" text-anchor="middle" stroke="#1a1a1a">**</text>
<text x="373.20" y="376.50" font-size="8.8" font-style="italic" stroke="#1a1a1a" letter-spacing="-0.15">Agk<tspan font-size="5.98" dy="-3.52" dx="0.3">f/f</tspan></text>
<text x="394.00" y="376.50" font-size="8.8" font-style="italic" stroke="#1a1a1a" letter-spacing="-0.15">Agk<tspan font-size="5.98" dy="-3.52" dx="0.3">-/-</tspan></text>
<text x="337.65" y="336.20" font-size="8.2" text-anchor="middle" stroke="#1a1a1a" textLength="46.5" lengthAdjust="spacingAndGlyphs" transform="rotate(-90 337.65 336.20)">CFUs-MK from</text>
<text x="347.95" y="332.80" font-size="8.2" text-anchor="middle" stroke="#1a1a1a" textLength="74.6" lengthAdjust="spacingAndGlyphs" transform="rotate(-90 347.95 332.80)">1×10<tspan font-size="5" dy="-3.2">4</tspan><tspan dy="3.2"> fetal liver MKP</tspan></text>
<line x1="466.00" y1="304.80" x2="466.00" y2="364.85" stroke="#1a1a1a" stroke-width="1.45"/>
<line x1="465.35" y1="364.20" x2="506.00" y2="364.20" stroke="#1a1a1a" stroke-width="1.45"/>
<line x1="463.40" y1="305.50" x2="466.00" y2="305.50" stroke="#1a1a1a" stroke-width="1"/>
<text x="460.10" y="308.31" font-size="7.8" text-anchor="end" stroke="#1a1a1a">10</text>
<line x1="463.40" y1="317.24" x2="466.00" y2="317.24" stroke="#1a1a1a" stroke-width="1"/>
<text x="460.10" y="320.05" font-size="7.8" text-anchor="end" stroke="#1a1a1a">8</text>
<line x1="463.40" y1="328.98" x2="466.00" y2="328.98" stroke="#1a1a1a" stroke-width="1"/>
<text x="460.10" y="331.79" font-size="7.8" text-anchor="end" stroke="#1a1a1a">6</text>
<line x1="463.40" y1="340.72" x2="466.00" y2="340.72" stroke="#1a1a1a" stroke-width="1"/>
<text x="460.10" y="343.53" font-size="7.8" text-anchor="end" stroke="#1a1a1a">4</text>
<line x1="463.40" y1="352.46" x2="466.00" y2="352.46" stroke="#1a1a1a" stroke-width="1"/>
<text x="460.10" y="355.27" font-size="7.8" text-anchor="end" stroke="#1a1a1a">2</text>
<line x1="463.40" y1="364.20" x2="466.00" y2="364.20" stroke="#1a1a1a" stroke-width="1"/>
<text x="460.10" y="367.01" font-size="7.8" text-anchor="end" stroke="#1a1a1a">0</text>
<line x1="474.90" y1="364.20" x2="474.90" y2="366.40" stroke="#1a1a1a" stroke-width="1"/>
<line x1="495.95" y1="364.20" x2="495.95" y2="366.40" stroke="#1a1a1a" stroke-width="1"/>
<line x1="474.90" y1="315.48" x2="474.90" y2="311.66" stroke="#2d4e88" stroke-width="1.1"/>
<line x1="472.30" y1="311.66" x2="477.50" y2="311.66" stroke="#2d4e88" stroke-width="1.1"/>
<rect x="469.20" y="315.48" width="11.40" height="48.72" fill="#2d4e88"/>
<line x1="495.95" y1="312.54" x2="495.95" y2="309.90" stroke="#a5002b" stroke-width="1.1"/>
<line x1="493.35" y1="309.90" x2="498.55" y2="309.90" stroke="#a5002b" stroke-width="1.1"/>
<rect x="490.30" y="312.54" width="11.30" height="51.66" fill="#a5002b"/>
<path d="M474.40 306.50V303.00H496.30V306.50" fill="none" stroke="#1a1a1a" stroke-width="1"/>
<text x="485.35" y="300.50" font-size="7.5" text-anchor="middle" stroke="#1a1a1a">ns</text>
<text x="466.00" y="376.50" font-size="8.8" font-style="italic" stroke="#1a1a1a" letter-spacing="-0.15">Agk<tspan font-size="5.98" dy="-3.52" dx="0.3">f/f</tspan></text>
<text x="487.00" y="376.50" font-size="8.8" font-style="italic" stroke="#1a1a1a" letter-spacing="-0.15">Agk<tspan font-size="5.98" dy="-3.52" dx="0.3">-/-</tspan></text>
<text x="433.45" y="333.80" font-size="8.2" text-anchor="middle" stroke="#1a1a1a" textLength="58.5" lengthAdjust="spacingAndGlyphs" transform="rotate(-90 433.45 333.80)">Plasma TPO levels</text>
<text x="446.25" y="333.20" font-size="8.2" text-anchor="middle" stroke="#1a1a1a" textLength="46.8" lengthAdjust="spacingAndGlyphs" transform="rotate(-90 446.25 333.20)">(×10<tspan font-size="5" dy="-3.2">2</tspan><tspan dy="3.2"> pg/mL)</tspan></text>
<text x="54.00" y="424.00" font-size="8.2" stroke="#1a1a1a" textLength="46" lengthAdjust="spacingAndGlyphs"><tspan fill="#7cbc3c">Tubulin</tspan><tspan fill="#3a3aa0">/DAPI</tspan></text>
<rect x="7.00" y="428.30" width="69.30" height="69.00" fill="#02061a"/>
<svg x="7" y="428.3" width="69.3" height="69" overflow="hidden">
<path d="M0 52.9 Q4 51 8.1 51.6 Q12 52 14.9 54.3 Q17.5 57 17.6 61 Q16.5 65 13.6 66.5 Q8 68.5 4 67.8 Q1 67 0 65 Z" fill="#58b038" opacity="0.55"/>
<path d="M0 52.9 Q4 51 8.1 51.6 Q12 52 14.9 54.3 Q17.5 57 17.6 61 Q16.5 65 13.6 66.5 Q8 68.5 4 67.8" fill="none" stroke="#80e048" stroke-width="0.8"/>
<path d="M52.2 2 Q51.5 4 50.9 5.4 Q49 8 48.2 10.9 Q47 13.5 46.8 16.3 Q46.5 19 46.1 21.7 Q45.5 24.5 44.1 27.1 Q42.5 30 40.7 32.6 Q40 34.5 39.3 36 M46.8 16.3 Q51 18.5 54.3 22.4 Q53.5 25 51.6 25.8 M40.7 13.6 Q43.5 15 46.1 17.6 M39.3 36 Q30 37 20.4 38.7 M39.3 36 Q31 34.5 23 36.6 M39.3 36 Q34 34 28.5 35.3 M39.3 36 Q40 38.5 39.3 40.7 Q35 43 31.2 46.1 Q29 49 27.1 51.6 Q23.5 54.5 20.4 57 M32.6 40.7 Q35 42.5 36.6 44.8 M27.1 54.3 Q27.6 61 27.8 67.8 M24 46 Q20 47 16 49 M36 38 Q37 44 35 50 M42 30 Q45 31.5 47.5 30" stroke="#70d83a" stroke-width="1.6" fill="none" opacity="0.25"/>
<path d="M52.2 2 Q51.5 4 50.9 5.4 Q49 8 48.2 10.9 Q47 13.5 46.8 16.3 Q46.5 19 46.1 21.7 Q45.5 24.5 44.1 27.1 Q42.5 30 40.7 32.6 Q40 34.5 39.3 36 M46.8 16.3 Q51 18.5 54.3 22.4 Q53.5 25 51.6 25.8 M40.7 13.6 Q43.5 15 46.1 17.6 M39.3 36 Q30 37 20.4 38.7 M39.3 36 Q31 34.5 23 36.6 M39.3 36 Q34 34 28.5 35.3 M39.3 36 Q40 38.5 39.3 40.7 Q35 43 31.2 46.1 Q29 49 27.1 51.6 Q23.5 54.5 20.4 57 M32.6 40.7 Q35 42.5 36.6 44.8 M27.1 54.3 Q27.6 61 27.8 67.8 M24 46 Q20 47 16 49 M36 38 Q37 44 35 50 M42 30 Q45 31.5 47.5 30" stroke="#8aec50" stroke-width="0.75" fill="none"/>
<circle cx="21" cy="57.7" r="5" fill="#58b038" opacity="0.45"/>
<circle cx="21" cy="57.7" r="5" fill="none" stroke="#80e048" stroke-width="0.9"/>
<circle cx="44.8" cy="12.9" r="2" fill="#2a62f0"/>
<circle cx="7.5" cy="29.2" r="1.6" fill="#2a62f0"/>
<circle cx="2" cy="40" r="2" fill="#2a62f0"/>
<circle cx="10.2" cy="40.7" r="1.8" fill="#2a62f0"/>
<circle cx="4" cy="46" r="1.8" fill="#2a62f0"/>
<circle cx="23" cy="44.8" r="2.2" fill="#2a62f0"/>
<circle cx="17.6" cy="47.5" r="1.8" fill="#2a62f0"/>
<circle cx="25" cy="48.2" r="1.5" fill="#2a62f0"/>
<circle cx="38" cy="40" r="1.8" fill="#2a62f0"/>
<circle cx="38" cy="48.2" r="1.6" fill="#2a62f0"/>
<circle cx="6" cy="57" r="3" fill="#2a62f0"/>
<circle cx="9.5" cy="59" r="2.5" fill="#2a62f0"/>
<circle cx="3" cy="60" r="2.2" fill="#2a62f0"/>
<circle cx="21" cy="57.7" r="3.5" fill="#2a62f0"/>
<circle cx="44.8" cy="66.5" r="1.5" fill="#2a62f0"/>
<circle cx="40" cy="67" r="1.2" fill="#2a62f0"/>
</svg>
<text x="10.40" y="440.50" font-size="8.8" font-style="italic" fill="#f8f8f8" stroke="#f8f8f8" style="stroke-width:0.32px" letter-spacing="-0.15">Agk<tspan font-size="5.98" dy="-3.52" dx="0.3">f/f</tspan></text>
<text x="63.50" y="489.30" font-size="8.3" text-anchor="middle" fill="#fff" stroke="#fff" style="stroke-width:0.32px">50μm</text>
<line x1="53.80" y1="492.00" x2="72.00" y2="492.00" stroke="#fff" stroke-width="1.5"/>
<rect x="78.20" y="428.30" width="68.30" height="69.00" fill="#000"/>
<svg x="78.2" y="428.3" width="68.3" height="69" overflow="hidden">
<path d="M3 19 Q15 12 32 5 M0 38 L8 33 M36 47 Q38 50 39 53" stroke="#6ad838" stroke-width="0.9" fill="none"/>
<path d="M27 25 Q24 30 26 34 Q25 38 29 40 Q31 44 33 47 Q37 44 35 40 Q32 36 31 32 Q32 27 27 25 Z" fill="#5cd030" opacity="0.8"/>
<path d="M33 16 Q36 20 35 23 Q37 26 35 29 M35 22 Q38 22 39 25 Q38 28 39 30" stroke="#6ad838" stroke-width="1.5" fill="none"/>
<circle cx="6" cy="13" r="3" fill="#5cd030" opacity="0.85"/>
<circle cx="6" cy="13" r="2" fill="#2a62f0"/>
<circle cx="10" cy="21" r="2.5" fill="#5cd030" opacity="0.85"/>
<circle cx="10" cy="21" r="1.5" fill="#2a62f0"/>
<circle cx="28" cy="29" r="3.5" fill="#5cd030" opacity="0.85"/>
<circle cx="28" cy="29" r="2.2" fill="#2a62f0"/>
<circle cx="28.5" cy="36" r="3" fill="#5cd030" opacity="0.85"/>
<circle cx="28.5" cy="36" r="2" fill="#2a62f0"/>
<circle cx="34" cy="44" r="4.5" fill="#5cd030" opacity="0.85"/>
<circle cx="34" cy="44" r="2.8" fill="#2a62f0"/>
<circle cx="49" cy="5" r="1.5" fill="#5cd030" opacity="0.85"/>
<circle cx="49" cy="5" r="1" fill="#2a62f0"/>
<circle cx="61" cy="2" r="1.2" fill="#5cd030" opacity="0.85"/>
<circle cx="61" cy="2" r="0.8" fill="#2a62f0"/>
<circle cx="65" cy="14" r="2" fill="#5cd030" opacity="0.85"/>
<circle cx="65" cy="14" r="1.3" fill="#2a62f0"/>
<circle cx="63" cy="22" r="1.5" fill="#5cd030" opacity="0.85"/>
<circle cx="63" cy="22" r="1" fill="#2a62f0"/>
<circle cx="59" cy="23" r="1.2" fill="#5cd030" opacity="0.85"/>
<circle cx="59" cy="23" r="0.8" fill="#2a62f0"/>
<circle cx="58" cy="34" r="1.3" fill="#5cd030" opacity="0.85"/>
<circle cx="58" cy="34" r="0.8" fill="#2a62f0"/>
<circle cx="67" cy="29" r="1.2" fill="#5cd030" opacity="0.85"/>
<circle cx="67" cy="29" r="0.8" fill="#2a62f0"/>
<circle cx="3" cy="34" r="1.2" fill="#5cd030" opacity="0.85"/>
<circle cx="3" cy="34" r="0.8" fill="#2a62f0"/>
<circle cx="11" cy="50" r="1.2" fill="#5cd030" opacity="0.85"/>
<circle cx="11" cy="50" r="0.8" fill="#2a62f0"/>
<circle cx="15" cy="58" r="1.3" fill="#5cd030" opacity="0.85"/>
<circle cx="15" cy="58" r="0.9" fill="#2a62f0"/>
<circle cx="20" cy="63" r="1.2" fill="#5cd030" opacity="0.85"/>
<circle cx="20" cy="63" r="0.8" fill="#2a62f0"/>
<circle cx="28" cy="63" r="1.5" fill="#5cd030" opacity="0.85"/>
<circle cx="28" cy="63" r="1" fill="#2a62f0"/>
<circle cx="38" cy="65" r="1" fill="#5cd030" opacity="0.85"/>
<circle cx="38" cy="65" r="0.7" fill="#2a62f0"/>
<circle cx="45" cy="62" r="1.2" fill="#5cd030" opacity="0.85"/>
<circle cx="45" cy="62" r="0.8" fill="#2a62f0"/>
<circle cx="54" cy="53" r="1.4" fill="#5cd030" opacity="0.85"/>
<circle cx="54" cy="53" r="0.9" fill="#2a62f0"/>
<circle cx="61" cy="52" r="1.4" fill="#5cd030" opacity="0.85"/>
<circle cx="61" cy="52" r="0.9" fill="#2a62f0"/>
<circle cx="42" cy="40" r="1" fill="#5cd030" opacity="0.85"/>
<circle cx="42" cy="40" r="0.7" fill="#2a62f0"/>
<circle cx="34" cy="50" r="1" fill="#5cd030" opacity="0.85"/>
<circle cx="34" cy="50" r="0.6" fill="#2a62f0"/>
<circle cx="22" cy="8" r="1" fill="#5cd030" opacity="0.85"/>
<circle cx="22" cy="8" r="0.6" fill="#2a62f0"/>
<circle cx="67" cy="60" r="1" fill="#5cd030" opacity="0.85"/>
<circle cx="67" cy="60" r="0.6" fill="#2a62f0"/>
</svg>
<text x="83.50" y="440.50" font-size="8.8" font-style="italic" fill="#eeeeee" stroke="#eeeeee" style="stroke-width:0.32px" letter-spacing="-0.15">Agk<tspan font-size="5.98" dy="-3.52" dx="0.3">-/-</tspan></text>
<text x="135.50" y="489.30" font-size="8.3" text-anchor="middle" fill="#fff" stroke="#fff" style="stroke-width:0.32px">50μm</text>
<line x1="126.40" y1="493.00" x2="144.50" y2="493.00" stroke="#fff" stroke-width="1.5"/>
<line x1="184.60" y1="427.40" x2="184.60" y2="494.05" stroke="#1a1a1a" stroke-width="1.45"/>
<line x1="183.95" y1="493.40" x2="223.20" y2="493.40" stroke="#1a1a1a" stroke-width="1.45"/>
<line x1="182.00" y1="428.10" x2="184.60" y2="428.10" stroke="#1a1a1a" stroke-width="1"/>
<text x="178.70" y="430.91" font-size="7.8" text-anchor="end" stroke="#1a1a1a">20</text>
<line x1="182.00" y1="444.42" x2="184.60" y2="444.42" stroke="#1a1a1a" stroke-width="1"/>
<text x="178.70" y="447.23" font-size="7.8" text-anchor="end" stroke="#1a1a1a">15</text>
<line x1="182.00" y1="460.75" x2="184.60" y2="460.75" stroke="#1a1a1a" stroke-width="1"/>
<text x="178.70" y="463.56" font-size="7.8" text-anchor="end" stroke="#1a1a1a">10</text>
<line x1="182.00" y1="477.07" x2="184.60" y2="477.07" stroke="#1a1a1a" stroke-width="1"/>
<text x="178.70" y="479.88" font-size="7.8" text-anchor="end" stroke="#1a1a1a">5</text>
<line x1="182.00" y1="493.40" x2="184.60" y2="493.40" stroke="#1a1a1a" stroke-width="1"/>
<text x="178.70" y="496.21" font-size="7.8" text-anchor="end" stroke="#1a1a1a">0</text>
<line x1="193.60" y1="493.40" x2="193.60" y2="495.60" stroke="#1a1a1a" stroke-width="1"/>
<line x1="215.10" y1="493.40" x2="215.10" y2="495.60" stroke="#1a1a1a" stroke-width="1"/>
<line x1="193.60" y1="458.14" x2="193.60" y2="443.77" stroke="#2d4e88" stroke-width="1.1"/>
<line x1="191.00" y1="443.77" x2="196.20" y2="443.77" stroke="#2d4e88" stroke-width="1.1"/>
<rect x="187.90" y="458.14" width="11.40" height="35.26" fill="#2d4e88"/>
<line x1="215.10" y1="480.67" x2="215.10" y2="476.10" stroke="#a5002b" stroke-width="1.1"/>
<line x1="212.50" y1="476.10" x2="217.70" y2="476.10" stroke="#a5002b" stroke-width="1.1"/>
<rect x="209.50" y="480.67" width="11.20" height="12.73" fill="#a5002b"/>
<path d="M193.30 440.40V437.00H215.10V469.70" fill="none" stroke="#1a1a1a" stroke-width="1"/>
<text x="204.20" y="436.50" font-size="7.5" text-anchor="middle" stroke="#1a1a1a">***</text>
<text x="184.80" y="506.00" font-size="8.8" font-style="italic" stroke="#1a1a1a" letter-spacing="-0.15">Agk<tspan font-size="5.98" dy="-3.52" dx="0.3">f/f</tspan></text>
<text x="205.50" y="506.00" font-size="8.8" font-style="italic" stroke="#1a1a1a" letter-spacing="-0.15">Agk<tspan font-size="5.98" dy="-3.52" dx="0.3">-/-</tspan></text>
<text x="165.55" y="458.60" font-size="8.2" text-anchor="middle" stroke="#1a1a1a" textLength="77.6" lengthAdjust="spacingAndGlyphs" transform="rotate(-90 165.55 458.60)">PPF-megakaryocytes (%)</text>
<line x1="268.40" y1="430.12" x2="268.40" y2="493.95" stroke="#1a1a1a" stroke-width="1.45"/>
<line x1="267.75" y1="493.30" x2="411.70" y2="493.30" stroke="#1a1a1a" stroke-width="1.45"/>
<line x1="265.80" y1="430.82" x2="268.40" y2="430.82" stroke="#1a1a1a" stroke-width="1"/>
<text x="262.50" y="433.63" font-size="7.8" text-anchor="end" stroke="#1a1a1a">80</text>
<line x1="265.80" y1="446.44" x2="268.40" y2="446.44" stroke="#1a1a1a" stroke-width="1"/>
<text x="262.50" y="449.25" font-size="7.8" text-anchor="end" stroke="#1a1a1a">60</text>
<line x1="265.80" y1="462.06" x2="268.40" y2="462.06" stroke="#1a1a1a" stroke-width="1"/>
<text x="262.50" y="464.87" font-size="7.8" text-anchor="end" stroke="#1a1a1a">40</text>
<line x1="265.80" y1="477.68" x2="268.40" y2="477.68" stroke="#1a1a1a" stroke-width="1"/>
<text x="262.50" y="480.49" font-size="7.8" text-anchor="end" stroke="#1a1a1a">20</text>
<line x1="265.80" y1="493.30" x2="268.40" y2="493.30" stroke="#1a1a1a" stroke-width="1"/>
<text x="262.50" y="496.11" font-size="7.8" text-anchor="end" stroke="#1a1a1a">0</text>
<line x1="281.20" y1="493.30" x2="281.20" y2="495.50" stroke="#1a1a1a" stroke-width="1"/>
<line x1="304.80" y1="493.30" x2="304.80" y2="495.50" stroke="#1a1a1a" stroke-width="1"/>
<line x1="328.80" y1="493.30" x2="328.80" y2="495.50" stroke="#1a1a1a" stroke-width="1"/>
<line x1="352.50" y1="493.30" x2="352.50" y2="495.50" stroke="#1a1a1a" stroke-width="1"/>
<line x1="376.20" y1="493.30" x2="376.20" y2="495.50" stroke="#1a1a1a" stroke-width="1"/>
<line x1="400.00" y1="493.30" x2="400.00" y2="495.50" stroke="#1a1a1a" stroke-width="1"/>
<line x1="276.20" y1="489.79" x2="276.20" y2="488.61" stroke="#2d4e88" stroke-width="1"/>
<line x1="273.70" y1="488.61" x2="278.70" y2="488.61" stroke="#2d4e88" stroke-width="1"/>
<line x1="286.20" y1="487.44" x2="286.20" y2="486.51" stroke="#a5002b" stroke-width="1"/>
<line x1="283.70" y1="486.51" x2="288.70" y2="486.51" stroke="#a5002b" stroke-width="1"/>
<rect x="271.20" y="489.79" width="10.00" height="3.51" fill="#2d4e88"/>
<rect x="281.20" y="487.44" width="9.80" height="5.86" fill="#a5002b"/>
<line x1="299.80" y1="477.29" x2="299.80" y2="471.43" stroke="#2d4e88" stroke-width="1"/>
<line x1="297.30" y1="471.43" x2="302.30" y2="471.43" stroke="#2d4e88" stroke-width="1"/>
<line x1="309.80" y1="445.27" x2="309.80" y2="443.71" stroke="#a5002b" stroke-width="1"/>
<line x1="307.30" y1="443.71" x2="312.30" y2="443.71" stroke="#a5002b" stroke-width="1"/>
<rect x="294.80" y="477.29" width="10.00" height="16.01" fill="#2d4e88"/>
<rect x="304.80" y="445.27" width="9.80" height="48.03" fill="#a5002b"/>
<line x1="323.80" y1="454.64" x2="323.80" y2="453.08" stroke="#2d4e88" stroke-width="1"/>
<line x1="321.30" y1="453.08" x2="326.30" y2="453.08" stroke="#2d4e88" stroke-width="1"/>
<line x1="333.80" y1="475.73" x2="333.80" y2="475.34" stroke="#a5002b" stroke-width="1"/>
<line x1="331.30" y1="475.34" x2="336.30" y2="475.34" stroke="#a5002b" stroke-width="1"/>
<rect x="318.80" y="454.64" width="10.00" height="38.66" fill="#2d4e88"/>
<rect x="328.80" y="475.73" width="9.80" height="17.57" fill="#a5002b"/>
<line x1="347.50" y1="485.10" x2="347.50" y2="482.37" stroke="#2d4e88" stroke-width="1"/>
<line x1="345.00" y1="482.37" x2="350.00" y2="482.37" stroke="#2d4e88" stroke-width="1"/>
<line x1="357.50" y1="490.57" x2="357.50" y2="490.25" stroke="#a5002b" stroke-width="1"/>
<line x1="355.00" y1="490.25" x2="360.00" y2="490.25" stroke="#a5002b" stroke-width="1"/>
<rect x="342.50" y="485.10" width="10.00" height="8.20" fill="#2d4e88"/>
<rect x="352.50" y="490.57" width="9.80" height="2.73" fill="#a5002b"/>
<line x1="371.20" y1="486.66" x2="371.20" y2="484.32" stroke="#2d4e88" stroke-width="1"/>
<line x1="368.70" y1="484.32" x2="373.70" y2="484.32" stroke="#2d4e88" stroke-width="1"/>
<line x1="381.20" y1="491.35" x2="381.20" y2="491.11" stroke="#a5002b" stroke-width="1"/>
<line x1="378.70" y1="491.11" x2="383.70" y2="491.11" stroke="#a5002b" stroke-width="1"/>
<rect x="366.20" y="486.66" width="10.00" height="6.64" fill="#2d4e88"/>
<rect x="376.20" y="491.35" width="9.80" height="1.95" fill="#a5002b"/>
<line x1="395.00" y1="490.57" x2="395.00" y2="489.40" stroke="#2d4e88" stroke-width="1"/>
<line x1="392.50" y1="489.40" x2="397.50" y2="489.40" stroke="#2d4e88" stroke-width="1"/>
<line x1="405.00" y1="492.52" x2="405.00" y2="492.36" stroke="#a5002b" stroke-width="1"/>
<line x1="402.50" y1="492.36" x2="407.50" y2="492.36" stroke="#a5002b" stroke-width="1"/>
<rect x="390.00" y="490.57" width="10.00" height="2.73" fill="#2d4e88"/>
<rect x="400.00" y="492.52" width="9.80" height="0.78" fill="#a5002b"/>
<text x="281.20" y="507.00" font-size="8.2" text-anchor="middle" stroke="#1a1a1a">2N</text>
<text x="304.80" y="507.00" font-size="8.2" text-anchor="middle" stroke="#1a1a1a">4N</text>
<text x="328.80" y="507.00" font-size="8.2" text-anchor="middle" stroke="#1a1a1a">8N</text>
<text x="352.50" y="507.00" font-size="8.2" text-anchor="middle" stroke="#1a1a1a">16N</text>
<text x="376.20" y="507.00" font-size="8.2" text-anchor="middle" stroke="#1a1a1a">32N</text>
<text x="400.00" y="507.00" font-size="8.2" text-anchor="middle" stroke="#1a1a1a">64N</text>
<text x="286.20" y="485.20" font-size="7.2" text-anchor="middle" stroke="#1a1a1a">***</text>
<text x="309.80" y="443.00" font-size="7.2" text-anchor="middle" stroke="#1a1a1a">***</text>
<text x="333.80" y="474.50" font-size="7.2" text-anchor="middle" stroke="#1a1a1a">**</text>
<text x="357.50" y="490.30" font-size="7.2" text-anchor="middle" stroke="#1a1a1a">*</text>
<text x="381.20" y="491.00" font-size="7.2" text-anchor="middle" stroke="#1a1a1a">*</text>
<text x="405.00" y="491.50" font-size="7.2" text-anchor="middle" stroke="#1a1a1a">*</text>
<text x="248.05" y="460.50" font-size="8.2" text-anchor="middle" stroke="#1a1a1a" textLength="49.7" lengthAdjust="spacingAndGlyphs" transform="rotate(-90 248.05 460.50)">Cell counts (%)</text>
<rect x="383.80" y="433.40" width="4.00" height="4.00" fill="#2d4e88"/>
<text x="391.20" y="438.60" font-size="8.8" font-style="italic" stroke="#1a1a1a" letter-spacing="-0.15">Agk<tspan font-size="5.98" dy="-3.52" dx="0.3">f/f</tspan></text>
<rect x="383.80" y="445.50" width="4.00" height="4.00" fill="#a5002b"/>
<text x="391.20" y="450.70" font-size="8.8" font-style="italic" stroke="#1a1a1a" letter-spacing="-0.15">Agk<tspan font-size="5.98" dy="-3.52" dx="0.3">-/-</tspan></text>
<rect x="0.5" y="0.5" width="519" height="515" fill="none" stroke="#000" stroke-width="1.3"/>
</svg>
</body></html>
